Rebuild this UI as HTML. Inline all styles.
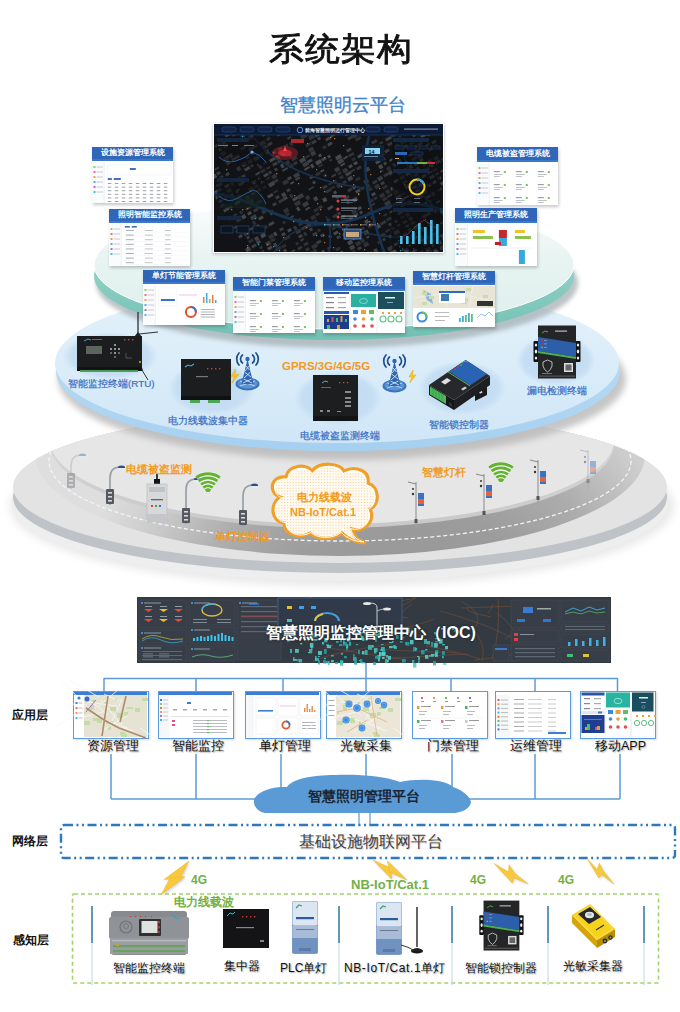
<!DOCTYPE html>
<html><head><meta charset="utf-8">
<style>
*{margin:0;padding:0;box-sizing:border-box}
html,body{width:680px;height:1012px;overflow:hidden;background:#fff;font-family:"Liberation Sans",sans-serif}
.a{position:absolute}
svg.a{overflow:visible}
.t{position:absolute;white-space:nowrap;line-height:1}
.lbl{position:absolute;white-space:nowrap;line-height:1;font-size:12.5px;color:#111;text-shadow:1px 1px 1.5px rgba(0,0,0,.35)}
.dl{position:absolute;white-space:nowrap;line-height:1;font-size:9.8px;color:#3a6cc0;-webkit-text-stroke:0.2px #3a6cc0}
.or{position:absolute;white-space:nowrap;line-height:1;font-size:10.5px;color:#f29a1e;font-weight:bold}
.gr{position:absolute;white-space:nowrap;line-height:1;font-size:12px;color:#72b043;font-weight:bold}
</style></head>
<body>
<svg class="a" style="left:0;top:0" width="680" height="1012" viewBox="0 0 680 1012">
<defs>
 <linearGradient id="g1s" x1="0" y1="0" x2="0" y2="1"><stop offset="0" stop-color="#fbfdfd"/><stop offset="0.45" stop-color="#e8f4f2"/><stop offset="1" stop-color="#dcefec"/></linearGradient>
 <linearGradient id="g1r" x1="0" y1="0" x2="0" y2="1"><stop offset="0" stop-color="#a8dcd3"/><stop offset="1" stop-color="#72c0b3"/></linearGradient>
 <linearGradient id="g2s" x1="0" y1="0" x2="0" y2="1"><stop offset="0" stop-color="#e4f2fb"/><stop offset="0.5" stop-color="#dbedf9"/><stop offset="1" stop-color="#d0e6f7"/></linearGradient>
 <linearGradient id="g2r" x1="0" y1="0" x2="0" y2="1"><stop offset="0" stop-color="#c4e2f6"/><stop offset="1" stop-color="#a6d0f0"/></linearGradient>
 <linearGradient id="g3s" x1="0" y1="0" x2="0" y2="1"><stop offset="0" stop-color="#eeeeee"/><stop offset="1" stop-color="#e0e0e0"/></linearGradient>
 <radialGradient id="g3road" gradientUnits="userSpaceOnUse" cx="410" cy="640" r="335" fx="410" fy="640"><stop offset="0" stop-color="#949494"/><stop offset="0.4" stop-color="#9c9c9c"/><stop offset="0.62" stop-color="#acacac"/><stop offset="0.85" stop-color="#cdcdcd"/><stop offset="1" stop-color="#dedede"/></radialGradient><linearGradient id="g3wall" gradientUnits="userSpaceOnUse" x1="0" y1="440" x2="0" y2="528"><stop offset="0" stop-color="#d8d8d8"/><stop offset="1" stop-color="#c8c8c8"/></linearGradient>
 <radialGradient id="halo" cx="0.5" cy="0.5" r="0.5"><stop offset="0" stop-color="#c0daf1"/><stop offset="0.8" stop-color="#c6def3"/><stop offset="1" stop-color="#c6def3" stop-opacity="0"/></radialGradient>
 <filter id="blur4" x="-20%" y="-50%" width="140%" height="200%"><feGaussianBlur stdDeviation="4"/></filter>
 <filter id="blur2"><feGaussianBlur stdDeviation="2"/></filter><filter id="blur3" x="-10%" y="-20%" width="120%" height="140%"><feGaussianBlur stdDeviation="3"/></filter>
 <filter id="sh1" x="-10%" y="-10%" width="130%" height="130%"><feGaussianBlur in="SourceAlpha" stdDeviation="1.2"/><feOffset dx="1" dy="1.5"/><feComponentTransfer><feFuncA type="linear" slope="0.35"/></feComponentTransfer><feMerge><feMergeNode/><feMergeNode in="SourceGraphic"/></feMerge></filter>
</defs>
<!-- disc 3 -->
<clipPath id="d3clip"><ellipse cx="340" cy="487" rx="327" ry="76"/></clipPath>
<ellipse cx="342" cy="506" rx="332" ry="80" fill="#e8e8e8" filter="url(#blur4)"/>
<ellipse cx="340" cy="504" rx="328" ry="77" fill="#eeeeee"/>
<ellipse cx="340" cy="497" rx="327" ry="76" fill="#bfc3c7"/>
<ellipse cx="340" cy="487" rx="327" ry="76" fill="#e3e3e3"/>
<g clip-path="url(#d3clip)">
<ellipse cx="340" cy="455" rx="305" ry="101" fill="url(#g3road)"/>
<ellipse cx="340" cy="461" rx="291" ry="80" fill="none" stroke="#f4f4f4" stroke-width="1.3" stroke-dasharray="4 2.5"/>
<ellipse cx="332" cy="444" rx="282" ry="84" fill="url(#g3wall)"/>
<ellipse cx="332" cy="440" rx="282" ry="84" fill="#e6e6e6"/>
</g>
<!-- disc 2 -->
<ellipse cx="342" cy="379" rx="284" ry="81" fill="#b4b4b4" filter="url(#blur3)" opacity="0.75"/>
<ellipse cx="338" cy="371" rx="282" ry="80" fill="url(#g2r)"/>
<ellipse cx="337" cy="363" rx="282" ry="80" fill="url(#g2s)"/>
<ellipse cx="110" cy="356" rx="48" ry="24" fill="url(#halo)"/>
<ellipse cx="212" cy="388" rx="44" ry="27" fill="url(#halo)"/>
<ellipse cx="338" cy="398" rx="44" ry="27" fill="url(#halo)"/>
<ellipse cx="462" cy="388" rx="44" ry="27" fill="url(#halo)"/>
<ellipse cx="556" cy="360" rx="40" ry="26" fill="url(#halo)"/>
<!-- disc 1 -->
<ellipse cx="337" cy="283" rx="241" ry="65" fill="#a2acb0" filter="url(#blur2)" opacity="0.7"/>
<ellipse cx="334" cy="276" rx="240" ry="64" fill="url(#g1r)"/>
<ellipse cx="334" cy="265" rx="240" ry="64" fill="url(#g1s)" stroke="#fff" stroke-width="1"/>
</svg>
<div class="t" style="left:269px;top:31.5px;font-size:35.2px;letter-spacing:1px;font-weight:normal;color:#111;-webkit-text-stroke:0.9px #111;transform:scaleY(0.92);transform-origin:0 0">系统架构</div><div class="t" style="left:280px;top:96px;font-size:18px;color:#4284cc;-webkit-text-stroke:0.35px #4284cc">智慧照明云平台</div><div class="a" style="left:213px;top:123px;width:231px;height:130px;background:#fff;box-shadow:0 1px 3px rgba(0,0,0,.25)"><div class="a" style="left:1px;top:1px;width:229px;height:128px"><svg width="229" height="128" viewBox="0 0 229 128"><rect width="229" height="128" fill="#111316"/><rect x="-7" y="20" width="3" height="3" fill="#323539" transform="rotate(-30 -7 20)"/><rect x="10" y="10" width="5" height="4" fill="#3f4246" transform="rotate(-30 10 10)"/><rect x="-4" y="24" width="6" height="2" fill="#2b2e32" transform="rotate(-30 -4 24)"/><rect x="1" y="21" width="6" height="3" fill="#2e3135" transform="rotate(-30 1 21)"/><rect x="7" y="18" width="4" height="4" fill="#383b3f" transform="rotate(-30 7 18)"/><rect x="18" y="11" width="5" height="2" fill="#383b3f" transform="rotate(-30 18 11)"/><rect x="-8" y="32" width="4" height="4" fill="#323539" transform="rotate(-30 -8 32)"/><rect x="4" y="25" width="3" height="3" fill="#3f4246" transform="rotate(-30 4 25)"/><rect x="9" y="22" width="5" height="3" fill="#323539" transform="rotate(-30 9 22)"/><rect x="26" y="12" width="4" height="4" fill="#2e3135" transform="rotate(-30 26 12)"/><rect x="-5" y="36" width="4" height="4" fill="#45484c" transform="rotate(-30 -5 36)"/><rect x="6" y="29" width="5" height="4" fill="#2b2e32" transform="rotate(-30 6 29)"/><rect x="29" y="16" width="4" height="2" fill="#45484c" transform="rotate(-30 29 16)"/><rect x="34" y="13" width="5" height="4" fill="#2e3135" transform="rotate(-30 34 13)"/><rect x="9" y="34" width="5" height="4" fill="#383b3f" transform="rotate(-30 9 34)"/><rect x="14" y="31" width="4" height="4" fill="#45484c" transform="rotate(-30 14 31)"/><rect x="26" y="24" width="6" height="3" fill="#2e3135" transform="rotate(-30 26 24)"/><rect x="31" y="21" width="3" height="2" fill="#2b2e32" transform="rotate(-30 31 21)"/><rect x="48" y="11" width="3" height="2" fill="#3f4246" transform="rotate(-30 48 11)"/><rect x="-0" y="45" width="5" height="2" fill="#323539" transform="rotate(-30 -0 45)"/><rect x="11" y="38" width="4" height="4" fill="#45484c" transform="rotate(-30 11 38)"/><rect x="17" y="35" width="6" height="3" fill="#45484c" transform="rotate(-30 17 35)"/><rect x="22" y="32" width="3" height="3" fill="#45484c" transform="rotate(-30 22 32)"/><rect x="34" y="25" width="6" height="3" fill="#323539" transform="rotate(-30 34 25)"/><rect x="39" y="22" width="4" height="3" fill="#383b3f" transform="rotate(-30 39 22)"/><rect x="45" y="19" width="6" height="4" fill="#3f4246" transform="rotate(-30 45 19)"/><rect x="51" y="15" width="5" height="3" fill="#2e3135" transform="rotate(-30 51 15)"/><rect x="62" y="9" width="4" height="4" fill="#45484c" transform="rotate(-30 62 9)"/><rect x="-3" y="52" width="5" height="4" fill="#45484c" transform="rotate(-30 -3 52)"/><rect x="2" y="49" width="4" height="3" fill="#383b3f" transform="rotate(-30 2 49)"/><rect x="31" y="33" width="4" height="3" fill="#323539" transform="rotate(-30 31 33)"/><rect x="36" y="29" width="4" height="3" fill="#3f4246" transform="rotate(-30 36 29)"/><rect x="48" y="23" width="5" height="3" fill="#45484c" transform="rotate(-30 48 23)"/><rect x="53" y="20" width="5" height="3" fill="#323539" transform="rotate(-30 53 20)"/><rect x="70" y="10" width="4" height="2" fill="#2e3135" transform="rotate(-30 70 10)"/><rect x="5" y="53" width="4" height="3" fill="#323539" transform="rotate(-30 5 53)"/><rect x="11" y="50" width="4" height="3" fill="#383b3f" transform="rotate(-30 11 50)"/><rect x="22" y="44" width="4" height="4" fill="#2e3135" transform="rotate(-30 22 44)"/><rect x="27" y="40" width="5" height="4" fill="#2b2e32" transform="rotate(-30 27 40)"/><rect x="33" y="37" width="5" height="4" fill="#2e3135" transform="rotate(-30 33 37)"/><rect x="39" y="34" width="6" height="4" fill="#383b3f" transform="rotate(-30 39 34)"/><rect x="44" y="31" width="5" height="3" fill="#2b2e32" transform="rotate(-30 44 31)"/><rect x="50" y="27" width="4" height="4" fill="#383b3f" transform="rotate(-30 50 27)"/><rect x="73" y="14" width="4" height="2" fill="#383b3f" transform="rotate(-30 73 14)"/><rect x="2" y="61" width="6" height="3" fill="#383b3f" transform="rotate(-30 2 61)"/><rect x="30" y="45" width="6" height="3" fill="#3f4246" transform="rotate(-30 30 45)"/><rect x="36" y="41" width="3" height="3" fill="#2e3135" transform="rotate(-30 36 41)"/><rect x="58" y="28" width="3" height="3" fill="#323539" transform="rotate(-30 58 28)"/><rect x="64" y="25" width="4" height="2" fill="#3f4246" transform="rotate(-30 64 25)"/><rect x="69" y="22" width="5" height="3" fill="#2b2e32" transform="rotate(-30 69 22)"/><rect x="75" y="19" width="3" height="4" fill="#2b2e32" transform="rotate(-30 75 19)"/><rect x="86" y="12" width="6" height="4" fill="#2e3135" transform="rotate(-30 86 12)"/><rect x="92" y="9" width="3" height="3" fill="#2e3135" transform="rotate(-30 92 9)"/><rect x="-1" y="68" width="6" height="3" fill="#45484c" transform="rotate(-30 -1 68)"/><rect x="4" y="65" width="3" height="3" fill="#383b3f" transform="rotate(-30 4 65)"/><rect x="10" y="62" width="5" height="3" fill="#3f4246" transform="rotate(-30 10 62)"/><rect x="16" y="59" width="3" height="4" fill="#2b2e32" transform="rotate(-30 16 59)"/><rect x="21" y="55" width="6" height="3" fill="#2b2e32" transform="rotate(-30 21 55)"/><rect x="27" y="52" width="4" height="3" fill="#323539" transform="rotate(-30 27 52)"/><rect x="44" y="42" width="3" height="4" fill="#2b2e32" transform="rotate(-30 44 42)"/><rect x="49" y="39" width="4" height="2" fill="#383b3f" transform="rotate(-30 49 39)"/><rect x="55" y="36" width="6" height="3" fill="#45484c" transform="rotate(-30 55 36)"/><rect x="61" y="33" width="4" height="4" fill="#45484c" transform="rotate(-30 61 33)"/><rect x="66" y="29" width="4" height="4" fill="#323539" transform="rotate(-30 66 29)"/><rect x="94" y="13" width="6" height="4" fill="#2e3135" transform="rotate(-30 94 13)"/><rect x="100" y="10" width="5" height="4" fill="#45484c" transform="rotate(-30 100 10)"/><rect x="1" y="73" width="4" height="3" fill="#3f4246" transform="rotate(-30 1 73)"/><rect x="7" y="70" width="3" height="3" fill="#3f4246" transform="rotate(-30 7 70)"/><rect x="12" y="66" width="5" height="4" fill="#2e3135" transform="rotate(-30 12 66)"/><rect x="24" y="60" width="6" height="3" fill="#3f4246" transform="rotate(-30 24 60)"/><rect x="41" y="50" width="5" height="2" fill="#3f4246" transform="rotate(-30 41 50)"/><rect x="46" y="47" width="5" height="3" fill="#2b2e32" transform="rotate(-30 46 47)"/><rect x="52" y="44" width="4" height="2" fill="#2e3135" transform="rotate(-30 52 44)"/><rect x="58" y="40" width="5" height="3" fill="#383b3f" transform="rotate(-30 58 40)"/><rect x="63" y="37" width="4" height="3" fill="#383b3f" transform="rotate(-30 63 37)"/><rect x="74" y="31" width="3" height="3" fill="#383b3f" transform="rotate(-30 74 31)"/><rect x="91" y="21" width="6" height="3" fill="#2b2e32" transform="rotate(-30 91 21)"/><rect x="97" y="18" width="5" height="3" fill="#383b3f" transform="rotate(-30 97 18)"/><rect x="103" y="14" width="3" height="3" fill="#3f4246" transform="rotate(-30 103 14)"/><rect x="4" y="77" width="4" height="3" fill="#45484c" transform="rotate(-30 4 77)"/><rect x="9" y="74" width="6" height="3" fill="#2e3135" transform="rotate(-30 9 74)"/><rect x="15" y="71" width="4" height="3" fill="#3f4246" transform="rotate(-30 15 71)"/><rect x="21" y="67" width="3" height="3" fill="#3f4246" transform="rotate(-30 21 67)"/><rect x="37" y="58" width="5" height="3" fill="#383b3f" transform="rotate(-30 37 58)"/><rect x="43" y="54" width="3" height="3" fill="#383b3f" transform="rotate(-30 43 54)"/><rect x="49" y="51" width="5" height="3" fill="#3f4246" transform="rotate(-30 49 51)"/><rect x="54" y="48" width="3" height="3" fill="#383b3f" transform="rotate(-30 54 48)"/><rect x="60" y="45" width="3" height="3" fill="#383b3f" transform="rotate(-30 60 45)"/><rect x="66" y="41" width="3" height="4" fill="#45484c" transform="rotate(-30 66 41)"/><rect x="71" y="38" width="4" height="4" fill="#2e3135" transform="rotate(-30 71 38)"/><rect x="77" y="35" width="6" height="3" fill="#2e3135" transform="rotate(-30 77 35)"/><rect x="94" y="25" width="5" height="4" fill="#323539" transform="rotate(-30 94 25)"/><rect x="111" y="15" width="5" height="3" fill="#3f4246" transform="rotate(-30 111 15)"/><rect x="116" y="12" width="5" height="2" fill="#45484c" transform="rotate(-30 116 12)"/><rect x="6" y="81" width="4" height="3" fill="#323539" transform="rotate(-30 6 81)"/><rect x="23" y="72" width="4" height="2" fill="#323539" transform="rotate(-30 23 72)"/><rect x="34" y="65" width="5" height="3" fill="#323539" transform="rotate(-30 34 65)"/><rect x="40" y="62" width="4" height="3" fill="#2e3135" transform="rotate(-30 40 62)"/><rect x="46" y="59" width="5" height="2" fill="#2e3135" transform="rotate(-30 46 59)"/><rect x="51" y="55" width="5" height="2" fill="#2b2e32" transform="rotate(-30 51 55)"/><rect x="57" y="52" width="5" height="4" fill="#2e3135" transform="rotate(-30 57 52)"/><rect x="68" y="46" width="6" height="2" fill="#3f4246" transform="rotate(-30 68 46)"/><rect x="74" y="42" width="5" height="3" fill="#2e3135" transform="rotate(-30 74 42)"/><rect x="79" y="39" width="4" height="3" fill="#323539" transform="rotate(-30 79 39)"/><rect x="85" y="36" width="6" height="4" fill="#3f4246" transform="rotate(-30 85 36)"/><rect x="91" y="33" width="5" height="2" fill="#2e3135" transform="rotate(-30 91 33)"/><rect x="96" y="29" width="5" height="4" fill="#383b3f" transform="rotate(-30 96 29)"/><rect x="108" y="23" width="4" height="3" fill="#2b2e32" transform="rotate(-30 108 23)"/><rect x="113" y="20" width="5" height="3" fill="#3f4246" transform="rotate(-30 113 20)"/><rect x="130" y="10" width="5" height="3" fill="#45484c" transform="rotate(-30 130 10)"/><rect x="9" y="86" width="6" height="3" fill="#3f4246" transform="rotate(-30 9 86)"/><rect x="14" y="83" width="4" height="3" fill="#2e3135" transform="rotate(-30 14 83)"/><rect x="20" y="79" width="6" height="3" fill="#3f4246" transform="rotate(-30 20 79)"/><rect x="31" y="73" width="4" height="4" fill="#323539" transform="rotate(-30 31 73)"/><rect x="37" y="70" width="4" height="2" fill="#3f4246" transform="rotate(-30 37 70)"/><rect x="42" y="66" width="5" height="3" fill="#323539" transform="rotate(-30 42 66)"/><rect x="48" y="63" width="4" height="3" fill="#2e3135" transform="rotate(-30 48 63)"/><rect x="54" y="60" width="6" height="4" fill="#3f4246" transform="rotate(-30 54 60)"/><rect x="59" y="57" width="5" height="3" fill="#323539" transform="rotate(-30 59 57)"/><rect x="88" y="40" width="6" height="4" fill="#383b3f" transform="rotate(-30 88 40)"/><rect x="93" y="37" width="5" height="3" fill="#3f4246" transform="rotate(-30 93 37)"/><rect x="104" y="31" width="3" height="3" fill="#45484c" transform="rotate(-30 104 31)"/><rect x="133" y="14" width="6" height="3" fill="#323539" transform="rotate(-30 133 14)"/><rect x="138" y="11" width="4" height="4" fill="#323539" transform="rotate(-30 138 11)"/><rect x="34" y="77" width="5" height="4" fill="#323539" transform="rotate(-30 34 77)"/><rect x="45" y="71" width="3" height="3" fill="#2b2e32" transform="rotate(-30 45 71)"/><rect x="68" y="58" width="6" height="4" fill="#2e3135" transform="rotate(-30 68 58)"/><rect x="73" y="54" width="4" height="3" fill="#3f4246" transform="rotate(-30 73 54)"/><rect x="79" y="51" width="6" height="4" fill="#383b3f" transform="rotate(-30 79 51)"/><rect x="90" y="45" width="6" height="2" fill="#45484c" transform="rotate(-30 90 45)"/><rect x="96" y="41" width="3" height="4" fill="#45484c" transform="rotate(-30 96 41)"/><rect x="101" y="38" width="6" height="4" fill="#45484c" transform="rotate(-30 101 38)"/><rect x="107" y="35" width="5" height="3" fill="#3f4246" transform="rotate(-30 107 35)"/><rect x="113" y="32" width="3" height="3" fill="#45484c" transform="rotate(-30 113 32)"/><rect x="141" y="15" width="6" height="3" fill="#2e3135" transform="rotate(-30 141 15)"/><rect x="152" y="9" width="4" height="2" fill="#45484c" transform="rotate(-30 152 9)"/><rect x="14" y="94" width="3" height="3" fill="#323539" transform="rotate(-30 14 94)"/><rect x="19" y="91" width="4" height="2" fill="#2b2e32" transform="rotate(-30 19 91)"/><rect x="25" y="88" width="3" height="3" fill="#2e3135" transform="rotate(-30 25 88)"/><rect x="31" y="85" width="6" height="2" fill="#323539" transform="rotate(-30 31 85)"/><rect x="42" y="78" width="6" height="3" fill="#2e3135" transform="rotate(-30 42 78)"/><rect x="53" y="72" width="6" height="3" fill="#45484c" transform="rotate(-30 53 72)"/><rect x="59" y="68" width="5" height="2" fill="#2b2e32" transform="rotate(-30 59 68)"/><rect x="76" y="59" width="4" height="2" fill="#45484c" transform="rotate(-30 76 59)"/><rect x="81" y="55" width="5" height="2" fill="#3f4246" transform="rotate(-30 81 55)"/><rect x="104" y="42" width="5" height="2" fill="#2b2e32" transform="rotate(-30 104 42)"/><rect x="115" y="36" width="3" height="2" fill="#2b2e32" transform="rotate(-30 115 36)"/><rect x="121" y="33" width="6" height="4" fill="#45484c" transform="rotate(-30 121 33)"/><rect x="132" y="26" width="5" height="3" fill="#3f4246" transform="rotate(-30 132 26)"/><rect x="22" y="96" width="5" height="3" fill="#2e3135" transform="rotate(-30 22 96)"/><rect x="27" y="92" width="4" height="4" fill="#45484c" transform="rotate(-30 27 92)"/><rect x="33" y="89" width="4" height="3" fill="#45484c" transform="rotate(-30 33 89)"/><rect x="39" y="86" width="5" height="3" fill="#323539" transform="rotate(-30 39 86)"/><rect x="61" y="73" width="4" height="3" fill="#383b3f" transform="rotate(-30 61 73)"/><rect x="67" y="70" width="4" height="4" fill="#3f4246" transform="rotate(-30 67 70)"/><rect x="72" y="66" width="4" height="3" fill="#383b3f" transform="rotate(-30 72 66)"/><rect x="95" y="53" width="4" height="3" fill="#383b3f" transform="rotate(-30 95 53)"/><rect x="101" y="50" width="5" height="3" fill="#2e3135" transform="rotate(-30 101 50)"/><rect x="106" y="47" width="4" height="2" fill="#45484c" transform="rotate(-30 106 47)"/><rect x="123" y="37" width="6" height="4" fill="#3f4246" transform="rotate(-30 123 37)"/><rect x="129" y="34" width="5" height="2" fill="#3f4246" transform="rotate(-30 129 34)"/><rect x="134" y="31" width="6" height="3" fill="#2e3135" transform="rotate(-30 134 31)"/><rect x="157" y="18" width="6" height="3" fill="#323539" transform="rotate(-30 157 18)"/><rect x="19" y="103" width="4" height="3" fill="#2e3135" transform="rotate(-30 19 103)"/><rect x="36" y="93" width="6" height="4" fill="#383b3f" transform="rotate(-30 36 93)"/><rect x="47" y="87" width="4" height="4" fill="#2e3135" transform="rotate(-30 47 87)"/><rect x="58" y="80" width="4" height="3" fill="#383b3f" transform="rotate(-30 58 80)"/><rect x="64" y="77" width="6" height="3" fill="#323539" transform="rotate(-30 64 77)"/><rect x="69" y="74" width="4" height="3" fill="#3f4246" transform="rotate(-30 69 74)"/><rect x="75" y="71" width="3" height="4" fill="#2e3135" transform="rotate(-30 75 71)"/><rect x="98" y="58" width="3" height="3" fill="#3f4246" transform="rotate(-30 98 58)"/><rect x="109" y="51" width="3" height="3" fill="#2b2e32" transform="rotate(-30 109 51)"/><rect x="120" y="45" width="5" height="4" fill="#383b3f" transform="rotate(-30 120 45)"/><rect x="126" y="41" width="5" height="2" fill="#45484c" transform="rotate(-30 126 41)"/><rect x="137" y="35" width="4" height="3" fill="#2b2e32" transform="rotate(-30 137 35)"/><rect x="143" y="32" width="6" height="3" fill="#45484c" transform="rotate(-30 143 32)"/><rect x="148" y="28" width="5" height="4" fill="#45484c" transform="rotate(-30 148 28)"/><rect x="154" y="25" width="4" height="2" fill="#383b3f" transform="rotate(-30 154 25)"/><rect x="165" y="19" width="4" height="2" fill="#323539" transform="rotate(-30 165 19)"/><rect x="171" y="15" width="6" height="3" fill="#3f4246" transform="rotate(-30 171 15)"/><rect x="176" y="12" width="5" height="3" fill="#2b2e32" transform="rotate(-30 176 12)"/><rect x="21" y="107" width="3" height="3" fill="#2b2e32" transform="rotate(-30 21 107)"/><rect x="27" y="104" width="5" height="4" fill="#2b2e32" transform="rotate(-30 27 104)"/><rect x="38" y="98" width="3" height="4" fill="#2b2e32" transform="rotate(-30 38 98)"/><rect x="44" y="94" width="5" height="3" fill="#45484c" transform="rotate(-30 44 94)"/><rect x="55" y="88" width="4" height="4" fill="#3f4246" transform="rotate(-30 55 88)"/><rect x="78" y="75" width="6" height="3" fill="#45484c" transform="rotate(-30 78 75)"/><rect x="83" y="72" width="6" height="4" fill="#383b3f" transform="rotate(-30 83 72)"/><rect x="94" y="65" width="6" height="2" fill="#323539" transform="rotate(-30 94 65)"/><rect x="117" y="52" width="5" height="2" fill="#383b3f" transform="rotate(-30 117 52)"/><rect x="123" y="49" width="4" height="3" fill="#2b2e32" transform="rotate(-30 123 49)"/><rect x="128" y="46" width="5" height="4" fill="#323539" transform="rotate(-30 128 46)"/><rect x="134" y="42" width="4" height="3" fill="#45484c" transform="rotate(-30 134 42)"/><rect x="139" y="39" width="4" height="3" fill="#45484c" transform="rotate(-30 139 39)"/><rect x="156" y="29" width="4" height="3" fill="#383b3f" transform="rotate(-30 156 29)"/><rect x="173" y="20" width="5" height="3" fill="#323539" transform="rotate(-30 173 20)"/><rect x="179" y="16" width="4" height="2" fill="#383b3f" transform="rotate(-30 179 16)"/><rect x="184" y="13" width="3" height="3" fill="#2b2e32" transform="rotate(-30 184 13)"/><rect x="190" y="10" width="3" height="2" fill="#383b3f" transform="rotate(-30 190 10)"/><rect x="24" y="112" width="4" height="3" fill="#3f4246" transform="rotate(-30 24 112)"/><rect x="29" y="109" width="5" height="4" fill="#2e3135" transform="rotate(-30 29 109)"/><rect x="35" y="105" width="4" height="2" fill="#3f4246" transform="rotate(-30 35 105)"/><rect x="41" y="102" width="4" height="4" fill="#383b3f" transform="rotate(-30 41 102)"/><rect x="69" y="86" width="5" height="4" fill="#2e3135" transform="rotate(-30 69 86)"/><rect x="80" y="79" width="6" height="4" fill="#323539" transform="rotate(-30 80 79)"/><rect x="91" y="73" width="4" height="4" fill="#2e3135" transform="rotate(-30 91 73)"/><rect x="108" y="63" width="5" height="3" fill="#323539" transform="rotate(-30 108 63)"/><rect x="114" y="60" width="5" height="2" fill="#2b2e32" transform="rotate(-30 114 60)"/><rect x="119" y="57" width="3" height="3" fill="#2b2e32" transform="rotate(-30 119 57)"/><rect x="125" y="53" width="4" height="3" fill="#2e3135" transform="rotate(-30 125 53)"/><rect x="131" y="50" width="6" height="3" fill="#3f4246" transform="rotate(-30 131 50)"/><rect x="136" y="47" width="5" height="2" fill="#323539" transform="rotate(-30 136 47)"/><rect x="142" y="44" width="5" height="3" fill="#323539" transform="rotate(-30 142 44)"/><rect x="159" y="34" width="4" height="3" fill="#2e3135" transform="rotate(-30 159 34)"/><rect x="164" y="31" width="6" height="3" fill="#383b3f" transform="rotate(-30 164 31)"/><rect x="170" y="27" width="5" height="3" fill="#383b3f" transform="rotate(-30 170 27)"/><rect x="181" y="21" width="4" height="3" fill="#323539" transform="rotate(-30 181 21)"/><rect x="187" y="18" width="6" height="3" fill="#2e3135" transform="rotate(-30 187 18)"/><rect x="198" y="11" width="3" height="3" fill="#323539" transform="rotate(-30 198 11)"/><rect x="32" y="113" width="3" height="3" fill="#383b3f" transform="rotate(-30 32 113)"/><rect x="49" y="103" width="4" height="3" fill="#2e3135" transform="rotate(-30 49 103)"/><rect x="54" y="100" width="6" height="3" fill="#3f4246" transform="rotate(-30 54 100)"/><rect x="71" y="90" width="4" height="3" fill="#2b2e32" transform="rotate(-30 71 90)"/><rect x="82" y="84" width="3" height="4" fill="#45484c" transform="rotate(-30 82 84)"/><rect x="88" y="80" width="6" height="4" fill="#383b3f" transform="rotate(-30 88 80)"/><rect x="99" y="74" width="4" height="4" fill="#3f4246" transform="rotate(-30 99 74)"/><rect x="111" y="67" width="6" height="3" fill="#2e3135" transform="rotate(-30 111 67)"/><rect x="116" y="64" width="5" height="2" fill="#2b2e32" transform="rotate(-30 116 64)"/><rect x="122" y="61" width="5" height="4" fill="#2e3135" transform="rotate(-30 122 61)"/><rect x="128" y="58" width="4" height="3" fill="#2e3135" transform="rotate(-30 128 58)"/><rect x="133" y="54" width="5" height="4" fill="#3f4246" transform="rotate(-30 133 54)"/><rect x="150" y="45" width="5" height="4" fill="#3f4246" transform="rotate(-30 150 45)"/><rect x="161" y="38" width="5" height="3" fill="#45484c" transform="rotate(-30 161 38)"/><rect x="167" y="35" width="4" height="3" fill="#2b2e32" transform="rotate(-30 167 35)"/><rect x="189" y="22" width="4" height="3" fill="#3f4246" transform="rotate(-30 189 22)"/><rect x="195" y="19" width="4" height="3" fill="#2e3135" transform="rotate(-30 195 19)"/><rect x="201" y="15" width="4" height="2" fill="#45484c" transform="rotate(-30 201 15)"/><rect x="206" y="12" width="6" height="3" fill="#3f4246" transform="rotate(-30 206 12)"/><rect x="212" y="9" width="6" height="4" fill="#3f4246" transform="rotate(-30 212 9)"/><rect x="34" y="117" width="5" height="3" fill="#2e3135" transform="rotate(-30 34 117)"/><rect x="40" y="114" width="4" height="4" fill="#3f4246" transform="rotate(-30 40 114)"/><rect x="46" y="111" width="5" height="4" fill="#45484c" transform="rotate(-30 46 111)"/><rect x="68" y="98" width="3" height="3" fill="#2b2e32" transform="rotate(-30 68 98)"/><rect x="74" y="94" width="6" height="2" fill="#383b3f" transform="rotate(-30 74 94)"/><rect x="91" y="85" width="5" height="2" fill="#3f4246" transform="rotate(-30 91 85)"/><rect x="108" y="75" width="4" height="4" fill="#45484c" transform="rotate(-30 108 75)"/><rect x="119" y="68" width="3" height="3" fill="#45484c" transform="rotate(-30 119 68)"/><rect x="141" y="55" width="5" height="3" fill="#2b2e32" transform="rotate(-30 141 55)"/><rect x="164" y="42" width="4" height="4" fill="#45484c" transform="rotate(-30 164 42)"/><rect x="169" y="39" width="3" height="3" fill="#3f4246" transform="rotate(-30 169 39)"/><rect x="175" y="36" width="4" height="2" fill="#45484c" transform="rotate(-30 175 36)"/><rect x="198" y="23" width="5" height="3" fill="#3f4246" transform="rotate(-30 198 23)"/><rect x="203" y="20" width="5" height="3" fill="#383b3f" transform="rotate(-30 203 20)"/><rect x="31" y="125" width="5" height="4" fill="#3f4246" transform="rotate(-30 31 125)"/><rect x="37" y="122" width="5" height="3" fill="#383b3f" transform="rotate(-30 37 122)"/><rect x="42" y="118" width="4" height="3" fill="#45484c" transform="rotate(-30 42 118)"/><rect x="54" y="112" width="5" height="4" fill="#2e3135" transform="rotate(-30 54 112)"/><rect x="59" y="109" width="3" height="4" fill="#45484c" transform="rotate(-30 59 109)"/><rect x="65" y="105" width="4" height="3" fill="#383b3f" transform="rotate(-30 65 105)"/><rect x="82" y="96" width="5" height="4" fill="#2b2e32" transform="rotate(-30 82 96)"/><rect x="99" y="86" width="5" height="3" fill="#2b2e32" transform="rotate(-30 99 86)"/><rect x="104" y="83" width="4" height="3" fill="#323539" transform="rotate(-30 104 83)"/><rect x="121" y="73" width="3" height="3" fill="#2b2e32" transform="rotate(-30 121 73)"/><rect x="133" y="66" width="5" height="3" fill="#323539" transform="rotate(-30 133 66)"/><rect x="138" y="63" width="4" height="3" fill="#45484c" transform="rotate(-30 138 63)"/><rect x="149" y="57" width="5" height="4" fill="#323539" transform="rotate(-30 149 57)"/><rect x="166" y="47" width="3" height="2" fill="#2e3135" transform="rotate(-30 166 47)"/><rect x="172" y="44" width="4" height="4" fill="#2b2e32" transform="rotate(-30 172 44)"/><rect x="178" y="40" width="3" height="4" fill="#45484c" transform="rotate(-30 178 40)"/><rect x="183" y="37" width="4" height="4" fill="#383b3f" transform="rotate(-30 183 37)"/><rect x="194" y="31" width="3" height="2" fill="#45484c" transform="rotate(-30 194 31)"/><rect x="200" y="27" width="5" height="4" fill="#323539" transform="rotate(-30 200 27)"/><rect x="211" y="21" width="5" height="2" fill="#383b3f" transform="rotate(-30 211 21)"/><rect x="217" y="18" width="5" height="3" fill="#45484c" transform="rotate(-30 217 18)"/><rect x="228" y="11" width="5" height="3" fill="#2b2e32" transform="rotate(-30 228 11)"/><rect x="45" y="123" width="3" height="3" fill="#2e3135" transform="rotate(-30 45 123)"/><rect x="51" y="119" width="5" height="4" fill="#383b3f" transform="rotate(-30 51 119)"/><rect x="56" y="116" width="5" height="3" fill="#2b2e32" transform="rotate(-30 56 116)"/><rect x="67" y="110" width="4" height="3" fill="#3f4246" transform="rotate(-30 67 110)"/><rect x="73" y="106" width="4" height="3" fill="#45484c" transform="rotate(-30 73 106)"/><rect x="79" y="103" width="3" height="4" fill="#323539" transform="rotate(-30 79 103)"/><rect x="84" y="100" width="5" height="3" fill="#2b2e32" transform="rotate(-30 84 100)"/><rect x="90" y="97" width="4" height="3" fill="#3f4246" transform="rotate(-30 90 97)"/><rect x="96" y="93" width="5" height="4" fill="#2b2e32" transform="rotate(-30 96 93)"/><rect x="101" y="90" width="4" height="3" fill="#2b2e32" transform="rotate(-30 101 90)"/><rect x="113" y="84" width="6" height="3" fill="#3f4246" transform="rotate(-30 113 84)"/><rect x="129" y="74" width="6" height="3" fill="#383b3f" transform="rotate(-30 129 74)"/><rect x="141" y="67" width="5" height="3" fill="#45484c" transform="rotate(-30 141 67)"/><rect x="146" y="64" width="4" height="3" fill="#323539" transform="rotate(-30 146 64)"/><rect x="152" y="61" width="3" height="4" fill="#2e3135" transform="rotate(-30 152 61)"/><rect x="158" y="58" width="5" height="3" fill="#323539" transform="rotate(-30 158 58)"/><rect x="163" y="54" width="5" height="4" fill="#383b3f" transform="rotate(-30 163 54)"/><rect x="169" y="51" width="6" height="3" fill="#323539" transform="rotate(-30 169 51)"/><rect x="174" y="48" width="4" height="4" fill="#383b3f" transform="rotate(-30 174 48)"/><rect x="197" y="35" width="6" height="3" fill="#2e3135" transform="rotate(-30 197 35)"/><rect x="203" y="32" width="4" height="4" fill="#323539" transform="rotate(-30 203 32)"/><rect x="214" y="25" width="4" height="3" fill="#3f4246" transform="rotate(-30 214 25)"/><rect x="219" y="22" width="4" height="3" fill="#2e3135" transform="rotate(-30 219 22)"/><rect x="42" y="130" width="4" height="3" fill="#3f4246" transform="rotate(-30 42 130)"/><rect x="47" y="127" width="3" height="2" fill="#2e3135" transform="rotate(-30 47 127)"/><rect x="53" y="124" width="5" height="3" fill="#45484c" transform="rotate(-30 53 124)"/><rect x="59" y="120" width="3" height="4" fill="#3f4246" transform="rotate(-30 59 120)"/><rect x="70" y="114" width="6" height="3" fill="#2b2e32" transform="rotate(-30 70 114)"/><rect x="81" y="107" width="5" height="4" fill="#323539" transform="rotate(-30 81 107)"/><rect x="87" y="104" width="6" height="3" fill="#383b3f" transform="rotate(-30 87 104)"/><rect x="92" y="101" width="5" height="3" fill="#383b3f" transform="rotate(-30 92 101)"/><rect x="98" y="98" width="5" height="3" fill="#2e3135" transform="rotate(-30 98 98)"/><rect x="121" y="85" width="3" height="3" fill="#2b2e32" transform="rotate(-30 121 85)"/><rect x="132" y="78" width="3" height="3" fill="#323539" transform="rotate(-30 132 78)"/><rect x="138" y="75" width="5" height="4" fill="#3f4246" transform="rotate(-30 138 75)"/><rect x="154" y="65" width="4" height="3" fill="#2b2e32" transform="rotate(-30 154 65)"/><rect x="160" y="62" width="5" height="4" fill="#2e3135" transform="rotate(-30 160 62)"/><rect x="166" y="59" width="4" height="3" fill="#383b3f" transform="rotate(-30 166 59)"/><rect x="183" y="49" width="5" height="3" fill="#383b3f" transform="rotate(-30 183 49)"/><rect x="188" y="46" width="5" height="2" fill="#3f4246" transform="rotate(-30 188 46)"/><rect x="194" y="42" width="4" height="4" fill="#3f4246" transform="rotate(-30 194 42)"/><rect x="199" y="39" width="4" height="4" fill="#45484c" transform="rotate(-30 199 39)"/><rect x="205" y="36" width="4" height="3" fill="#45484c" transform="rotate(-30 205 36)"/><rect x="50" y="131" width="5" height="3" fill="#323539" transform="rotate(-30 50 131)"/><rect x="61" y="125" width="6" height="3" fill="#2e3135" transform="rotate(-30 61 125)"/><rect x="67" y="122" width="5" height="3" fill="#2b2e32" transform="rotate(-30 67 122)"/><rect x="84" y="112" width="4" height="3" fill="#3f4246" transform="rotate(-30 84 112)"/><rect x="89" y="109" width="3" height="4" fill="#2e3135" transform="rotate(-30 89 109)"/><rect x="95" y="105" width="3" height="3" fill="#3f4246" transform="rotate(-30 95 105)"/><rect x="112" y="96" width="4" height="3" fill="#2b2e32" transform="rotate(-30 112 96)"/><rect x="118" y="92" width="5" height="3" fill="#2e3135" transform="rotate(-30 118 92)"/><rect x="123" y="89" width="3" height="3" fill="#383b3f" transform="rotate(-30 123 89)"/><rect x="157" y="70" width="4" height="3" fill="#45484c" transform="rotate(-30 157 70)"/><rect x="168" y="63" width="5" height="3" fill="#2b2e32" transform="rotate(-30 168 63)"/><rect x="179" y="57" width="5" height="3" fill="#45484c" transform="rotate(-30 179 57)"/><rect x="185" y="53" width="5" height="4" fill="#2e3135" transform="rotate(-30 185 53)"/><rect x="191" y="50" width="5" height="3" fill="#45484c" transform="rotate(-30 191 50)"/><rect x="196" y="47" width="5" height="3" fill="#2e3135" transform="rotate(-30 196 47)"/><rect x="202" y="44" width="3" height="3" fill="#3f4246" transform="rotate(-30 202 44)"/><rect x="208" y="40" width="3" height="3" fill="#383b3f" transform="rotate(-30 208 40)"/><rect x="213" y="37" width="4" height="3" fill="#383b3f" transform="rotate(-30 213 37)"/><rect x="219" y="34" width="5" height="4" fill="#2e3135" transform="rotate(-30 219 34)"/><rect x="230" y="27" width="4" height="4" fill="#323539" transform="rotate(-30 230 27)"/><rect x="69" y="126" width="3" height="3" fill="#3f4246" transform="rotate(-30 69 126)"/><rect x="81" y="119" width="3" height="3" fill="#2b2e32" transform="rotate(-30 81 119)"/><rect x="86" y="116" width="4" height="2" fill="#383b3f" transform="rotate(-30 86 116)"/><rect x="98" y="110" width="5" height="3" fill="#383b3f" transform="rotate(-30 98 110)"/><rect x="103" y="106" width="3" height="3" fill="#2e3135" transform="rotate(-30 103 106)"/><rect x="114" y="100" width="6" height="4" fill="#323539" transform="rotate(-30 114 100)"/><rect x="126" y="93" width="5" height="3" fill="#383b3f" transform="rotate(-30 126 93)"/><rect x="137" y="87" width="5" height="4" fill="#2e3135" transform="rotate(-30 137 87)"/><rect x="143" y="84" width="4" height="3" fill="#45484c" transform="rotate(-30 143 84)"/><rect x="154" y="77" width="5" height="3" fill="#2e3135" transform="rotate(-30 154 77)"/><rect x="159" y="74" width="4" height="3" fill="#2b2e32" transform="rotate(-30 159 74)"/><rect x="165" y="71" width="5" height="4" fill="#2e3135" transform="rotate(-30 165 71)"/><rect x="171" y="67" width="4" height="4" fill="#2b2e32" transform="rotate(-30 171 67)"/><rect x="176" y="64" width="3" height="4" fill="#45484c" transform="rotate(-30 176 64)"/><rect x="188" y="58" width="5" height="3" fill="#2e3135" transform="rotate(-30 188 58)"/><rect x="199" y="51" width="5" height="3" fill="#323539" transform="rotate(-30 199 51)"/><rect x="210" y="45" width="5" height="4" fill="#2e3135" transform="rotate(-30 210 45)"/><rect x="216" y="41" width="3" height="3" fill="#45484c" transform="rotate(-30 216 41)"/><rect x="221" y="38" width="5" height="3" fill="#45484c" transform="rotate(-30 221 38)"/><rect x="227" y="35" width="4" height="4" fill="#2b2e32" transform="rotate(-30 227 35)"/><rect x="72" y="130" width="5" height="3" fill="#2b2e32" transform="rotate(-30 72 130)"/><rect x="77" y="127" width="4" height="2" fill="#383b3f" transform="rotate(-30 77 127)"/><rect x="83" y="124" width="5" height="3" fill="#323539" transform="rotate(-30 83 124)"/><rect x="89" y="120" width="5" height="3" fill="#2e3135" transform="rotate(-30 89 120)"/><rect x="106" y="111" width="4" height="3" fill="#3f4246" transform="rotate(-30 106 111)"/><rect x="117" y="104" width="4" height="3" fill="#2b2e32" transform="rotate(-30 117 104)"/><rect x="123" y="101" width="3" height="4" fill="#383b3f" transform="rotate(-30 123 101)"/><rect x="134" y="94" width="5" height="3" fill="#2e3135" transform="rotate(-30 134 94)"/><rect x="139" y="91" width="5" height="3" fill="#383b3f" transform="rotate(-30 139 91)"/><rect x="145" y="88" width="3" height="3" fill="#3f4246" transform="rotate(-30 145 88)"/><rect x="156" y="81" width="5" height="2" fill="#2e3135" transform="rotate(-30 156 81)"/><rect x="168" y="75" width="5" height="3" fill="#2e3135" transform="rotate(-30 168 75)"/><rect x="173" y="72" width="6" height="2" fill="#323539" transform="rotate(-30 173 72)"/><rect x="179" y="68" width="5" height="4" fill="#2e3135" transform="rotate(-30 179 68)"/><rect x="190" y="62" width="4" height="4" fill="#383b3f" transform="rotate(-30 190 62)"/><rect x="196" y="59" width="5" height="3" fill="#323539" transform="rotate(-30 196 59)"/><rect x="201" y="55" width="5" height="4" fill="#3f4246" transform="rotate(-30 201 55)"/><rect x="207" y="52" width="5" height="3" fill="#3f4246" transform="rotate(-30 207 52)"/><rect x="213" y="49" width="5" height="2" fill="#3f4246" transform="rotate(-30 213 49)"/><rect x="218" y="46" width="5" height="3" fill="#2b2e32" transform="rotate(-30 218 46)"/><rect x="91" y="125" width="4" height="3" fill="#323539" transform="rotate(-30 91 125)"/><rect x="97" y="122" width="6" height="4" fill="#2e3135" transform="rotate(-30 97 122)"/><rect x="102" y="118" width="5" height="3" fill="#383b3f" transform="rotate(-30 102 118)"/><rect x="114" y="112" width="3" height="3" fill="#45484c" transform="rotate(-30 114 112)"/><rect x="119" y="109" width="5" height="3" fill="#45484c" transform="rotate(-30 119 109)"/><rect x="131" y="102" width="6" height="3" fill="#2e3135" transform="rotate(-30 131 102)"/><rect x="148" y="92" width="3" height="2" fill="#2e3135" transform="rotate(-30 148 92)"/><rect x="153" y="89" width="3" height="3" fill="#383b3f" transform="rotate(-30 153 89)"/><rect x="170" y="79" width="6" height="4" fill="#323539" transform="rotate(-30 170 79)"/><rect x="181" y="73" width="6" height="3" fill="#3f4246" transform="rotate(-30 181 73)"/><rect x="187" y="70" width="4" height="2" fill="#2b2e32" transform="rotate(-30 187 70)"/><rect x="198" y="63" width="4" height="3" fill="#3f4246" transform="rotate(-30 198 63)"/><rect x="204" y="60" width="4" height="4" fill="#3f4246" transform="rotate(-30 204 60)"/><rect x="215" y="53" width="5" height="3" fill="#45484c" transform="rotate(-30 215 53)"/><rect x="221" y="50" width="4" height="2" fill="#3f4246" transform="rotate(-30 221 50)"/><rect x="226" y="47" width="6" height="2" fill="#383b3f" transform="rotate(-30 226 47)"/><rect x="94" y="129" width="5" height="3" fill="#2b2e32" transform="rotate(-30 94 129)"/><rect x="99" y="126" width="3" height="4" fill="#2e3135" transform="rotate(-30 99 126)"/><rect x="122" y="113" width="4" height="3" fill="#383b3f" transform="rotate(-30 122 113)"/><rect x="128" y="110" width="3" height="3" fill="#383b3f" transform="rotate(-30 128 110)"/><rect x="150" y="97" width="4" height="4" fill="#45484c" transform="rotate(-30 150 97)"/><rect x="156" y="93" width="3" height="3" fill="#2b2e32" transform="rotate(-30 156 93)"/><rect x="173" y="84" width="4" height="2" fill="#323539" transform="rotate(-30 173 84)"/><rect x="178" y="80" width="4" height="2" fill="#3f4246" transform="rotate(-30 178 80)"/><rect x="184" y="77" width="6" height="3" fill="#45484c" transform="rotate(-30 184 77)"/><rect x="189" y="74" width="6" height="2" fill="#45484c" transform="rotate(-30 189 74)"/><rect x="195" y="71" width="6" height="3" fill="#2b2e32" transform="rotate(-30 195 71)"/><rect x="201" y="67" width="5" height="2" fill="#45484c" transform="rotate(-30 201 67)"/><rect x="212" y="61" width="5" height="3" fill="#2b2e32" transform="rotate(-30 212 61)"/><rect x="218" y="58" width="4" height="3" fill="#45484c" transform="rotate(-30 218 58)"/><rect x="223" y="54" width="4" height="3" fill="#323539" transform="rotate(-30 223 54)"/><rect x="229" y="51" width="3" height="3" fill="#45484c" transform="rotate(-30 229 51)"/><rect x="102" y="130" width="4" height="3" fill="#45484c" transform="rotate(-30 102 130)"/><rect x="107" y="127" width="3" height="3" fill="#45484c" transform="rotate(-30 107 127)"/><rect x="113" y="124" width="4" height="2" fill="#3f4246" transform="rotate(-30 113 124)"/><rect x="130" y="114" width="4" height="3" fill="#383b3f" transform="rotate(-30 130 114)"/><rect x="141" y="107" width="3" height="2" fill="#323539" transform="rotate(-30 141 107)"/><rect x="147" y="104" width="3" height="3" fill="#2e3135" transform="rotate(-30 147 104)"/><rect x="153" y="101" width="5" height="4" fill="#2e3135" transform="rotate(-30 153 101)"/><rect x="158" y="98" width="3" height="3" fill="#323539" transform="rotate(-30 158 98)"/><rect x="169" y="91" width="4" height="2" fill="#2b2e32" transform="rotate(-30 169 91)"/><rect x="175" y="88" width="4" height="2" fill="#323539" transform="rotate(-30 175 88)"/><rect x="181" y="85" width="3" height="2" fill="#45484c" transform="rotate(-30 181 85)"/><rect x="186" y="81" width="5" height="3" fill="#383b3f" transform="rotate(-30 186 81)"/><rect x="192" y="78" width="5" height="3" fill="#2e3135" transform="rotate(-30 192 78)"/><rect x="203" y="72" width="5" height="4" fill="#383b3f" transform="rotate(-30 203 72)"/><rect x="209" y="68" width="4" height="3" fill="#2b2e32" transform="rotate(-30 209 68)"/><rect x="226" y="59" width="4" height="3" fill="#3f4246" transform="rotate(-30 226 59)"/><rect x="121" y="125" width="5" height="3" fill="#2b2e32" transform="rotate(-30 121 125)"/><rect x="133" y="118" width="5" height="4" fill="#45484c" transform="rotate(-30 133 118)"/><rect x="138" y="115" width="4" height="2" fill="#3f4246" transform="rotate(-30 138 115)"/><rect x="149" y="108" width="5" height="4" fill="#3f4246" transform="rotate(-30 149 108)"/><rect x="161" y="102" width="5" height="4" fill="#45484c" transform="rotate(-30 161 102)"/><rect x="166" y="99" width="6" height="3" fill="#323539" transform="rotate(-30 166 99)"/><rect x="172" y="95" width="5" height="3" fill="#2b2e32" transform="rotate(-30 172 95)"/><rect x="183" y="89" width="5" height="3" fill="#383b3f" transform="rotate(-30 183 89)"/><rect x="211" y="73" width="6" height="3" fill="#383b3f" transform="rotate(-30 211 73)"/><rect x="217" y="69" width="3" height="4" fill="#323539" transform="rotate(-30 217 69)"/><rect x="223" y="66" width="5" height="2" fill="#2e3135" transform="rotate(-30 223 66)"/><rect x="124" y="129" width="5" height="2" fill="#45484c" transform="rotate(-30 124 129)"/><rect x="135" y="123" width="5" height="4" fill="#3f4246" transform="rotate(-30 135 123)"/><rect x="141" y="119" width="5" height="4" fill="#2e3135" transform="rotate(-30 141 119)"/><rect x="146" y="116" width="4" height="4" fill="#2b2e32" transform="rotate(-30 146 116)"/><rect x="152" y="113" width="3" height="2" fill="#3f4246" transform="rotate(-30 152 113)"/><rect x="174" y="100" width="3" height="3" fill="#323539" transform="rotate(-30 174 100)"/><rect x="180" y="97" width="3" height="3" fill="#3f4246" transform="rotate(-30 180 97)"/><rect x="186" y="93" width="4" height="3" fill="#2b2e32" transform="rotate(-30 186 93)"/><rect x="191" y="90" width="4" height="4" fill="#2b2e32" transform="rotate(-30 191 90)"/><rect x="208" y="80" width="5" height="3" fill="#45484c" transform="rotate(-30 208 80)"/><rect x="214" y="77" width="3" height="3" fill="#2e3135" transform="rotate(-30 214 77)"/><rect x="231" y="67" width="3" height="3" fill="#3f4246" transform="rotate(-30 231 67)"/><rect x="132" y="130" width="3" height="4" fill="#3f4246" transform="rotate(-30 132 130)"/><rect x="138" y="127" width="3" height="2" fill="#2e3135" transform="rotate(-30 138 127)"/><rect x="143" y="124" width="4" height="3" fill="#383b3f" transform="rotate(-30 143 124)"/><rect x="149" y="120" width="5" height="4" fill="#2e3135" transform="rotate(-30 149 120)"/><rect x="166" y="111" width="5" height="3" fill="#2e3135" transform="rotate(-30 166 111)"/><rect x="171" y="107" width="5" height="2" fill="#2b2e32" transform="rotate(-30 171 107)"/><rect x="177" y="104" width="3" height="3" fill="#2e3135" transform="rotate(-30 177 104)"/><rect x="183" y="101" width="3" height="2" fill="#3f4246" transform="rotate(-30 183 101)"/><rect x="188" y="98" width="5" height="3" fill="#323539" transform="rotate(-30 188 98)"/><rect x="194" y="94" width="4" height="4" fill="#2e3135" transform="rotate(-30 194 94)"/><rect x="222" y="78" width="4" height="2" fill="#45484c" transform="rotate(-30 222 78)"/><rect x="140" y="131" width="6" height="4" fill="#3f4246" transform="rotate(-30 140 131)"/><rect x="163" y="118" width="5" height="3" fill="#2e3135" transform="rotate(-30 163 118)"/><rect x="168" y="115" width="3" height="3" fill="#323539" transform="rotate(-30 168 115)"/><rect x="174" y="112" width="3" height="3" fill="#3f4246" transform="rotate(-30 174 112)"/><rect x="179" y="108" width="6" height="4" fill="#3f4246" transform="rotate(-30 179 108)"/><rect x="191" y="102" width="4" height="2" fill="#3f4246" transform="rotate(-30 191 102)"/><rect x="196" y="99" width="5" height="3" fill="#323539" transform="rotate(-30 196 99)"/><rect x="208" y="92" width="6" height="3" fill="#383b3f" transform="rotate(-30 208 92)"/><rect x="213" y="89" width="3" height="3" fill="#383b3f" transform="rotate(-30 213 89)"/><rect x="219" y="86" width="3" height="4" fill="#383b3f" transform="rotate(-30 219 86)"/><rect x="154" y="129" width="4" height="3" fill="#2e3135" transform="rotate(-30 154 129)"/><rect x="159" y="126" width="4" height="4" fill="#3f4246" transform="rotate(-30 159 126)"/><rect x="182" y="113" width="5" height="2" fill="#383b3f" transform="rotate(-30 182 113)"/><rect x="188" y="110" width="5" height="3" fill="#2e3135" transform="rotate(-30 188 110)"/><rect x="193" y="106" width="4" height="3" fill="#323539" transform="rotate(-30 193 106)"/><rect x="199" y="103" width="5" height="4" fill="#3f4246" transform="rotate(-30 199 103)"/><rect x="204" y="100" width="3" height="3" fill="#2e3135" transform="rotate(-30 204 100)"/><rect x="227" y="87" width="6" height="4" fill="#45484c" transform="rotate(-30 227 87)"/><rect x="162" y="130" width="4" height="3" fill="#2b2e32" transform="rotate(-30 162 130)"/><rect x="168" y="127" width="3" height="3" fill="#2e3135" transform="rotate(-30 168 127)"/><rect x="173" y="124" width="6" height="4" fill="#323539" transform="rotate(-30 173 124)"/><rect x="179" y="120" width="5" height="3" fill="#3f4246" transform="rotate(-30 179 120)"/><rect x="184" y="117" width="4" height="4" fill="#2b2e32" transform="rotate(-30 184 117)"/><rect x="190" y="114" width="4" height="2" fill="#2b2e32" transform="rotate(-30 190 114)"/><rect x="196" y="111" width="6" height="3" fill="#383b3f" transform="rotate(-30 196 111)"/><rect x="201" y="107" width="5" height="3" fill="#2b2e32" transform="rotate(-30 201 107)"/><rect x="207" y="104" width="4" height="4" fill="#323539" transform="rotate(-30 207 104)"/><rect x="213" y="101" width="6" height="3" fill="#2b2e32" transform="rotate(-30 213 101)"/><rect x="176" y="128" width="6" height="3" fill="#45484c" transform="rotate(-30 176 128)"/><rect x="198" y="115" width="5" height="3" fill="#2e3135" transform="rotate(-30 198 115)"/><rect x="204" y="112" width="3" height="4" fill="#3f4246" transform="rotate(-30 204 112)"/><rect x="221" y="102" width="4" height="2" fill="#2e3135" transform="rotate(-30 221 102)"/><rect x="226" y="99" width="4" height="2" fill="#2b2e32" transform="rotate(-30 226 99)"/><rect x="184" y="129" width="3" height="4" fill="#323539" transform="rotate(-30 184 129)"/><rect x="189" y="126" width="5" height="4" fill="#383b3f" transform="rotate(-30 189 126)"/><rect x="206" y="116" width="4" height="3" fill="#45484c" transform="rotate(-30 206 116)"/><rect x="212" y="113" width="5" height="4" fill="#2e3135" transform="rotate(-30 212 113)"/><rect x="218" y="110" width="4" height="3" fill="#383b3f" transform="rotate(-30 218 110)"/><rect x="229" y="103" width="5" height="3" fill="#45484c" transform="rotate(-30 229 103)"/><rect x="192" y="130" width="6" height="4" fill="#383b3f" transform="rotate(-30 192 130)"/><rect x="198" y="127" width="5" height="2" fill="#383b3f" transform="rotate(-30 198 127)"/><rect x="209" y="120" width="4" height="3" fill="#383b3f" transform="rotate(-30 209 120)"/><rect x="214" y="117" width="6" height="4" fill="#383b3f" transform="rotate(-30 214 117)"/><rect x="220" y="114" width="4" height="4" fill="#2b2e32" transform="rotate(-30 220 114)"/><rect x="226" y="111" width="4" height="4" fill="#323539" transform="rotate(-30 226 111)"/><rect x="206" y="128" width="3" height="4" fill="#2e3135" transform="rotate(-30 206 128)"/><rect x="211" y="125" width="5" height="4" fill="#323539" transform="rotate(-30 211 125)"/><rect x="217" y="121" width="3" height="3" fill="#383b3f" transform="rotate(-30 217 121)"/><rect x="223" y="118" width="4" height="4" fill="#2e3135" transform="rotate(-30 223 118)"/><rect x="228" y="115" width="5" height="4" fill="#383b3f" transform="rotate(-30 228 115)"/><rect x="214" y="129" width="4" height="2" fill="#323539" transform="rotate(-30 214 129)"/><rect x="219" y="126" width="4" height="4" fill="#3f4246" transform="rotate(-30 219 126)"/><rect x="225" y="123" width="4" height="4" fill="#2b2e32" transform="rotate(-30 225 123)"/><rect x="231" y="119" width="4" height="3" fill="#383b3f" transform="rotate(-30 231 119)"/><rect x="222" y="130" width="4" height="4" fill="#383b3f" transform="rotate(-30 222 130)"/><path d="M0 70 C30 72 50 88 80 96 C110 104 140 98 160 88 C190 74 210 80 229 86" stroke="#173352" stroke-width="3" fill="none"/><path d="M155 12 C148 40 150 70 170 128" stroke="#173352" stroke-width="2.4" fill="none"/><path d="M40 14 C60 40 100 58 150 64" stroke="#173352" stroke-width="1.6" fill="none"/><path d="M115 128 C118 110 116 100 112 92" stroke="#173352" stroke-width="1.6" fill="none"/><path d="M120 102 C150 110 190 118 229 112" stroke="#173352" stroke-width="1.4" fill="none"/><path d="M60 128 C70 110 90 100 120 100" stroke="#173352" stroke-width="1.2" fill="none"/><path d="M186 12 C190 40 200 70 229 90" stroke="#173352" stroke-width="1.6" fill="none"/><rect x="33" y="109" width="1.3" height="1.3" fill="#b86a22"/><rect x="128" y="105" width="1.3" height="1.3" fill="#b86a22"/><rect x="43" y="40" width="1.3" height="1.3" fill="#b86a22"/><rect x="127" y="62" width="1.3" height="1.3" fill="#b86a22"/><rect x="182" y="75" width="1.3" height="1.3" fill="#b86a22"/><rect x="80" y="71" width="1.3" height="1.3" fill="#b86a22"/><rect x="129" y="21" width="1.3" height="1.3" fill="#b86a22"/><rect x="89" y="32" width="1.3" height="1.3" fill="#b86a22"/><rect x="12" y="45" width="1.3" height="1.3" fill="#b86a22"/><rect x="213" y="98" width="1.3" height="1.3" fill="#b86a22"/><rect x="33" y="121" width="1.3" height="1.3" fill="#b86a22"/><rect x="92" y="103" width="1.3" height="1.3" fill="#b86a22"/><rect x="59" y="28" width="1.3" height="1.3" fill="#b86a22"/><rect x="28" y="85" width="1.3" height="1.3" fill="#b86a22"/><rect x="69" y="113" width="1.3" height="1.3" fill="#b86a22"/><rect x="33" y="84" width="1.3" height="1.3" fill="#b86a22"/><rect x="165" y="64" width="1.3" height="1.3" fill="#b86a22"/><rect x="206" y="103" width="1.3" height="1.3" fill="#b86a22"/><rect x="181" y="120" width="1.3" height="1.3" fill="#b86a22"/><rect x="215" y="41" width="1.3" height="1.3" fill="#b86a22"/><rect x="119" y="123" width="1.3" height="1.3" fill="#b86a22"/><rect x="139" y="51" width="1.3" height="1.3" fill="#b86a22"/><rect x="33" y="123" width="1.3" height="1.3" fill="#b86a22"/><rect x="28" y="55" width="1.3" height="1.3" fill="#b86a22"/><rect x="185" y="122" width="1.3" height="1.3" fill="#b86a22"/><rect x="190" y="60" width="1.3" height="1.3" fill="#b86a22"/><rect x="150" y="125" width="1.3" height="1.3" fill="#b86a22"/><rect x="166" y="47" width="1.3" height="1.3" fill="#b86a22"/><rect x="79" y="97" width="1.3" height="1.3" fill="#b86a22"/><rect x="136" y="94" width="1.3" height="1.3" fill="#b86a22"/><rect x="20" y="94" width="1.3" height="1.3" fill="#b86a22"/><rect x="110" y="118" width="1.3" height="1.3" fill="#b86a22"/><rect x="183" y="40" width="1.3" height="1.3" fill="#b86a22"/><rect x="215" y="61" width="1.3" height="1.3" fill="#b86a22"/><rect x="154" y="84" width="1.3" height="1.3" fill="#b86a22"/><rect x="116" y="13" width="1.3" height="1.3" fill="#b86a22"/><rect x="125" y="109" width="1.3" height="1.3" fill="#b86a22"/><rect x="14" y="39" width="1.3" height="1.3" fill="#b86a22"/><rect x="156" y="50" width="1.3" height="1.3" fill="#b86a22"/><rect x="20" y="15" width="1.3" height="1.3" fill="#b86a22"/><rect x="139" y="60" width="1.3" height="1.3" fill="#b86a22"/><rect x="188" y="125" width="1.3" height="1.3" fill="#b86a22"/><rect x="139" y="109" width="1.3" height="1.3" fill="#b86a22"/><rect x="195" y="121" width="1.3" height="1.3" fill="#b86a22"/><rect x="106" y="85" width="1.3" height="1.3" fill="#b86a22"/><rect x="197" y="118" width="1.3" height="1.3" fill="#b86a22"/><rect x="69" y="30" width="1.3" height="1.3" fill="#b86a22"/><rect x="120" y="14" width="1.3" height="1.3" fill="#b86a22"/><rect x="146" y="105" width="1.3" height="1.3" fill="#b86a22"/><rect x="29" y="57" width="1.3" height="1.3" fill="#b86a22"/><rect x="13" y="32" width="1.3" height="1.3" fill="#b86a22"/><rect x="62" y="49" width="1.3" height="1.3" fill="#b86a22"/><rect x="202" y="112" width="1.3" height="1.3" fill="#b86a22"/><rect x="151" y="93" width="1.3" height="1.3" fill="#b86a22"/><rect x="36" y="66" width="1.3" height="1.3" fill="#b86a22"/><rect x="201" y="22" width="1.3" height="1.3" fill="#b86a22"/><rect x="144" y="70" width="1.3" height="1.3" fill="#b86a22"/><rect x="199" y="124" width="1.3" height="1.3" fill="#b86a22"/><rect x="106" y="63" width="1.3" height="1.3" fill="#b86a22"/><rect x="53" y="120" width="1.3" height="1.3" fill="#b86a22"/><rect x="144" y="69" width="1.3" height="1.3" fill="#b86a22"/><rect x="109" y="111" width="1.3" height="1.3" fill="#b86a22"/><rect x="17" y="85" width="1.3" height="1.3" fill="#b86a22"/><rect x="110" y="67" width="1.3" height="1.3" fill="#b86a22"/><rect x="168" y="32" width="1.3" height="1.3" fill="#b86a22"/><rect x="119" y="56" width="1.3" height="1.3" fill="#b86a22"/><rect x="141" y="92" width="1.3" height="1.3" fill="#b86a22"/><rect x="62" y="32" width="1.3" height="1.3" fill="#b86a22"/><rect x="103" y="79" width="1.3" height="1.3" fill="#b86a22"/><rect x="199" y="45" width="1.3" height="1.3" fill="#b86a22"/><rect x="102" y="111" width="1.2" height="1.2" fill="#2a9ec0"/><rect x="65" y="126" width="1.2" height="1.2" fill="#2a9ec0"/><rect x="84" y="59" width="1.2" height="1.2" fill="#2a9ec0"/><rect x="203" y="70" width="1.2" height="1.2" fill="#2a9ec0"/><rect x="192" y="37" width="1.2" height="1.2" fill="#2a9ec0"/><rect x="59" y="122" width="1.2" height="1.2" fill="#2a9ec0"/><rect x="28" y="12" width="1.2" height="1.2" fill="#2a9ec0"/><rect x="24" y="65" width="1.2" height="1.2" fill="#2a9ec0"/><rect x="211" y="95" width="1.2" height="1.2" fill="#2a9ec0"/><rect x="41" y="94" width="1.2" height="1.2" fill="#2a9ec0"/><rect x="102" y="45" width="1.2" height="1.2" fill="#2a9ec0"/><rect x="155" y="97" width="1.2" height="1.2" fill="#2a9ec0"/><rect x="189" y="48" width="1.2" height="1.2" fill="#2a9ec0"/><rect x="40" y="59" width="1.2" height="1.2" fill="#2a9ec0"/><rect x="197" y="59" width="1.2" height="1.2" fill="#2a9ec0"/><rect x="44" y="120" width="1.2" height="1.2" fill="#2a9ec0"/><rect x="165" y="89" width="1.2" height="1.2" fill="#2a9ec0"/><rect x="110" y="33" width="1.2" height="1.2" fill="#2a9ec0"/><rect x="163" y="99" width="1.2" height="1.2" fill="#2a9ec0"/><rect x="93" y="19" width="1.2" height="1.2" fill="#2a9ec0"/><rect x="184" y="116" width="1.2" height="1.2" fill="#2a9ec0"/><rect x="188" y="124" width="1.2" height="1.2" fill="#2a9ec0"/><rect x="111" y="51" width="1.2" height="1.2" fill="#2a9ec0"/><rect x="47" y="57" width="1.2" height="1.2" fill="#2a9ec0"/><rect x="186" y="126" width="1.2" height="1.2" fill="#2a9ec0"/><rect width="229" height="11" fill="#0c1a33"/><path d="M0 11 H229" stroke="#23426e" stroke-width="0.6"/><rect x="8" y="3" width="14" height="5" rx="2.5" fill="#0f2446" stroke="#2c5a9a" stroke-width="0.5"/><rect x="26" y="3" width="14" height="5" rx="2.5" fill="#0f2446" stroke="#2c5a9a" stroke-width="0.5"/><rect x="44" y="3" width="14" height="5" rx="2.5" fill="#0f2446" stroke="#2c5a9a" stroke-width="0.5"/><rect x="62" y="3" width="14" height="5" rx="2.5" fill="#0f2446" stroke="#2c5a9a" stroke-width="0.5"/><rect x="152" y="3" width="14" height="5" rx="2.5" fill="#0f2446" stroke="#2c5a9a" stroke-width="0.5"/><rect x="170" y="3" width="14" height="5" rx="2.5" fill="#0f2446" stroke="#2c5a9a" stroke-width="0.5"/><rect x="190" y="4.5" width="34" height="1.2" fill="#7a90b0"/><circle cx="86" cy="6" r="2.8" fill="none" stroke="#6aa4e8" stroke-width="0.9"/><text x="90.5" y="8" font-size="5" font-weight="bold" fill="#e8eef8" font-family="Liberation Sans">前海智慧照明运行管理中心</text><rect x="3" y="13" width="50" height="28" fill="#0e1014" opacity="0.55"/><rect x="3" y="14" width="32" height="4" fill="#142844" opacity="0.9"/><rect x="4" y="21" width="10" height="1" fill="#6a7a8a"/><rect x="18" y="21" width="6" height="1" fill="#3a9ae0"/><rect x="30" y="21" width="10" height="1" fill="#6a7a8a"/><path d="M5 33 Q12 40 22 37 T38 28 Q46 30 52 38" stroke="#2e6ab0" stroke-width="0.9" fill="none"/><circle cx="38" cy="28" r="1.6" fill="#6ab0f0"/><rect x="3" y="53" width="50" height="30" fill="#0e1014" opacity="0.55"/><rect x="3" y="54" width="32" height="4" fill="#142844" opacity="0.9"/><path d="M5 72 Q14 80 24 74 T40 66 Q48 70 52 80" stroke="#2e6ab0" stroke-width="0.9" fill="none"/><path d="M5 82 L20 76 L40 66 L52 80 L52 84 L5 84Z" fill="#1a3a2e" opacity="0.25"/><rect x="3" y="92" width="24" height="4" fill="#142844" opacity="0.9"/><rect x="7" y="102" width="12" height="7" fill="#0c1420" stroke="#2c4e78" stroke-width="0.6"/><rect x="23" y="102" width="12" height="7" fill="#0c1420" stroke="#2c4e78" stroke-width="0.6"/><rect x="39" y="102" width="12" height="7" fill="#0c1420" stroke="#2c4e78" stroke-width="0.6"/><ellipse cx="71" cy="29" rx="13" ry="7" fill="#a0202a" opacity="0.5"/><ellipse cx="71" cy="29" rx="7" ry="3.5" fill="#e02a36" opacity="0.7"/><path d="M69 27 l2 -5 l2 5z" fill="#ff4050"/><rect x="77" y="15" width="13" height="4" fill="#a82830"/><rect x="148" y="21" width="22" height="16" fill="#11243c" opacity="0.9"/><rect x="151" y="24" width="15" height="6" fill="#8cd4ee"/><text x="154.5" y="29.5" font-size="5.5" fill="#0a1a2c" font-weight="bold" font-family="Liberation Sans">14</text><rect x="150" y="32" width="14" height="1" fill="#6a8aaa"/><rect x="178" y="13" width="48" height="113" fill="#0c0e12" opacity="0.55"/><rect x="179" y="14" width="36" height="4" fill="#142844"/><rect x="181" y="22" width="9" height="3" fill="#0e1a2c" stroke="#2c4e78" stroke-width="0.4"/><rect x="193" y="22" width="9" height="3" fill="#0e1a2c" stroke="#2c4e78" stroke-width="0.4"/><rect x="205" y="22" width="9" height="3" fill="#0e1a2c" stroke="#2c4e78" stroke-width="0.4"/><rect x="217" y="22" width="9" height="3" fill="#0e1a2c" stroke="#2c4e78" stroke-width="0.4"/><rect x="181" y="28" width="12" height="3" fill="#2a68b8"/><rect x="197" y="28" width="12" height="3" fill="#0e1a2c" stroke="#2c4e78" stroke-width="0.4"/><rect x="181" y="34" width="4" height="1" fill="#e0b030"/><rect x="183" y="38" width="20" height="2" fill="#2a7ac0"/><rect x="203" y="38" width="10" height="2" fill="#7ab040"/><rect x="213" y="38" width="8" height="2" fill="#c83040"/><rect x="179" y="45" width="36" height="4" fill="#142844"/><circle cx="203" cy="63" r="7.5" fill="none" stroke="#f0d020" stroke-width="2"/><path d="M203 55.5 A7.5 7.5 0 0 1 210 60" stroke="#3aa0e0" stroke-width="2" fill="none"/><rect x="182" y="74" width="6" height="1" fill="#5a6a7a"/><rect x="200" y="74" width="6" height="1" fill="#5a6a7a"/><rect x="182" y="78" width="6" height="1" fill="#5a6a7a"/><rect x="200" y="78" width="6" height="1" fill="#5a6a7a"/><rect x="179" y="84" width="40" height="4" fill="#142844"/><rect x="186" y="112" width="2.6" height="8" fill="#48c0ec"/><rect x="192" y="112" width="2.6" height="8" fill="#48c0ec"/><rect x="198" y="107" width="2.6" height="13" fill="#48c0ec"/><rect x="204" y="99" width="2.6" height="21" fill="#48c0ec"/><rect x="210" y="103" width="2.6" height="17" fill="#48c0ec"/><rect x="216" y="96" width="2.6" height="24" fill="#48c0ec"/><rect x="222" y="100" width="2.6" height="20" fill="#48c0ec"/><path d="M186 114 L194 110 L204 100 L210 96 L222 104" stroke="#c04060" stroke-width="0.5" fill="none"/><circle cx="124" cy="77" r="1.5" fill="#e04040"/><rect x="127" y="75.5" width="16" height="1.2" fill="#8a94a0"/><rect x="127" y="78" width="12" height="0.8" fill="#5a6470"/><circle cx="124" cy="85" r="1.5" fill="#e04040"/><rect x="127" y="83.5" width="16" height="1.2" fill="#8a94a0"/><rect x="127" y="86" width="12" height="0.8" fill="#5a6470"/><circle cx="124" cy="93" r="1.5" fill="#e04040"/><rect x="127" y="91.5" width="16" height="1.2" fill="#8a94a0"/><rect x="127" y="94" width="12" height="0.8" fill="#5a6470"/><rect x="118" y="71" width="10" height="2.5" fill="#5a6470"/><rect x="128" y="71" width="4" height="2.5" fill="#c03040"/><rect x="110" y="100" width="1.6" height="1.6" fill="#40c0e0"/><rect x="112" y="100.3" width="5" height="1" fill="#6a7480"/><rect x="119" y="100" width="1.6" height="1.6" fill="#40c070"/><rect x="121" y="100.3" width="5" height="1" fill="#6a7480"/><rect x="128" y="100" width="1.6" height="1.6" fill="#e0a030"/><rect x="130" y="100.3" width="5" height="1" fill="#6a7480"/><rect x="137" y="100" width="1.6" height="1.6" fill="#e04040"/><rect x="139" y="100.3" width="5" height="1" fill="#6a7480"/><rect x="146" y="100" width="1.6" height="1.6" fill="#e0a030"/><rect x="148" y="100.3" width="5" height="1" fill="#6a7480"/><rect x="155" y="100" width="1.6" height="1.6" fill="#e0a030"/><rect x="157" y="100.3" width="5" height="1" fill="#6a7480"/><rect x="130" y="105" width="17" height="10" fill="#2a4a7a" stroke="#8ab0e0" stroke-width="0.6"/><rect x="132" y="108" width="13" height="5" fill="#c8a880"/></svg></div></div><div class="a" style="left:92px;top:147px;width:81px;height:56px;background:#fff;box-shadow:1px 2px 3px rgba(0,0,0,.22)"><div class="a" style="left:0;top:0;width:81px;height:12px;background:#2f66b8"></div><div class="t" style="left:0;top:2.3px;width:81px;text-align:center;font-size:8px;font-weight:bold;color:#fff">设施资源管理系统</div><div class="a" style="left:0;top:12px;width:81px;height:2px;background:#3a78cc"></div><svg class="a" style="left:0;top:15px" width="81" height="41"><rect x="0" y="0" width="12.2" height="41" fill="#fafbfc"/><path d="M12.2 0 V41" stroke="#e6e8ec" stroke-width="0.6"/><rect x="1.5" y="4" width="2" height="2" fill="#8fd06a"/><rect x="4.5" y="4.5" width="6.5" height="1" fill="#c8ccd2"/><rect x="1.5" y="9" width="2" height="2" fill="#f06aa0"/><rect x="4.5" y="9.5" width="6.5" height="1" fill="#c8ccd2"/><rect x="1.5" y="14" width="2" height="2" fill="#f0a040"/><rect x="4.5" y="14.5" width="6.5" height="1" fill="#c8ccd2"/><rect x="1.5" y="19" width="2" height="2" fill="#6aa0f0"/><rect x="4.5" y="19.5" width="6.5" height="1" fill="#c8ccd2"/><rect x="1.5" y="24" width="2" height="2" fill="#b070d0"/><rect x="4.5" y="24.5" width="6.5" height="1" fill="#c8ccd2"/><rect x="1.5" y="29" width="2" height="2" fill="#40c0f0"/><rect x="4.5" y="29.5" width="6.5" height="1" fill="#c8ccd2"/><rect x="15.8" y="3" width="63.2" height="10" fill="#fff" stroke="#eceef2" stroke-width="0.5"/><rect x="37.8" y="6" width="6" height="2" fill="#3a72c8"/><rect x="15.8" y="16" width="4" height="2" fill="#3a72c8"/><rect x="21.8" y="16" width="7" height="2" fill="#3a72c8"/><rect x="15.8" y="21.0" width="3.5" height="1" fill="#9aa0a8"/><rect x="22.8" y="21.0" width="3.5" height="1" fill="#9aa0a8"/><rect x="29.8" y="21.0" width="3.5" height="1" fill="#9aa0a8"/><rect x="36.8" y="21.0" width="3.5" height="1" fill="#9aa0a8"/><rect x="43.8" y="21.0" width="3.5" height="1" fill="#9aa0a8"/><rect x="50.8" y="21.0" width="3.5" height="1" fill="#9aa0a8"/><rect x="57.8" y="21.0" width="3.5" height="1" fill="#9aa0a8"/><rect x="64.8" y="21.0" width="3.5" height="1" fill="#9aa0a8"/><rect x="71.8" y="21.0" width="3.5" height="1" fill="#9aa0a8"/><rect x="15.8" y="24.6" width="3.5" height="1" fill="#9aa0a8"/><rect x="22.8" y="24.6" width="3.5" height="1" fill="#9aa0a8"/><rect x="29.8" y="24.6" width="3.5" height="1" fill="#9aa0a8"/><rect x="36.8" y="24.6" width="3.5" height="1" fill="#9aa0a8"/><rect x="43.8" y="24.6" width="3.5" height="1" fill="#9aa0a8"/><rect x="50.8" y="24.6" width="3.5" height="1" fill="#9aa0a8"/><rect x="57.8" y="24.6" width="3.5" height="1" fill="#9aa0a8"/><rect x="64.8" y="24.6" width="3.5" height="1" fill="#9aa0a8"/><rect x="71.8" y="24.6" width="3.5" height="1" fill="#9aa0a8"/><rect x="15.8" y="28.2" width="3.5" height="1" fill="#9aa0a8"/><rect x="22.8" y="28.2" width="3.5" height="1" fill="#9aa0a8"/><rect x="29.8" y="28.2" width="3.5" height="1" fill="#9aa0a8"/><rect x="36.8" y="28.2" width="3.5" height="1" fill="#9aa0a8"/><rect x="43.8" y="28.2" width="3.5" height="1" fill="#9aa0a8"/><rect x="50.8" y="28.2" width="3.5" height="1" fill="#9aa0a8"/><rect x="57.8" y="28.2" width="3.5" height="1" fill="#9aa0a8"/><rect x="64.8" y="28.2" width="3.5" height="1" fill="#9aa0a8"/><rect x="71.8" y="28.2" width="3.5" height="1" fill="#9aa0a8"/><rect x="15.8" y="31.8" width="3.5" height="1" fill="#9aa0a8"/><rect x="22.8" y="31.8" width="3.5" height="1" fill="#9aa0a8"/><rect x="29.8" y="31.8" width="3.5" height="1" fill="#9aa0a8"/><rect x="36.8" y="31.8" width="3.5" height="1" fill="#9aa0a8"/><rect x="43.8" y="31.8" width="3.5" height="1" fill="#9aa0a8"/><rect x="50.8" y="31.8" width="3.5" height="1" fill="#9aa0a8"/><rect x="57.8" y="31.8" width="3.5" height="1" fill="#9aa0a8"/><rect x="64.8" y="31.8" width="3.5" height="1" fill="#9aa0a8"/><rect x="71.8" y="31.8" width="3.5" height="1" fill="#9aa0a8"/><rect x="15.8" y="35.4" width="3.5" height="1" fill="#9aa0a8"/><rect x="22.8" y="35.4" width="3.5" height="1" fill="#9aa0a8"/><rect x="29.8" y="35.4" width="3.5" height="1" fill="#9aa0a8"/><rect x="36.8" y="35.4" width="3.5" height="1" fill="#9aa0a8"/><rect x="43.8" y="35.4" width="3.5" height="1" fill="#9aa0a8"/><rect x="50.8" y="35.4" width="3.5" height="1" fill="#9aa0a8"/><rect x="57.8" y="35.4" width="3.5" height="1" fill="#9aa0a8"/><rect x="64.8" y="35.4" width="3.5" height="1" fill="#9aa0a8"/><rect x="71.8" y="35.4" width="3.5" height="1" fill="#9aa0a8"/><rect x="15.8" y="39.0" width="3.5" height="1" fill="#9aa0a8"/><rect x="22.8" y="39.0" width="3.5" height="1" fill="#9aa0a8"/><rect x="29.8" y="39.0" width="3.5" height="1" fill="#9aa0a8"/><rect x="36.8" y="39.0" width="3.5" height="1" fill="#9aa0a8"/><rect x="43.8" y="39.0" width="3.5" height="1" fill="#9aa0a8"/><rect x="50.8" y="39.0" width="3.5" height="1" fill="#9aa0a8"/><rect x="57.8" y="39.0" width="3.5" height="1" fill="#9aa0a8"/><rect x="64.8" y="39.0" width="3.5" height="1" fill="#9aa0a8"/><rect x="71.8" y="39.0" width="3.5" height="1" fill="#9aa0a8"/></svg></div><div class="a" style="left:109px;top:209px;width:81px;height:57px;background:#fff;box-shadow:1px 2px 3px rgba(0,0,0,.22)"><div class="a" style="left:0;top:0;width:81px;height:12px;background:#2f66b8"></div><div class="t" style="left:0;top:2.3px;width:81px;text-align:center;font-size:8px;font-weight:bold;color:#fff">照明智能监控系统</div><div class="a" style="left:0;top:12px;width:81px;height:2px;background:#3a78cc"></div><svg class="a" style="left:0;top:15px" width="81" height="42"><rect x="0" y="0" width="12.2" height="42" fill="#fafbfc"/><path d="M12.2 0 V42" stroke="#e6e8ec" stroke-width="0.6"/><rect x="1.5" y="4" width="2" height="2" fill="#8fd06a"/><rect x="4.5" y="4.5" width="6.5" height="1" fill="#c8ccd2"/><rect x="1.5" y="9" width="2" height="2" fill="#f06aa0"/><rect x="4.5" y="9.5" width="6.5" height="1" fill="#c8ccd2"/><rect x="1.5" y="14" width="2" height="2" fill="#f0a040"/><rect x="4.5" y="14.5" width="6.5" height="1" fill="#c8ccd2"/><rect x="1.5" y="19" width="2" height="2" fill="#6aa0f0"/><rect x="4.5" y="19.5" width="6.5" height="1" fill="#c8ccd2"/><rect x="1.5" y="24" width="2" height="2" fill="#b070d0"/><rect x="4.5" y="24.5" width="6.5" height="1" fill="#c8ccd2"/><rect x="1.5" y="29" width="2" height="2" fill="#40c0f0"/><rect x="4.5" y="29.5" width="6.5" height="1" fill="#c8ccd2"/><rect x="15.8" y="2" width="5" height="1.6" fill="#3a72c8"/><rect x="22.8" y="2" width="5" height="1.6" fill="#3a72c8"/><rect x="16.8" y="6.0" width="8" height="1" fill="#a8aeb6"/><rect x="35.8" y="6.0" width="8" height="1" fill="#c0c4ca"/><rect x="55.8" y="6.0" width="6" height="1" fill="#c0c4ca"/><path d="M15.8 8.3 H78.0" stroke="#eef0f3" stroke-width="0.5"/><rect x="16.8" y="10.6" width="8" height="1" fill="#a8aeb6"/><rect x="35.8" y="10.6" width="8" height="1" fill="#c0c4ca"/><rect x="55.8" y="10.6" width="6" height="1" fill="#c0c4ca"/><path d="M15.8 12.9 H78.0" stroke="#eef0f3" stroke-width="0.5"/><rect x="16.8" y="15.2" width="8" height="1" fill="#a8aeb6"/><rect x="35.8" y="15.2" width="8" height="1" fill="#c0c4ca"/><rect x="55.8" y="15.2" width="6" height="1" fill="#c0c4ca"/><path d="M15.8 17.5 H78.0" stroke="#eef0f3" stroke-width="0.5"/><rect x="16.8" y="19.8" width="8" height="1" fill="#a8aeb6"/><rect x="35.8" y="19.8" width="8" height="1" fill="#c0c4ca"/><rect x="55.8" y="19.8" width="6" height="1" fill="#c0c4ca"/><path d="M15.8 22.1 H78.0" stroke="#eef0f3" stroke-width="0.5"/><rect x="16.8" y="24.4" width="8" height="1" fill="#a8aeb6"/><rect x="35.8" y="24.4" width="8" height="1" fill="#c0c4ca"/><rect x="55.8" y="24.4" width="6" height="1" fill="#c0c4ca"/><path d="M15.8 26.7 H78.0" stroke="#eef0f3" stroke-width="0.5"/><rect x="16.8" y="29.0" width="8" height="1" fill="#a8aeb6"/><rect x="35.8" y="29.0" width="8" height="1" fill="#c0c4ca"/><rect x="55.8" y="29.0" width="6" height="1" fill="#c0c4ca"/><path d="M15.8 31.3 H78.0" stroke="#eef0f3" stroke-width="0.5"/><rect x="16.8" y="33.6" width="8" height="1" fill="#a8aeb6"/><rect x="35.8" y="33.6" width="8" height="1" fill="#c0c4ca"/><rect x="55.8" y="33.6" width="6" height="1" fill="#c0c4ca"/><path d="M15.8 35.9 H78.0" stroke="#eef0f3" stroke-width="0.5"/><rect x="16.8" y="38.2" width="8" height="1" fill="#a8aeb6"/><rect x="35.8" y="38.2" width="8" height="1" fill="#c0c4ca"/><rect x="55.8" y="38.2" width="6" height="1" fill="#c0c4ca"/><path d="M15.8 40.5 H78.0" stroke="#eef0f3" stroke-width="0.5"/></svg></div><div class="a" style="left:477px;top:147px;width:81px;height:58px;background:#fff;box-shadow:1px 2px 3px rgba(0,0,0,.22)"><div class="a" style="left:0;top:0;width:81px;height:13px;background:#2f66b8"></div><div class="t" style="left:0;top:2.8px;width:81px;text-align:center;font-size:8px;font-weight:bold;color:#fff">电缆被盗管理系统</div><div class="a" style="left:0;top:13px;width:81px;height:2px;background:#3a78cc"></div><svg class="a" style="left:0;top:16px" width="81" height="42"><rect x="0" y="0" width="12.2" height="42" fill="#fafbfc"/><path d="M12.2 0 V42" stroke="#e6e8ec" stroke-width="0.6"/><rect x="1.5" y="4" width="2" height="2" fill="#8fd06a"/><rect x="4.5" y="4.5" width="6.5" height="1" fill="#c8ccd2"/><rect x="1.5" y="9" width="2" height="2" fill="#f06aa0"/><rect x="4.5" y="9.5" width="6.5" height="1" fill="#c8ccd2"/><rect x="1.5" y="14" width="2" height="2" fill="#f0a040"/><rect x="4.5" y="14.5" width="6.5" height="1" fill="#c8ccd2"/><rect x="1.5" y="19" width="2" height="2" fill="#6aa0f0"/><rect x="4.5" y="19.5" width="6.5" height="1" fill="#c8ccd2"/><rect x="1.5" y="24" width="2" height="2" fill="#b070d0"/><rect x="4.5" y="24.5" width="6.5" height="1" fill="#c8ccd2"/><rect x="1.5" y="29" width="2" height="2" fill="#40c0f0"/><rect x="4.5" y="29.5" width="6.5" height="1" fill="#c8ccd2"/><rect x="16.8" y="8.0" width="6" height="1.2" fill="#9aa0a8"/><rect x="26.8" y="8.0" width="2" height="2" fill="#7cc850"/><rect x="16.8" y="11.0" width="9" height="1" fill="#c0c4ca"/><rect x="16.8" y="13.0" width="6" height="1" fill="#c0c4ca"/><rect x="38.8" y="8.0" width="6" height="1.2" fill="#9aa0a8"/><rect x="48.8" y="8.0" width="2" height="2" fill="#7cc850"/><rect x="38.8" y="11.0" width="9" height="1" fill="#c0c4ca"/><rect x="38.8" y="13.0" width="6" height="1" fill="#c0c4ca"/><rect x="60.8" y="8.0" width="6" height="1.2" fill="#9aa0a8"/><rect x="70.8" y="8.0" width="2" height="2" fill="#7cc850"/><rect x="60.8" y="11.0" width="9" height="1" fill="#c0c4ca"/><rect x="60.8" y="13.0" width="6" height="1" fill="#c0c4ca"/><rect x="16.8" y="21.0" width="6" height="1.2" fill="#9aa0a8"/><rect x="26.8" y="21.0" width="2" height="2" fill="#7cc850"/><rect x="16.8" y="24.0" width="9" height="1" fill="#c0c4ca"/><rect x="16.8" y="26.0" width="6" height="1" fill="#c0c4ca"/><rect x="38.8" y="21.0" width="6" height="1.2" fill="#9aa0a8"/><rect x="48.8" y="21.0" width="2" height="2" fill="#7cc850"/><rect x="38.8" y="24.0" width="9" height="1" fill="#c0c4ca"/><rect x="38.8" y="26.0" width="6" height="1" fill="#c0c4ca"/><rect x="60.8" y="21.0" width="6" height="1.2" fill="#9aa0a8"/><rect x="70.8" y="21.0" width="2" height="2" fill="#7cc850"/><rect x="60.8" y="24.0" width="9" height="1" fill="#c0c4ca"/><rect x="60.8" y="26.0" width="6" height="1" fill="#c0c4ca"/><rect x="16.8" y="34.0" width="6" height="1.2" fill="#9aa0a8"/><rect x="26.8" y="34.0" width="2" height="2" fill="#7cc850"/><rect x="16.8" y="37.0" width="9" height="1" fill="#c0c4ca"/><rect x="16.8" y="39.0" width="6" height="1" fill="#c0c4ca"/><rect x="38.8" y="34.0" width="6" height="1.2" fill="#9aa0a8"/><rect x="48.8" y="34.0" width="2" height="2" fill="#7cc850"/><rect x="38.8" y="37.0" width="9" height="1" fill="#c0c4ca"/><rect x="38.8" y="39.0" width="6" height="1" fill="#c0c4ca"/><rect x="60.8" y="34.0" width="6" height="1.2" fill="#9aa0a8"/><rect x="70.8" y="34.0" width="2" height="2" fill="#7cc850"/><rect x="60.8" y="37.0" width="9" height="1" fill="#c0c4ca"/><rect x="60.8" y="39.0" width="6" height="1" fill="#c0c4ca"/></svg></div><div class="a" style="left:455px;top:208px;width:82px;height:58px;background:#fff;box-shadow:1px 2px 3px rgba(0,0,0,.22)"><div class="a" style="left:0;top:0;width:82px;height:13px;background:#2f66b8"></div><div class="t" style="left:0;top:2.8px;width:82px;text-align:center;font-size:8px;font-weight:bold;color:#fff">照明生产管理系统</div><div class="a" style="left:0;top:13px;width:82px;height:2px;background:#3a78cc"></div><svg class="a" style="left:0;top:16px" width="82" height="42"><rect x="0" y="0" width="12.3" height="42" fill="#fafbfc"/><path d="M12.3 0 V42" stroke="#e6e8ec" stroke-width="0.6"/><rect x="1.5" y="4" width="2" height="2" fill="#8fd06a"/><rect x="4.5" y="4.5" width="6.6" height="1" fill="#c8ccd2"/><rect x="1.5" y="9" width="2" height="2" fill="#f06aa0"/><rect x="4.5" y="9.5" width="6.6" height="1" fill="#c8ccd2"/><rect x="1.5" y="14" width="2" height="2" fill="#f0a040"/><rect x="4.5" y="14.5" width="6.6" height="1" fill="#c8ccd2"/><rect x="1.5" y="19" width="2" height="2" fill="#6aa0f0"/><rect x="4.5" y="19.5" width="6.6" height="1" fill="#c8ccd2"/><rect x="1.5" y="24" width="2" height="2" fill="#b070d0"/><rect x="4.5" y="24.5" width="6.6" height="1" fill="#c8ccd2"/><rect x="1.5" y="29" width="2" height="2" fill="#40c0f0"/><rect x="4.5" y="29.5" width="6.6" height="1" fill="#c8ccd2"/><rect x="17.9" y="6" width="12" height="3" fill="#f0c030"/><rect x="17.9" y="12" width="20" height="3" fill="#8cc050"/><rect x="43.9" y="6" width="8" height="8" fill="#c82828"/><rect x="43.9" y="14" width="8" height="8" fill="#38a8e0"/><rect x="39.9" y="18" width="6" height="3" fill="#c02020"/><rect x="59.9" y="6" width="10" height="3" fill="#f0c030"/><rect x="59.9" y="12" width="16" height="3" fill="#8cc050"/><rect x="63.9" y="26" width="6" height="14" fill="#38a8e0"/><path d="M15.9 24 H79.0" stroke="#e0e2e6" stroke-width="0.5"/></svg></div><div class="a" style="left:143px;top:270px;width:82px;height:55px;background:#fff;box-shadow:1px 2px 3px rgba(0,0,0,.22)"><div class="a" style="left:0;top:0;width:82px;height:12px;background:#2f66b8"></div><div class="t" style="left:0;top:2.3px;width:82px;text-align:center;font-size:8px;font-weight:bold;color:#fff">单灯节能管理系统</div><div class="a" style="left:0;top:12px;width:82px;height:2px;background:#3a78cc"></div><svg class="a" style="left:0;top:15px" width="82" height="40"><rect x="0" y="0" width="12.3" height="40" fill="#fafbfc"/><path d="M12.3 0 V40" stroke="#e6e8ec" stroke-width="0.6"/><rect x="1.5" y="4" width="2" height="2" fill="#8fd06a"/><rect x="4.5" y="4.5" width="6.6" height="1" fill="#c8ccd2"/><rect x="1.5" y="9" width="2" height="2" fill="#f06aa0"/><rect x="4.5" y="9.5" width="6.6" height="1" fill="#c8ccd2"/><rect x="1.5" y="14" width="2" height="2" fill="#f0a040"/><rect x="4.5" y="14.5" width="6.6" height="1" fill="#c8ccd2"/><rect x="1.5" y="19" width="2" height="2" fill="#6aa0f0"/><rect x="4.5" y="19.5" width="6.6" height="1" fill="#c8ccd2"/><rect x="1.5" y="24" width="2" height="2" fill="#b070d0"/><rect x="4.5" y="24.5" width="6.6" height="1" fill="#c8ccd2"/><rect x="1.5" y="29" width="2" height="2" fill="#40c0f0"/><rect x="4.5" y="29.5" width="6.6" height="1" fill="#c8ccd2"/><rect x="15.9" y="3" width="18" height="18" fill="#fff" stroke="#eceef2" stroke-width="0.5"/><rect x="17.9" y="14" width="14" height="2" fill="#3a72c8"/><circle cx="47.9" cy="27" r="5" fill="none" stroke="#e05030" stroke-width="2"/><path d="M47.9 22 A5 5 0 0 1 52.9 27" stroke="#3a72c8" stroke-width="2" fill="none"/><rect x="59.9" y="12" width="1.6" height="6" fill="#f08040"/><rect x="62.9" y="8" width="1.6" height="10" fill="#40b0e0"/><rect x="65.9" y="14" width="1.6" height="4" fill="#90c050"/><rect x="68.9" y="10" width="1.6" height="8" fill="#f08040"/><rect x="71.9" y="15" width="1.6" height="3" fill="#40b0e0"/><path d="M35.9 10 H53.9" stroke="#e0a0d0" stroke-width="0.6"/><rect x="57.9" y="24.0" width="14" height="1" fill="#b0b4ba"/><rect x="57.9" y="26.5" width="14" height="1" fill="#b0b4ba"/><rect x="57.9" y="29.0" width="14" height="1" fill="#b0b4ba"/><rect x="57.9" y="31.5" width="14" height="1" fill="#b0b4ba"/></svg></div><div class="a" style="left:233px;top:277px;width:82px;height:56px;background:#fff;box-shadow:1px 2px 3px rgba(0,0,0,.22)"><div class="a" style="left:0;top:0;width:82px;height:12px;background:#2f66b8"></div><div class="t" style="left:0;top:2.3px;width:82px;text-align:center;font-size:8px;font-weight:bold;color:#fff">智能门禁管理系统</div><div class="a" style="left:0;top:12px;width:82px;height:2px;background:#3a78cc"></div><svg class="a" style="left:0;top:15px" width="82" height="41"><rect x="0" y="0" width="12.3" height="41" fill="#fafbfc"/><path d="M12.3 0 V41" stroke="#e6e8ec" stroke-width="0.6"/><rect x="1.5" y="4" width="2" height="2" fill="#8fd06a"/><rect x="4.5" y="4.5" width="6.6" height="1" fill="#c8ccd2"/><rect x="1.5" y="9" width="2" height="2" fill="#f06aa0"/><rect x="4.5" y="9.5" width="6.6" height="1" fill="#c8ccd2"/><rect x="1.5" y="14" width="2" height="2" fill="#f0a040"/><rect x="4.5" y="14.5" width="6.6" height="1" fill="#c8ccd2"/><rect x="1.5" y="19" width="2" height="2" fill="#6aa0f0"/><rect x="4.5" y="19.5" width="6.6" height="1" fill="#c8ccd2"/><rect x="1.5" y="24" width="2" height="2" fill="#b070d0"/><rect x="4.5" y="24.5" width="6.6" height="1" fill="#c8ccd2"/><rect x="1.5" y="29" width="2" height="2" fill="#40c0f0"/><rect x="4.5" y="29.5" width="6.6" height="1" fill="#c8ccd2"/><rect x="16.9" y="8.0" width="6" height="1.2" fill="#9aa0a8"/><rect x="26.9" y="8.0" width="2" height="2" fill="#7cc850"/><rect x="16.9" y="11.0" width="9" height="1" fill="#c0c4ca"/><rect x="16.9" y="13.0" width="6" height="1" fill="#c0c4ca"/><rect x="38.9" y="8.0" width="6" height="1.2" fill="#9aa0a8"/><rect x="48.9" y="8.0" width="2" height="2" fill="#7cc850"/><rect x="38.9" y="11.0" width="9" height="1" fill="#c0c4ca"/><rect x="38.9" y="13.0" width="6" height="1" fill="#c0c4ca"/><rect x="60.9" y="8.0" width="6" height="1.2" fill="#9aa0a8"/><rect x="70.9" y="8.0" width="2" height="2" fill="#7cc850"/><rect x="60.9" y="11.0" width="9" height="1" fill="#c0c4ca"/><rect x="60.9" y="13.0" width="6" height="1" fill="#c0c4ca"/><rect x="16.9" y="21.0" width="6" height="1.2" fill="#9aa0a8"/><rect x="26.9" y="21.0" width="2" height="2" fill="#7cc850"/><rect x="16.9" y="24.0" width="9" height="1" fill="#c0c4ca"/><rect x="16.9" y="26.0" width="6" height="1" fill="#c0c4ca"/><rect x="38.9" y="21.0" width="6" height="1.2" fill="#9aa0a8"/><rect x="48.9" y="21.0" width="2" height="2" fill="#7cc850"/><rect x="38.9" y="24.0" width="9" height="1" fill="#c0c4ca"/><rect x="38.9" y="26.0" width="6" height="1" fill="#c0c4ca"/><rect x="60.9" y="21.0" width="6" height="1.2" fill="#9aa0a8"/><rect x="70.9" y="21.0" width="2" height="2" fill="#7cc850"/><rect x="60.9" y="24.0" width="9" height="1" fill="#c0c4ca"/><rect x="60.9" y="26.0" width="6" height="1" fill="#c0c4ca"/><rect x="16.9" y="34.0" width="6" height="1.2" fill="#9aa0a8"/><rect x="26.9" y="34.0" width="2" height="2" fill="#7cc850"/><rect x="16.9" y="37.0" width="9" height="1" fill="#c0c4ca"/><rect x="16.9" y="39.0" width="6" height="1" fill="#c0c4ca"/><rect x="38.9" y="34.0" width="6" height="1.2" fill="#9aa0a8"/><rect x="48.9" y="34.0" width="2" height="2" fill="#7cc850"/><rect x="38.9" y="37.0" width="9" height="1" fill="#c0c4ca"/><rect x="38.9" y="39.0" width="6" height="1" fill="#c0c4ca"/><rect x="60.9" y="34.0" width="6" height="1.2" fill="#9aa0a8"/><rect x="70.9" y="34.0" width="2" height="2" fill="#7cc850"/><rect x="60.9" y="37.0" width="9" height="1" fill="#c0c4ca"/><rect x="60.9" y="39.0" width="6" height="1" fill="#c0c4ca"/></svg></div><div class="a" style="left:323px;top:277px;width:82px;height:56px;background:#fff;box-shadow:1px 2px 3px rgba(0,0,0,.22)"><div class="a" style="left:0;top:0;width:82px;height:12px;background:#2f66b8"></div><div class="t" style="left:0;top:2.3px;width:82px;text-align:center;font-size:8px;font-weight:bold;color:#fff">移动监控理系统</div><div class="a" style="left:0;top:12px;width:82px;height:2px;background:#3a78cc"></div><svg class="a" style="left:0;top:15px" width="82" height="41"><rect x="0" y="0" width="12.3" height="41" fill="#fafbfc"/><path d="M12.3 0 V41" stroke="#e6e8ec" stroke-width="0.6"/><rect x="1.5" y="4" width="2" height="2" fill="#8fd06a"/><rect x="4.5" y="4.5" width="6.6" height="1" fill="#c8ccd2"/><rect x="1.5" y="9" width="2" height="2" fill="#f06aa0"/><rect x="4.5" y="9.5" width="6.6" height="1" fill="#c8ccd2"/><rect x="1.5" y="14" width="2" height="2" fill="#f0a040"/><rect x="4.5" y="14.5" width="6.6" height="1" fill="#c8ccd2"/><rect x="1.5" y="19" width="2" height="2" fill="#6aa0f0"/><rect x="4.5" y="19.5" width="6.6" height="1" fill="#c8ccd2"/><rect x="1.5" y="24" width="2" height="2" fill="#b070d0"/><rect x="4.5" y="24.5" width="6.6" height="1" fill="#c8ccd2"/><rect x="1.5" y="29" width="2" height="2" fill="#40c0f0"/><rect x="4.5" y="29.5" width="6.6" height="1" fill="#c8ccd2"/><rect x="0" y="0" width="82" height="41" fill="#f4f6f8"/><rect x="1" y="0" width="25" height="41" fill="#fff"/><rect x="1" y="0" width="25" height="2" fill="#2a5ab0"/><rect x="3" y="5" width="8" height="1.2" fill="#888"/><rect x="15" y="5" width="8" height="1.2" fill="#aaa"/><rect x="3" y="10" width="8" height="1.2" fill="#888"/><rect x="15" y="10" width="8" height="1.2" fill="#aaa"/><rect x="3" y="15" width="8" height="1.2" fill="#888"/><rect x="15" y="15" width="8" height="1.2" fill="#aaa"/><rect x="1" y="19" width="25" height="3" fill="#2a5ab0"/><rect x="1" y="23" width="25" height="14" fill="#1e3c8c"/><rect x="4.0" y="27" width="2" height="3" fill="#e0a030"/><rect x="8.5" y="25" width="2" height="5" fill="#e05050"/><rect x="13.0" y="26" width="2" height="4" fill="#40c070"/><rect x="17.5" y="24" width="2" height="6" fill="#e0a030"/><rect x="22.0" y="27" width="2" height="3" fill="#40c070"/><rect x="4" y="33" width="3" height="4" fill="#40c070"/><rect x="14" y="33" width="3" height="4" fill="#e0a030"/><rect x="1" y="37" width="25" height="4" fill="#fff"/><rect x="28" y="0" width="25" height="41" fill="#fff"/><rect x="28" y="2" width="25" height="13" fill="#2ab0a0"/><ellipse cx="40.5" cy="9" rx="4" ry="2.5" fill="none" stroke="#bfeee8" stroke-width="0.6"/><rect x="30" y="18" width="5" height="4" fill="#3a8ae0"/><rect x="38" y="18" width="5" height="4" fill="#f0a030"/><rect x="46" y="18" width="5" height="4" fill="#60c060"/><circle cx="32" cy="27" r="1.8" fill="#3a8ae0"/><circle cx="40.5" cy="27" r="1.8" fill="#f0a030"/><circle cx="49" cy="27" r="1.8" fill="#40c070"/><circle cx="32" cy="34" r="1.8" fill="#e05050"/><circle cx="40.5" cy="34" r="1.8" fill="#e05050"/><circle cx="49" cy="34" r="1.8" fill="#e05050"/><rect x="55" y="0" width="26" height="41" fill="#fff"/><rect x="55" y="0" width="26" height="17" fill="#1c4e5c"/><rect x="62" y="5" width="10" height="1.5" fill="#cfe"/><rect x="64" y="10" width="6" height="1" fill="#8ab"/><circle cx="60" cy="27" r="3" fill="none" stroke="#60c080" stroke-width="1.1"/><circle cx="68" cy="27" r="3" fill="none" stroke="#60c080" stroke-width="1.1"/><circle cx="76" cy="27" r="3" fill="none" stroke="#60c080" stroke-width="1.1"/><rect x="59" y="20" width="2" height="2" fill="#f0a030"/><rect x="65" y="20" width="2" height="2" fill="#f0a030"/><rect x="71" y="20" width="2" height="2" fill="#f0a030"/><rect x="77" y="20" width="2" height="2" fill="#f0a030"/></svg></div><div class="a" style="left:413px;top:271px;width:82px;height:56px;background:#fff;box-shadow:1px 2px 3px rgba(0,0,0,.22)"><div class="a" style="left:0;top:0;width:82px;height:12px;background:#2f66b8"></div><div class="t" style="left:0;top:2.3px;width:82px;text-align:center;font-size:8px;font-weight:bold;color:#fff">智慧灯杆管理系统</div><div class="a" style="left:0;top:12px;width:82px;height:2px;background:#3a78cc"></div><svg class="a" style="left:0;top:15px" width="82" height="41"><rect x="0" y="0" width="12.3" height="41" fill="#fafbfc"/><path d="M12.3 0 V41" stroke="#e6e8ec" stroke-width="0.6"/><rect x="1.5" y="4" width="2" height="2" fill="#8fd06a"/><rect x="4.5" y="4.5" width="6.6" height="1" fill="#c8ccd2"/><rect x="1.5" y="9" width="2" height="2" fill="#f06aa0"/><rect x="4.5" y="9.5" width="6.6" height="1" fill="#c8ccd2"/><rect x="1.5" y="14" width="2" height="2" fill="#f0a040"/><rect x="4.5" y="14.5" width="6.6" height="1" fill="#c8ccd2"/><rect x="1.5" y="19" width="2" height="2" fill="#6aa0f0"/><rect x="4.5" y="19.5" width="6.6" height="1" fill="#c8ccd2"/><rect x="1.5" y="24" width="2" height="2" fill="#b070d0"/><rect x="4.5" y="24.5" width="6.6" height="1" fill="#c8ccd2"/><rect x="1.5" y="29" width="2" height="2" fill="#40c0f0"/><rect x="4.5" y="29.5" width="6.6" height="1" fill="#c8ccd2"/><rect x="0" y="0" width="82" height="22" fill="#e8e4d6"/><path d="M10 4 L14 14 L20 18 L18 8 Z" fill="#8ab4e0"/><rect x="35" y="11" width="5" height="3" fill="#c8dcb0"/><rect x="70" y="9" width="5" height="3" fill="#c8dcb0"/><rect x="40" y="12" width="5" height="3" fill="#c8dcb0"/><rect x="16" y="10" width="5" height="3" fill="#c8dcb0"/><rect x="49" y="15" width="5" height="3" fill="#c8dcb0"/><rect x="9" y="6" width="5" height="3" fill="#c8dcb0"/><rect x="9" y="16" width="5" height="3" fill="#c8dcb0"/><rect x="53" y="2" width="5" height="3" fill="#c8dcb0"/><rect x="75" y="18" width="5" height="3" fill="#c8dcb0"/><rect x="50" y="12" width="5" height="3" fill="#c8dcb0"/><path d="M0 12 L40 6 L82 16 M30 0 L34 22 M60 0 L56 22" stroke="#f0f0ea" stroke-width="0.8" fill="none"/><rect x="26" y="5" width="26" height="12" fill="#fff"/><rect x="26" y="5" width="26" height="2" fill="#2a6ac0"/><rect x="28" y="8" width="8" height="7" fill="#3a7ab0"/><rect x="64" y="15" width="16" height="5" fill="#333"/><rect x="0" y="22" width="82" height="19" fill="#fff"/><circle cx="9" cy="31" r="4.5" fill="none" stroke="#3a8ae0" stroke-width="2"/><path d="M9 26.5 A4.5 4.5 0 0 1 13.5 31" stroke="#60c060" stroke-width="2" fill="none"/><rect x="46" y="32" width="1.8" height="4" fill="#40b0d0"/><rect x="49" y="30" width="1.8" height="6" fill="#40b0d0"/><rect x="52" y="29" width="1.8" height="7" fill="#60c080"/><rect x="55" y="27" width="1.8" height="9" fill="#40b0d0"/><rect x="58" y="28" width="1.8" height="8" fill="#60c080"/><path d="M64 32 L68 28 L72 30 L76 26 L80 30" stroke="#7aa8e0" stroke-width="0.7" fill="none"/><rect x="22" y="26" width="14" height="1" fill="#bbb"/><rect x="22" y="30" width="14" height="1" fill="#bbb"/><rect x="22" y="34" width="10" height="1" fill="#bbb"/></svg></div><svg class="a" style="left:76px;top:310px" width="84" height="74" viewBox="0 0 84 74" >
<path d="M62 26 L62 2" stroke="#222" stroke-width="1.2"/>
<path d="M63 24 L82 22" stroke="#333" stroke-width="1.2"/>
<path d="M58 27 L62 22 L66 27Z" fill="#222"/>
<rect x="1" y="26" width="65" height="33" fill="#1c1d1f"/>
<rect x="1" y="57" width="65" height="4" fill="#121314"/>
<rect x="4" y="60" width="58" height="2" fill="#4c9c56"/>
<rect x="10" y="36" width="16" height="8" fill="#5c645e"/>
<g fill="#bdbdbd"><circle cx="39" cy="35" r="1"/><circle cx="35" cy="39" r="1"/><circle cx="39" cy="39" r="1"/><circle cx="43" cy="39" r="1"/><circle cx="39" cy="43" r="1"/><circle cx="35" cy="43" r="0.8"/><circle cx="43" cy="43" r="0.8"/><circle cx="39" cy="47" r="0.8"/></g>
<g fill="#b84040"><rect x="48" y="29" width="1.5" height="1.5"/><rect x="52" y="29" width="1.5" height="1.5"/><rect x="56" y="29" width="1.5" height="1.5"/></g>
<path d="M8 31 l4 -2 l3 1" stroke="#3aa0c0" stroke-width="1" fill="none"/>
<rect x="16" y="29" width="10" height="1" fill="#666"/>
<path d="M50 43 v5 h6" stroke="#777" stroke-width="0.6" fill="none"/>
<circle cx="64" cy="52" r="1.2" fill="#b08030"/>
<path d="M64 53 Q66 62 72 70" stroke="#222" stroke-width="0.9" fill="none"/>
</svg><div class="dl" style="left:68px;top:379px">智能监控终端(RTU)</div><svg class="a" style="left:180px;top:358px" width="52" height="47" viewBox="0 0 52 47" >
<rect x="1" y="1" width="50" height="40" fill="#1c1d1f"/>
<rect x="1" y="38" width="50" height="4" fill="#101112"/>
<rect x="10" y="42" width="10" height="3" fill="#4aa855"/><rect x="28" y="42" width="12" height="3" fill="#4aa855"/>
<g fill="#c83a3a"><rect x="27" y="10" width="1.4" height="1.4"/><rect x="31" y="10" width="1.4" height="1.4"/><rect x="35" y="10" width="1.4" height="1.4"/><rect x="39" y="10" width="1.4" height="1.4"/></g>
<path d="M5 9 l3 -2 l3 1 l3 -2" stroke="#4ab0d0" stroke-width="1.1" fill="none"/>
<rect x="16" y="18" width="12" height="1.2" fill="#777"/>
</svg><svg class="a" style="left:234px;top:351px" width="27" height="40" viewBox="0 0 27 40" ><g stroke="#1d4f8c" stroke-width="1.7" fill="none" stroke-linecap="round"><path d="M5 14 A9 9 0 0 1 5 2"/><path d="M8.5 12 A5 5 0 0 1 8.5 4"/><path d="M22 14 A9 9 0 0 0 22 2"/><path d="M18.5 12 A5 5 0 0 0 18.5 4"/></g><ellipse cx="13.5" cy="33" rx="12" ry="6.5" fill="#3a74bc"/><ellipse cx="13.5" cy="32.5" rx="10" ry="5" fill="#5a94d4"/><path d="M6 30 L21 35 M6 35 L21 30" stroke="#dbe8f6" stroke-width="0.7"/><path d="M13.5 8 L7.5 33 L19.5 33 Z" fill="#2f68b0"/><path d="M12 15 L15.5 19 M15 15 L11 20 M10.5 21 L17 26 M16.5 21 L10 27 M9.5 28 L18 32 M17.5 28 L9 32" stroke="#e8f0fa" stroke-width="0.8"/><circle cx="13.5" cy="8" r="2.2" fill="#2f68b0"/></svg><svg class="a" style="left:230px;top:369px" width="10" height="14" viewBox="0 0 10 14" ><g transform="translate(5.0 7.0) rotate(0) scale(1 1) translate(-5.0 -7.0)"><path d="M5.5 0 L1.0 7.700000000000001 L4.5 7.0 L2.0 14 L9.0 5.32 L5.2 5.88 Z" fill="#f7c520" stroke="#e8a810" stroke-width="0.5"/></g></svg><div class="dl" style="left:168px;top:416px">电力线载波集中器</div><div class="or" style="left:282px;top:361px;font-size:11.5px">GPRS/3G/4G/5G</div><svg class="a" style="left:312px;top:374px" width="48" height="50" viewBox="0 0 48 50" >
<rect x="1" y="1" width="45" height="46" fill="#1d1e20"/>
<rect x="1" y="42" width="45" height="5" fill="#131415"/>
<path d="M10 9 l3 -2 l3 1" stroke="#4ab0d0" stroke-width="1" fill="none"/>
<rect x="9" y="13" width="10" height="0.8" fill="#777"/>
<g fill="#c84a3a"><rect x="27" y="8" width="1.3" height="1.3"/><rect x="31" y="8" width="1.3" height="1.3"/><rect x="35" y="8" width="1.3" height="1.3"/></g>
<g fill="#8a8a8a"><rect x="33" y="17" width="6" height="2"/><rect x="33" y="23" width="6" height="2"/><rect x="33" y="27" width="6" height="2"/><rect x="33" y="31" width="6" height="2"/><rect x="8" y="36" width="3" height="2"/><rect x="15" y="36" width="3" height="2"/><rect x="25" y="37" width="4" height="1"/></g>
</svg><svg class="a" style="left:381px;top:353px" width="27" height="40" viewBox="0 0 27 40" ><g stroke="#1d4f8c" stroke-width="1.7" fill="none" stroke-linecap="round"><path d="M5 14 A9 9 0 0 1 5 2"/><path d="M8.5 12 A5 5 0 0 1 8.5 4"/><path d="M22 14 A9 9 0 0 0 22 2"/><path d="M18.5 12 A5 5 0 0 0 18.5 4"/></g><ellipse cx="13.5" cy="33" rx="12" ry="6.5" fill="#3a74bc"/><ellipse cx="13.5" cy="32.5" rx="10" ry="5" fill="#5a94d4"/><path d="M6 30 L21 35 M6 35 L21 30" stroke="#dbe8f6" stroke-width="0.7"/><path d="M13.5 8 L7.5 33 L19.5 33 Z" fill="#2f68b0"/><path d="M12 15 L15.5 19 M15 15 L11 20 M10.5 21 L17 26 M16.5 21 L10 27 M9.5 28 L18 32 M17.5 28 L9 32" stroke="#e8f0fa" stroke-width="0.8"/><circle cx="13.5" cy="8" r="2.2" fill="#2f68b0"/></svg><svg class="a" style="left:408px;top:370px" width="9" height="13" viewBox="0 0 9 13" ><g transform="translate(4.5 6.5) rotate(0) scale(1 1) translate(-4.5 -6.5)"><path d="M4.95 0 L0.9 7.15 L4.05 6.5 L1.8 13 L8.1 4.94 L4.68 5.46 Z" fill="#f7c520" stroke="#e8a810" stroke-width="0.5"/></g></svg><div class="dl" style="left:300px;top:431px">电缆被盗监测终端</div><svg class="a" style="left:425px;top:357px" width="76" height="58" viewBox="0 0 76 58" >
<path d="M50 36 L62 30 L62 38 L50 44 Z" fill="#1a1b1d"/><rect x="54" y="35" width="3" height="2" fill="#ddd" transform="rotate(-25 54 35)"/>
<path d="M4 28 L29 43 L29 53 L4 38 Z" fill="#161719"/>
<path d="M29 43 L65 19 L65 28 L29 53 Z" fill="#1e1f21"/>
<path d="M4 28 L40.7 3 L65 19 L29 43 Z" fill="#27282b"/>
<path d="M24 14.5 L40.7 3 L62 17 L45 28.5 Z" fill="#2a62b4"/>
<path d="M23 15 L45 29" stroke="#5cb04a" stroke-width="1"/>
<path d="M5 29.5 L21 39 L21 47 L5 37.5 Z" fill="#48b858"/>
<g stroke="#2e8a3a" stroke-width="0.5"><path d="M8 31.5 v7"/><path d="M11 33.3 v7"/><path d="M14 35 v7"/><path d="M17 36.8 v7"/></g>
<path d="M24 45 L27 47 L27 50 L24 48 Z" fill="#333"/>
<path d="M16 25 L22 21 L26 23.5 L20 27.5 Z" fill="#e0e0e0"/>
<path d="M36 32 L40 29.5 L42 31 L38 33.5 Z" fill="#cfcfcf"/>
<g fill="#e03030"><circle cx="30" cy="12" r="0.9"/><circle cx="33" cy="10" r="0.9"/></g><circle cx="36" cy="8" r="0.9" fill="#40c040"/>
<path d="M37 6 l3 -2 l3 1" stroke="#5cc060" stroke-width="0.8" fill="none"/>
</svg><div class="dl" style="left:429px;top:420px">智能锁控制器</div><svg class="a" style="left:530px;top:325px" width="52" height="56" viewBox="0 0 52 56" >
<rect x="3.5" y="16" width="5" height="21" rx="1" fill="#111"/><rect x="45.5" y="16" width="5" height="21" rx="1" fill="#111"/>
<g fill="#eee"><ellipse cx="6" cy="20" rx="1.2" ry="1.5"/><ellipse cx="6" cy="26.5" rx="1.2" ry="2"/><ellipse cx="6" cy="33" rx="1.2" ry="1.5"/><ellipse cx="48" cy="20" rx="1.2" ry="1.5"/><ellipse cx="48" cy="26.5" rx="1.2" ry="2"/><ellipse cx="48" cy="33" rx="1.2" ry="1.5"/></g>
<rect x="8" y="0.5" width="38" height="53" fill="#242527"/>
<path d="M8 12 L46 18 L46 32 L8 26 Z" fill="#2c5eaa"/>
<path d="M8 26 L46 32 L46 34 L8 28 Z" fill="#4cae50"/>
<g fill="#e03030"><circle cx="12" cy="15.5" r="0.9"/><circle cx="12" cy="19" r="0.9"/></g><circle cx="12" cy="22.5" r="0.9" fill="#50d040"/>
<g fill="#8aa0c0"><rect x="14" y="15" width="3" height="0.8"/><rect x="14" y="18.5" width="3" height="0.8"/><rect x="14" y="22" width="3" height="0.8"/></g>
<path d="M13 37 l4.5 -2 l4.5 2 v4 q-1 4 -4.5 6 q-3.5 -2 -4.5 -6z" stroke="#ddd" stroke-width="0.8" fill="none"/>
<rect x="34" y="38" width="9" height="9" fill="#ddd"/><rect x="35.5" y="39.5" width="6" height="6" fill="#666"/>
<rect x="12" y="48" width="10" height="0.8" fill="#888"/><rect x="9" y="50.5" width="36" height="1.2" fill="#555"/>
<path d="M12 8 l3 -2 l3 1" stroke="#4ab050" stroke-width="1" fill="none"/>
<rect x="25" y="5.5" width="12" height="1.2" fill="#bbb"/>
</svg><div class="dl" style="left:527px;top:386px">漏电检测终端</div><svg class="a" style="left:67px;top:453px" width="20" height="40" viewBox="0 0 20 40" ><g opacity="0.35"><path d="M4 36 L4 13 Q4 2 14 2" stroke="#9aa0a6" stroke-width="1.7" fill="none"/><ellipse cx="15.5" cy="3" rx="3.6" ry="2.4" fill="#e8ecf2"/><path d="M11.9 3 A3.6 2.4 0 0 1 19.1 3 Z" fill="#2a4e90"/><rect x="0" y="20" width="8" height="15" rx="1" fill="#55585e"/><g fill="#d6d9dd"><rect x="2" y="23" width="4" height="1.6"/><rect x="2" y="27" width="4" height="1.6"/><rect x="2" y="31" width="4" height="1.6"/></g></g></svg><svg class="a" style="left:106px;top:465px" width="20" height="44" viewBox="0 0 20 44" ><g opacity="1.0"><path d="M4 40 L4 13 Q4 2 14 2" stroke="#9aa0a6" stroke-width="1.7" fill="none"/><ellipse cx="15.5" cy="3" rx="3.6" ry="2.4" fill="#e8ecf2"/><path d="M11.9 3 A3.6 2.4 0 0 1 19.1 3 Z" fill="#2a4e90"/><rect x="0" y="24" width="8" height="15" rx="1" fill="#55585e"/><g fill="#d6d9dd"><rect x="2" y="27" width="4" height="1.6"/><rect x="2" y="31" width="4" height="1.6"/><rect x="2" y="35" width="4" height="1.6"/></g></g></svg><svg class="a" style="left:182px;top:477px" width="20" height="51" viewBox="0 0 20 51" ><g opacity="1.0"><path d="M4 47 L4 13 Q4 2 14 2" stroke="#9aa0a6" stroke-width="1.7" fill="none"/><ellipse cx="15.5" cy="3" rx="3.6" ry="2.4" fill="#e8ecf2"/><path d="M11.9 3 A3.6 2.4 0 0 1 19.1 3 Z" fill="#2a4e90"/><rect x="0" y="31" width="8" height="15" rx="1" fill="#55585e"/><g fill="#d6d9dd"><rect x="2" y="34" width="4" height="1.6"/><rect x="2" y="38" width="4" height="1.6"/><rect x="2" y="42" width="4" height="1.6"/></g></g></svg><svg class="a" style="left:239px;top:483px" width="20" height="47" viewBox="0 0 20 47" ><g opacity="1.0"><path d="M4 43 L4 13 Q4 2 14 2" stroke="#9aa0a6" stroke-width="1.7" fill="none"/><ellipse cx="15.5" cy="3" rx="3.6" ry="2.4" fill="#e8ecf2"/><path d="M11.9 3 A3.6 2.4 0 0 1 19.1 3 Z" fill="#2a4e90"/><rect x="0" y="27" width="8" height="15" rx="1" fill="#55585e"/><g fill="#d6d9dd"><rect x="2" y="30" width="4" height="1.6"/><rect x="2" y="34" width="4" height="1.6"/><rect x="2" y="38" width="4" height="1.6"/></g></g></svg><svg class="a" style="left:145px;top:474px" width="24" height="50" viewBox="0 0 24 50" >
<path d="M12 0 v6" stroke="#111" stroke-width="1.6"/><rect x="9" y="5" width="6" height="6" fill="#111"/>
<rect x="2" y="10" width="20" height="38" fill="#d6d8da" stroke="#b8babd" stroke-width="0.6"/>
<rect x="4" y="13" width="16" height="5" fill="#bfc2c6"/>
<rect x="6" y="25" width="12" height="1.3" fill="#666"/>
<g><rect x="6" y="31" width="2" height="2" fill="#e04040"/><rect x="10" y="31" width="2" height="2" fill="#40a040"/><rect x="14" y="31" width="2" height="2" fill="#3070d0"/></g>
<rect x="2" y="40" width="20" height="8" fill="#c4c6c9"/>
</svg><div class="or" style="left:126px;top:464px">电缆被盗监测</div><svg class="a" style="left:196px;top:472px" width="24" height="22" viewBox="0 0 24 22" ><path d="M0.10 5.63 A20.24 20.24 0 0 1 23.90 5.63" stroke="#fff" stroke-width="4.06" fill="none" opacity="0.7"/><path d="M0.10 5.63 A20.24 20.24 0 0 1 23.90 5.63" stroke="#62b42e" stroke-width="2.86" fill="none"/><path d="M2.56 9.01 A16.06 16.06 0 0 1 21.44 9.01" stroke="#fff" stroke-width="4.06" fill="none" opacity="0.7"/><path d="M2.56 9.01 A16.06 16.06 0 0 1 21.44 9.01" stroke="#62b42e" stroke-width="2.86" fill="none"/><path d="M5.02 12.39 A11.88 11.88 0 0 1 18.98 12.39" stroke="#fff" stroke-width="4.06" fill="none" opacity="0.7"/><path d="M5.02 12.39 A11.88 11.88 0 0 1 18.98 12.39" stroke="#62b42e" stroke-width="2.86" fill="none"/><path d="M7.34 15.59 A7.92 7.92 0 0 1 16.66 15.59" stroke="#fff" stroke-width="4.06" fill="none" opacity="0.7"/><path d="M7.34 15.59 A7.92 7.92 0 0 1 16.66 15.59" stroke="#62b42e" stroke-width="2.86" fill="none"/><path d="M9.67 18.80 A3.96 3.96 0 0 1 14.33 18.80" stroke="#fff" stroke-width="4.72" fill="none" opacity="0.7"/><path d="M9.67 18.80 A3.96 3.96 0 0 1 14.33 18.80" stroke="#62b42e" stroke-width="3.52" fill="none"/></svg><svg class="a" style="left:489px;top:462px" width="24" height="22" viewBox="0 0 24 22" ><path d="M0.10 5.63 A20.24 20.24 0 0 1 23.90 5.63" stroke="#fff" stroke-width="4.06" fill="none" opacity="0.7"/><path d="M0.10 5.63 A20.24 20.24 0 0 1 23.90 5.63" stroke="#62b42e" stroke-width="2.86" fill="none"/><path d="M2.56 9.01 A16.06 16.06 0 0 1 21.44 9.01" stroke="#fff" stroke-width="4.06" fill="none" opacity="0.7"/><path d="M2.56 9.01 A16.06 16.06 0 0 1 21.44 9.01" stroke="#62b42e" stroke-width="2.86" fill="none"/><path d="M5.02 12.39 A11.88 11.88 0 0 1 18.98 12.39" stroke="#fff" stroke-width="4.06" fill="none" opacity="0.7"/><path d="M5.02 12.39 A11.88 11.88 0 0 1 18.98 12.39" stroke="#62b42e" stroke-width="2.86" fill="none"/><path d="M7.34 15.59 A7.92 7.92 0 0 1 16.66 15.59" stroke="#fff" stroke-width="4.06" fill="none" opacity="0.7"/><path d="M7.34 15.59 A7.92 7.92 0 0 1 16.66 15.59" stroke="#62b42e" stroke-width="2.86" fill="none"/><path d="M9.67 18.80 A3.96 3.96 0 0 1 14.33 18.80" stroke="#fff" stroke-width="4.72" fill="none" opacity="0.7"/><path d="M9.67 18.80 A3.96 3.96 0 0 1 14.33 18.80" stroke="#62b42e" stroke-width="3.52" fill="none"/></svg><div class="or" style="left:215px;top:531px">单灯控制器</div><div class="or" style="left:422px;top:467px">智慧灯杆</div><svg class="a" style="left:408px;top:480px" width="18" height="50" viewBox="0 0 18 50" ><g opacity="1.0"><path d="M8 49 V2" stroke="#a0a4a8" stroke-width="1.4"/><path d="M8 4 L0 2" stroke="#888" stroke-width="1"/><circle cx="5" cy="9" r="1" fill="#333"/><circle cx="5" cy="14" r="1.2" fill="#333"/><rect x="10" y="13" width="6" height="13" fill="#3a72c0"/><rect x="10" y="19" width="6" height="5" fill="#e8603a"/><rect x="6.5" y="39" width="3" height="4" fill="#555"/></g></svg><svg class="a" style="left:476px;top:472px" width="18" height="50" viewBox="0 0 18 50" ><g opacity="1.0"><path d="M8 49 V2" stroke="#a0a4a8" stroke-width="1.4"/><path d="M8 4 L0 2" stroke="#888" stroke-width="1"/><circle cx="5" cy="9" r="1" fill="#333"/><circle cx="5" cy="14" r="1.2" fill="#333"/><rect x="10" y="13" width="6" height="13" fill="#3a72c0"/><rect x="10" y="19" width="6" height="5" fill="#e8603a"/><rect x="6.5" y="39" width="3" height="4" fill="#555"/></g></svg><svg class="a" style="left:530px;top:458px" width="18" height="49" viewBox="0 0 18 49" ><g opacity="1.0"><path d="M8 48 V2" stroke="#a0a4a8" stroke-width="1.4"/><path d="M8 4 L0 2" stroke="#888" stroke-width="1"/><circle cx="5" cy="9" r="1" fill="#333"/><circle cx="5" cy="14" r="1.2" fill="#333"/><rect x="10" y="13" width="6" height="13" fill="#3a72c0"/><rect x="10" y="19" width="6" height="5" fill="#e8603a"/><rect x="6.5" y="38" width="3" height="4" fill="#555"/></g></svg><svg class="a" style="left:580px;top:448px" width="18" height="42" viewBox="0 0 18 42" ><g opacity="0.45"><path d="M8 41 V2" stroke="#a0a4a8" stroke-width="1.4"/><path d="M8 4 L0 2" stroke="#888" stroke-width="1"/><circle cx="5" cy="9" r="1" fill="#333"/><circle cx="5" cy="14" r="1.2" fill="#333"/><rect x="10" y="13" width="6" height="13" fill="#3a72c0"/><rect x="10" y="19" width="6" height="5" fill="#e8603a"/><rect x="6.5" y="31" width="3" height="4" fill="#555"/></g></svg><svg class="a" style="left:266px;top:461px" width="118" height="85" viewBox="0 0 118 85">
<defs><pattern id="dots" width="3" height="3" patternUnits="userSpaceOnUse"><circle cx="1.5" cy="1.5" r="0.6" fill="#f3c27a"/></pattern></defs>
<path id="cl" d="M14 36 C2 32 4 14 20 16 C22 4 40 2 46 10 C54 0 74 2 78 10 C90 4 104 10 102 22 C114 26 114 44 104 48 C110 60 98 72 86 68 C88 76 92 80 100 82 C88 82 80 76 76 72 C66 80 50 78 44 72 C34 78 18 74 18 62 C4 60 4 42 14 36 Z" fill="#fffaf2" stroke="#f0a028" stroke-width="3.2"/>
<path d="M14 36 C2 32 4 14 20 16 C22 4 40 2 46 10 C54 0 74 2 78 10 C90 4 104 10 102 22 C114 26 114 44 104 48 C110 60 98 72 86 68 C88 76 92 80 100 82 C88 82 80 76 76 72 C66 80 50 78 44 72 C34 78 18 74 18 62 C4 60 4 42 14 36 Z" fill="url(#dots)" stroke="#fff" stroke-width="1" transform="translate(3 3) scale(0.95)"/>
</svg><div class="or" style="left:297px;top:492px;font-size:11px">电力线载波</div><div class="or" style="left:290px;top:507px;font-size:11px">NB-IoT/Cat.1</div><svg class="a" style="left:137px;top:597px" width="474" height="66" viewBox="0 0 474 66"><rect width="474" height="66" fill="#343a42"/><path d="M289 49 Q326 56 343 62" stroke="#9c5a2e" stroke-width="0.7" fill="none" opacity="0.55"/><path d="M361 2 Q364 32 355 62" stroke="#9c5a2e" stroke-width="0.7" fill="none" opacity="0.55"/><path d="M356 7 Q355 12 351 16" stroke="#9c5a2e" stroke-width="0.7" fill="none" opacity="0.55"/><path d="M278 1 Q269 10 227 18" stroke="#9c5a2e" stroke-width="0.7" fill="none" opacity="0.55"/><path d="M324 11 Q355 10 377 9" stroke="#9c5a2e" stroke-width="0.7" fill="none" opacity="0.55"/><path d="M170 0 Q192 7 237 14" stroke="#9c5a2e" stroke-width="0.7" fill="none" opacity="0.55"/><path d="M376 58 Q358 61 338 63" stroke="#9c5a2e" stroke-width="0.7" fill="none" opacity="0.55"/><path d="M303 14 Q361 30 382 46" stroke="#9c5a2e" stroke-width="0.7" fill="none" opacity="0.55"/><path d="M354 20 Q328 15 330 11" stroke="#9c5a2e" stroke-width="0.7" fill="none" opacity="0.55"/><path d="M156 20 Q172 10 174 0" stroke="#9c5a2e" stroke-width="0.7" fill="none" opacity="0.55"/><path d="M221 20 Q242 26 278 32" stroke="#9c5a2e" stroke-width="0.7" fill="none" opacity="0.55"/><path d="M255 47 Q197 55 176 64" stroke="#9c5a2e" stroke-width="0.7" fill="none" opacity="0.55"/><path d="M320 56 Q271 54 233 52" stroke="#9c5a2e" stroke-width="0.7" fill="none" opacity="0.55"/><path d="M279 1 Q256 6 197 12" stroke="#9c5a2e" stroke-width="0.7" fill="none" opacity="0.55"/><path d="M187 50 Q220 56 265 62" stroke="#9c5a2e" stroke-width="0.7" fill="none" opacity="0.55"/><path d="M225 35 Q260 21 275 7" stroke="#9c5a2e" stroke-width="0.7" fill="none" opacity="0.55"/><path d="M331 57 Q273 60 248 62" stroke="#9c5a2e" stroke-width="0.7" fill="none" opacity="0.55"/><path d="M222 40 Q276 31 297 22" stroke="#9c5a2e" stroke-width="0.7" fill="none" opacity="0.55"/><path d="M271 21 Q237 16 238 12" stroke="#9c5a2e" stroke-width="0.7" fill="none" opacity="0.55"/><path d="M176 45 Q202 28 265 11" stroke="#9c5a2e" stroke-width="0.7" fill="none" opacity="0.55"/><path d="M377 35 Q372 25 360 16" stroke="#9c5a2e" stroke-width="0.7" fill="none" opacity="0.55"/><path d="M338 30 Q348 17 324 4" stroke="#9c5a2e" stroke-width="0.7" fill="none" opacity="0.55"/><path d="M148 33 Q188 21 209 9" stroke="#9c5a2e" stroke-width="0.7" fill="none" opacity="0.55"/><path d="M368 42 Q391 24 420 7" stroke="#9c5a2e" stroke-width="0.7" fill="none" opacity="0.55"/><path d="M176 56 Q177 43 139 30" stroke="#9c5a2e" stroke-width="0.7" fill="none" opacity="0.55"/><path d="M345 64 Q350 48 336 32" stroke="#9c5a2e" stroke-width="0.7" fill="none" opacity="0.55"/><rect x="185" y="45" width="1.9" height="2.5" fill="#5ae0d8" opacity="0.8"/><rect x="236" y="65" width="3.1" height="3.0" fill="#2aa8a8" opacity="0.8"/><rect x="257" y="49" width="2.9" height="3.0" fill="#3cc8c0" opacity="0.8"/><rect x="288" y="58" width="3.4" height="3.8" fill="#5ae0d8" opacity="0.8"/><rect x="276" y="50" width="3.2" height="4.3" fill="#2aa8a8" opacity="0.8"/><rect x="240" y="58" width="3.2" height="2.2" fill="#2aa8a8" opacity="0.8"/><rect x="187" y="30" width="2.9" height="2.0" fill="#5ae0d8" opacity="0.8"/><rect x="171" y="40" width="2.2" height="3.0" fill="#5ae0d8" opacity="0.8"/><rect x="245" y="53" width="3.3" height="4.3" fill="#2aa8a8" opacity="0.8"/><rect x="181" y="63" width="1.9" height="4.5" fill="#2aa8a8" opacity="0.8"/><rect x="209" y="49" width="1.9" height="4.3" fill="#2aa8a8" opacity="0.8"/><rect x="225" y="54" width="2.5" height="3.5" fill="#5ae0d8" opacity="0.8"/><rect x="252" y="49" width="3.8" height="2.2" fill="#5ae0d8" opacity="0.8"/><rect x="242" y="56" width="1.6" height="1.6" fill="#2aa8a8" opacity="0.8"/><rect x="153" y="52" width="2.0" height="4.0" fill="#3cc8c0" opacity="0.8"/><rect x="219" y="47" width="2.1" height="1.2" fill="#3cc8c0" opacity="0.8"/><rect x="218" y="34" width="3.9" height="2.9" fill="#5ae0d8" opacity="0.8"/><rect x="290" y="44" width="3.0" height="3.4" fill="#3cc8c0" opacity="0.8"/><rect x="244" y="56" width="2.4" height="2.4" fill="#2aa8a8" opacity="0.8"/><rect x="298" y="55" width="2.9" height="4.9" fill="#5ae0d8" opacity="0.8"/><rect x="287" y="42" width="3.0" height="4.8" fill="#3cc8c0" opacity="0.8"/><rect x="269" y="45" width="3.5" height="3.6" fill="#2aa8a8" opacity="0.8"/><rect x="199" y="44" width="2.7" height="1.8" fill="#3cc8c0" opacity="0.8"/><rect x="237" y="52" width="2.4" height="4.6" fill="#3cc8c0" opacity="0.8"/><rect x="194" y="63" width="2.8" height="2.3" fill="#5ae0d8" opacity="0.8"/><rect x="263" y="44" width="2.6" height="1.9" fill="#2aa8a8" opacity="0.8"/><rect x="241" y="61" width="1.9" height="3.4" fill="#5ae0d8" opacity="0.8"/><rect x="294" y="45" width="2.3" height="4.9" fill="#2aa8a8" opacity="0.8"/><rect x="222" y="63" width="1.9" height="1.1" fill="#5ae0d8" opacity="0.8"/><rect x="187" y="41" width="3.5" height="4.3" fill="#3cc8c0" opacity="0.8"/><rect x="189" y="47" width="2.9" height="2.0" fill="#2aa8a8" opacity="0.8"/><rect x="238" y="40" width="1.9" height="5.0" fill="#2aa8a8" opacity="0.8"/><rect x="190" y="48" width="4.0" height="3.1" fill="#5ae0d8" opacity="0.8"/><rect x="315" y="31" width="1.8" height="2.1" fill="#5ae0d8" opacity="0.8"/><rect x="150" y="42" width="2.2" height="3.1" fill="#2aa8a8" opacity="0.8"/><rect x="181" y="59" width="1.8" height="1.0" fill="#5ae0d8" opacity="0.8"/><rect x="297" y="46" width="3.8" height="4.6" fill="#5ae0d8" opacity="0.8"/><rect x="251" y="59" width="3.0" height="3.8" fill="#5ae0d8" opacity="0.8"/><rect x="284" y="53" width="3.6" height="4.4" fill="#2aa8a8" opacity="0.8"/><rect x="298" y="41" width="3.6" height="1.3" fill="#3cc8c0" opacity="0.8"/><rect x="210" y="40" width="3.5" height="4.6" fill="#3cc8c0" opacity="0.8"/><rect x="175" y="36" width="3.2" height="4.6" fill="#2aa8a8" opacity="0.8"/><rect x="174" y="49" width="1.6" height="3.9" fill="#2aa8a8" opacity="0.8"/><rect x="216" y="60" width="3.5" height="3.7" fill="#3cc8c0" opacity="0.8"/><rect x="201" y="32" width="2.5" height="2.9" fill="#3cc8c0" opacity="0.8"/><rect x="281" y="60" width="2.0" height="3.6" fill="#3cc8c0" opacity="0.8"/><rect x="223" y="41" width="3.8" height="1.6" fill="#5ae0d8" opacity="0.8"/><rect x="201" y="37" width="3.5" height="1.3" fill="#3cc8c0" opacity="0.8"/><rect x="255" y="44" width="1.7" height="1.2" fill="#5ae0d8" opacity="0.8"/><rect x="237" y="34" width="2.5" height="3.5" fill="#3cc8c0" opacity="0.8"/><rect x="187" y="52" width="2.7" height="4.8" fill="#2aa8a8" opacity="0.8"/><rect x="250" y="63" width="1.8" height="2.2" fill="#5ae0d8" opacity="0.8"/><rect x="186" y="63" width="2.9" height="3.5" fill="#2aa8a8" opacity="0.8"/><rect x="182" y="32" width="2.1" height="4.3" fill="#2aa8a8" opacity="0.8"/><rect x="201" y="38" width="2.4" height="3.9" fill="#3cc8c0" opacity="0.8"/><rect x="227" y="35" width="1.5" height="2.4" fill="#5ae0d8" opacity="0.8"/><rect x="218" y="34" width="3.0" height="2.0" fill="#2aa8a8" opacity="0.8"/><rect x="209" y="47" width="2.3" height="4.2" fill="#3cc8c0" opacity="0.8"/><rect x="178" y="61" width="3.9" height="2.7" fill="#3cc8c0" opacity="0.8"/><rect x="216" y="57" width="1.7" height="4.6" fill="#2aa8a8" opacity="0.8"/><rect x="243" y="52" width="2.4" height="1.9" fill="#2aa8a8" opacity="0.8"/><rect x="203" y="63" width="3.3" height="4.2" fill="#2aa8a8" opacity="0.8"/><rect x="298" y="53" width="3.5" height="2.7" fill="#2aa8a8" opacity="0.8"/><rect x="308" y="49" width="3.0" height="3.3" fill="#5ae0d8" opacity="0.8"/><rect x="238" y="31" width="2.0" height="1.8" fill="#2aa8a8" opacity="0.8"/><rect x="248" y="62" width="2.7" height="4.0" fill="#3cc8c0" opacity="0.8"/><rect x="188" y="64" width="3.8" height="2.3" fill="#2aa8a8" opacity="0.8"/><rect x="251" y="34" width="1.9" height="1.6" fill="#2aa8a8" opacity="0.8"/><rect x="305" y="47" width="2.9" height="1.4" fill="#3cc8c0" opacity="0.8"/><rect x="223" y="62" width="2.4" height="4.0" fill="#2aa8a8" opacity="0.8"/><rect x="217" y="64" width="3.2" height="3.7" fill="#2aa8a8" opacity="0.8"/><rect x="249" y="58" width="2.3" height="2.8" fill="#3cc8c0" opacity="0.8"/><rect x="204" y="56" width="1.9" height="1.8" fill="#3cc8c0" opacity="0.8"/><rect x="158" y="52" width="3.8" height="3.8" fill="#5ae0d8" opacity="0.8"/><rect x="194" y="41" width="2.7" height="2.1" fill="#5ae0d8" opacity="0.8"/><rect x="292" y="58" width="1.9" height="1.8" fill="#3cc8c0" opacity="0.8"/><rect x="228" y="53" width="2.6" height="4.9" fill="#3cc8c0" opacity="0.8"/><rect x="171" y="55" width="1.9" height="1.1" fill="#5ae0d8" opacity="0.8"/><rect x="244" y="50" width="3.8" height="3.9" fill="#3cc8c0" opacity="0.8"/><rect x="281" y="64" width="1.6" height="2.0" fill="#3cc8c0" opacity="0.8"/><rect x="192" y="48" width="3.5" height="1.2" fill="#2aa8a8" opacity="0.8"/><rect x="156" y="62" width="3.9" height="1.8" fill="#5ae0d8" opacity="0.8"/><rect x="256" y="48" width="2.5" height="3.1" fill="#3cc8c0" opacity="0.8"/><rect x="317" y="33" width="4.0" height="1.6" fill="#3cc8c0" opacity="0.8"/><rect x="187" y="61" width="2.0" height="1.1" fill="#5ae0d8" opacity="0.8"/><rect x="194" y="58" width="2.8" height="1.5" fill="#3cc8c0" opacity="0.8"/><rect x="275" y="63" width="2.3" height="2.8" fill="#3cc8c0" opacity="0.8"/><rect x="202" y="47" width="3.4" height="2.1" fill="#2aa8a8" opacity="0.8"/><rect x="220" y="41" width="1.8" height="1.3" fill="#3cc8c0" opacity="0.8"/><rect x="198" y="65" width="3.2" height="2.1" fill="#2aa8a8" opacity="0.8"/><rect x="265" y="40" width="2.4" height="1.4" fill="#2aa8a8" opacity="0.8"/><rect x="241" y="58" width="2.4" height="4.1" fill="#3cc8c0" opacity="0.8"/><rect x="294" y="57" width="2.9" height="2.8" fill="#5ae0d8" opacity="0.8"/><rect x="181" y="54" width="3.9" height="3.9" fill="#5ae0d8" opacity="0.8"/><rect x="207" y="59" width="2.9" height="2.3" fill="#2aa8a8" opacity="0.8"/><rect x="241" y="36" width="2.2" height="3.7" fill="#2aa8a8" opacity="0.8"/><rect x="297" y="57" width="1.6" height="1.5" fill="#3cc8c0" opacity="0.8"/><rect x="245" y="60" width="2.6" height="2.0" fill="#5ae0d8" opacity="0.8"/><rect x="297" y="35" width="2.0" height="2.4" fill="#3cc8c0" opacity="0.8"/><rect x="237" y="51" width="3.6" height="3.9" fill="#3cc8c0" opacity="0.8"/><rect x="221" y="53" width="1.9" height="4.1" fill="#2aa8a8" opacity="0.8"/><rect x="305" y="59" width="1.8" height="2.3" fill="#3cc8c0" opacity="0.8"/><rect x="173" y="46" width="3.4" height="4.7" fill="#5ae0d8" opacity="0.8"/><rect x="244" y="47" width="2.7" height="1.0" fill="#3cc8c0" opacity="0.8"/><rect x="253" y="32" width="3.9" height="1.1" fill="#5ae0d8" opacity="0.8"/><rect x="177" y="38" width="3.3" height="2.4" fill="#2aa8a8" opacity="0.8"/><rect x="239" y="37" width="2.9" height="2.4" fill="#3cc8c0" opacity="0.8"/><rect x="273" y="43" width="3.5" height="4.3" fill="#5ae0d8" opacity="0.8"/><rect x="288" y="52" width="2.5" height="1.6" fill="#3cc8c0" opacity="0.8"/><rect x="263" y="34" width="3.3" height="4.6" fill="#3cc8c0" opacity="0.8"/><rect x="238" y="59" width="3.4" height="2.9" fill="#2aa8a8" opacity="0.8"/><rect x="280" y="59" width="2.4" height="1.0" fill="#5ae0d8" opacity="0.8"/><rect x="172" y="52" width="3.1" height="4.3" fill="#3cc8c0" opacity="0.8"/><rect x="225" y="41" width="2.5" height="2.9" fill="#5ae0d8" opacity="0.8"/><rect x="242" y="55" width="2.6" height="4.2" fill="#5ae0d8" opacity="0.8"/><rect x="305" y="54" width="2.8" height="4.2" fill="#2aa8a8" opacity="0.8"/><rect x="191" y="64" width="1.6" height="4.1" fill="#3cc8c0" opacity="0.8"/><rect x="225" y="33" width="2.4" height="3.3" fill="#5ae0d8" opacity="0.8"/><rect x="252" y="45" width="3.9" height="1.1" fill="#5ae0d8" opacity="0.8"/><rect x="231" y="33" width="3.9" height="2.2" fill="#2aa8a8" opacity="0.8"/><rect x="245" y="55" width="3.6" height="4.0" fill="#5ae0d8" opacity="0.8"/><rect x="172" y="33" width="1.8" height="2.4" fill="#5ae0d8" opacity="0.8"/><rect x="206" y="45" width="3.9" height="3.7" fill="#2aa8a8" opacity="0.8"/><rect x="265" y="62" width="3.8" height="3.5" fill="#2aa8a8" opacity="0.8"/><rect x="302" y="42" width="3.6" height="4.6" fill="#5ae0d8" opacity="0.8"/><rect x="218" y="62" width="2.0" height="2.2" fill="#2aa8a8" opacity="0.8"/><rect x="178" y="59" width="1.7" height="4.8" fill="#3cc8c0" opacity="0.8"/><rect x="167" y="38" width="1.7" height="3.3" fill="#5ae0d8" opacity="0.8"/><rect x="160" y="62" width="3.3" height="2.7" fill="#2aa8a8" opacity="0.8"/><rect x="156" y="39" width="2.5" height="1.3" fill="#2aa8a8" opacity="0.8"/><rect x="238" y="37" width="1.6" height="1.5" fill="#5ae0d8" opacity="0.8"/><rect x="163" y="46" width="2.3" height="1.4" fill="#5ae0d8" opacity="0.8"/><rect x="206" y="42" width="1.7" height="4.8" fill="#3cc8c0" opacity="0.8"/><rect x="300" y="41" width="3.6" height="3.6" fill="#3cc8c0" opacity="0.8"/><rect x="156" y="60" width="1.5" height="3.7" fill="#3cc8c0" opacity="0.8"/><rect x="165" y="33" width="1.9" height="3.5" fill="#3cc8c0" opacity="0.8"/><rect x="177" y="42" width="3.4" height="1.7" fill="#5ae0d8" opacity="0.8"/><rect x="203" y="64" width="3.1" height="4.9" fill="#3cc8c0" opacity="0.8"/><rect x="163" y="37" width="2.3" height="1.7" fill="#5ae0d8" opacity="0.8"/><rect x="306" y="66" width="3.4" height="2.0" fill="#5ae0d8" opacity="0.8"/><rect x="224" y="65" width="3.9" height="1.5" fill="#3cc8c0" opacity="0.8"/><rect x="231" y="48" width="3.9" height="4.8" fill="#3cc8c0" opacity="0.8"/><rect x="238" y="31" width="3.5" height="5.0" fill="#5ae0d8" opacity="0.8"/><rect x="247" y="35" width="3.8" height="3.6" fill="#3cc8c0" opacity="0.8"/><rect x="278" y="51" width="2.2" height="2.3" fill="#3cc8c0" opacity="0.8"/><rect x="212" y="45" width="2.1" height="3.7" fill="#3cc8c0" opacity="0.8"/><rect x="228" y="35" width="3.9" height="3.2" fill="#2aa8a8" opacity="0.8"/><rect x="298" y="44" width="3.8" height="1.4" fill="#2aa8a8" opacity="0.8"/><rect x="223" y="35" width="1.7" height="4.3" fill="#3cc8c0" opacity="0.8"/><rect x="224" y="39" width="2.6" height="2.5" fill="#5ae0d8" opacity="0.8"/><rect x="238" y="33" width="3.9" height="1.8" fill="#2aa8a8" opacity="0.8"/><rect x="296" y="64" width="3.0" height="4.4" fill="#2aa8a8" opacity="0.8"/><rect x="235" y="48" width="1.6" height="2.6" fill="#5ae0d8" opacity="0.8"/><rect x="162" y="62" width="3.1" height="3.5" fill="#3cc8c0" opacity="0.8"/><rect x="259" y="38" width="2.6" height="3.9" fill="#2aa8a8" opacity="0.8"/><rect x="276" y="66" width="3.4" height="4.6" fill="#3cc8c0" opacity="0.8"/><rect x="203" y="41" width="2.0" height="4.3" fill="#3cc8c0" opacity="0.8"/><rect x="268" y="45" width="2.2" height="2.9" fill="#2aa8a8" opacity="0.8"/><rect x="229" y="30" width="3.1" height="4.1" fill="#2aa8a8" opacity="0.8"/><rect x="304" y="31" width="2.5" height="1.6" fill="#5ae0d8" opacity="0.8"/><rect x="269" y="31" width="3.6" height="4.8" fill="#5ae0d8" opacity="0.8"/><rect x="2" y="3" width="48" height="28" fill="#383e47" stroke="#46505c" stroke-width="0.5"/><rect x="2" y="33" width="48" height="13" fill="#383e47" stroke="#46505c" stroke-width="0.5"/><rect x="2" y="48" width="48" height="16" fill="#383e47" stroke="#46505c" stroke-width="0.5"/><rect x="52" y="3" width="46" height="25" fill="#383e47" stroke="#46505c" stroke-width="0.5"/><rect x="52" y="30" width="46" height="17" fill="#383e47" stroke="#46505c" stroke-width="0.5"/><rect x="52" y="49" width="46" height="15" fill="#383e47" stroke="#46505c" stroke-width="0.5"/><rect x="100" y="3" width="44" height="60" fill="#383e47" stroke="#46505c" stroke-width="0.5"/><path d="M7 12 h9 l-4.5 3z" fill="#e84a3a"/><path d="M22 12 h9 l-4.5 3z" fill="#f0c020"/><path d="M37 12 h9 l-4.5 3z" fill="#e84a3a"/><path d="M7 22 h9 l-4.5 3z" fill="#e84a3a"/><path d="M22 22 h9 l-4.5 3z" fill="#f0c020"/><path d="M37 22 h9 l-4.5 3z" fill="#e84a3a"/><ellipse cx="75" cy="13" rx="10" ry="6" fill="none" stroke="#e0c040" stroke-width="1.4"/><path d="M65 13 A10 6 0 0 1 79 7.3" stroke="#40a8e8" stroke-width="1.4" fill="none"/><rect x="56.0" y="41" width="2" height="3" fill="#40c0e8"/><rect x="59.5" y="40" width="2" height="4" fill="#40c0e8"/><rect x="63.0" y="39" width="2" height="5" fill="#40c0e8"/><rect x="66.5" y="40" width="2" height="4" fill="#40c0e8"/><rect x="70.0" y="39" width="2" height="5" fill="#40c0e8"/><rect x="73.5" y="38" width="2" height="6" fill="#40c0e8"/><rect x="77.0" y="39" width="2" height="5" fill="#40c0e8"/><rect x="80.5" y="37" width="2" height="7" fill="#40c0e8"/><rect x="84.0" y="36" width="2" height="8" fill="#40c0e8"/><rect x="87.5" y="38" width="2" height="6" fill="#40c0e8"/><rect x="91.0" y="39" width="2" height="5" fill="#40c0e8"/><rect x="94.5" y="40" width="2" height="4" fill="#40c0e8"/><path d="M5 42 Q14 36 24 40 T46 42" stroke="#c0b030" stroke-width="0.8" fill="none"/><path d="M5 44 Q14 38 24 43 T46 44" stroke="#40a0d0" stroke-width="0.8" fill="none"/><path d="M55 60 Q64 56 74 59 T96 58" stroke="#60c080" stroke-width="0.8" fill="none"/><rect x="5" y="54" width="40" height="1" fill="#5e6874"/><rect x="5" y="58" width="40" height="1" fill="#5e6874"/><rect x="5" y="62" width="40" height="1" fill="#5e6874"/><rect x="104" y="9" width="36" height="1.2" fill="#5e6874"/><rect x="104" y="14" width="36" height="1.2" fill="#5e6874"/><rect x="104" y="19" width="36" height="1.2" fill="#5e6874"/><rect x="104" y="24" width="36" height="1.2" fill="#5e6874"/><rect x="104" y="29" width="36" height="1.2" fill="#5e6874"/><rect x="104" y="34" width="36" height="1.2" fill="#5e6874"/><rect x="104" y="18" width="36" height="2" fill="#a03838" opacity="0.6"/><rect x="112" y="6" width="10" height="2" fill="#2a6ac0"/><rect x="4" y="5" width="2" height="2" fill="#3a8ad8"/><rect x="7" y="5.5" width="17" height="1" fill="#8a98a8"/><rect x="54" y="5" width="2" height="2" fill="#3a8ad8"/><rect x="57" y="5.5" width="16" height="1" fill="#8a98a8"/><rect x="102" y="5" width="2" height="2" fill="#3a8ad8"/><rect x="105" y="5.5" width="15" height="1" fill="#8a98a8"/><rect x="4" y="35" width="2" height="2" fill="#3a8ad8"/><rect x="7" y="35.5" width="17" height="1" fill="#8a98a8"/><rect x="54" y="32" width="2" height="2" fill="#3a8ad8"/><rect x="57" y="32.5" width="16" height="1" fill="#8a98a8"/><rect x="4" y="50" width="2" height="2" fill="#3a8ad8"/><rect x="7" y="50.5" width="17" height="1" fill="#8a98a8"/><rect x="54" y="51" width="2" height="2" fill="#3a8ad8"/><rect x="57" y="51.5" width="16" height="1" fill="#8a98a8"/><rect x="376" y="5" width="2" height="2" fill="#3a8ad8"/><rect x="379" y="5.5" width="17" height="1" fill="#8a98a8"/><rect x="426" y="5" width="2" height="2" fill="#3a8ad8"/><rect x="429" y="5.5" width="17" height="1" fill="#8a98a8"/><rect x="376" y="35" width="2" height="2" fill="#3a8ad8"/><rect x="379" y="35.5" width="17" height="1" fill="#8a98a8"/><rect x="426" y="39" width="2" height="2" fill="#3a8ad8"/><rect x="429" y="39.5" width="17" height="1" fill="#8a98a8"/><rect x="376" y="49" width="2" height="2" fill="#3a8ad8"/><rect x="379" y="49.5" width="17" height="1" fill="#8a98a8"/><rect x="426" y="55" width="2" height="2" fill="#3a8ad8"/><rect x="429" y="55.5" width="17" height="1" fill="#8a98a8"/><rect x="8" y="9" width="7" height="0.9" fill="#9aa4ae"/><rect x="23" y="9" width="7" height="0.9" fill="#9aa4ae"/><rect x="38" y="9" width="7" height="0.9" fill="#9aa4ae"/><rect x="8" y="19" width="7" height="0.9" fill="#9aa4ae"/><rect x="23" y="19" width="7" height="0.9" fill="#9aa4ae"/><rect x="38" y="19" width="7" height="0.9" fill="#9aa4ae"/><rect x="56" y="22" width="14" height="0.9" fill="#8a94a0"/><rect x="56" y="25" width="14" height="0.9" fill="#8a94a0"/><rect x="80" y="22" width="14" height="0.9" fill="#8a94a0"/><rect x="80" y="25" width="14" height="0.9" fill="#8a94a0"/><rect x="6" y="56.5" width="10" height="0.8" fill="#7a8490"/><rect x="22" y="56.5" width="10" height="0.8" fill="#7a8490"/><rect x="6" y="59.5" width="10" height="0.8" fill="#7a8490"/><rect x="22" y="59.5" width="10" height="0.8" fill="#7a8490"/><rect x="141" y="1" width="124" height="34" fill="#303a48" stroke="#4a6e9e" stroke-width="0.7"/><path d="M178 24 A12 8 0 0 1 202 24" stroke="#40a0e0" stroke-width="2" fill="none"/><path d="M178 24 A12 8 0 0 1 186 17" stroke="#e0c040" stroke-width="2" fill="none"/><rect x="150" y="9" width="5" height="3" fill="#e0c040"/><rect x="162" y="9" width="5" height="3" fill="#40a0e0"/><rect x="174" y="9" width="5" height="3" fill="#40a0e0"/><rect x="150" y="22" width="5" height="3" fill="#40c8c0"/><path d="M240 34 V10 Q240 6 232 6" stroke="#c8ccd0" stroke-width="1" fill="none"/><ellipse cx="230" cy="6.5" rx="4" ry="1.6" fill="#e8e8e8"/><ellipse cx="250" cy="12" rx="4" ry="1.6" fill="#e8e8e8"/><path d="M240 14 Q244 12 248 12" stroke="#c8ccd0" stroke-width="0.8" fill="none"/><rect x="374" y="3" width="48" height="28" fill="#383e47" stroke="#46505c" stroke-width="0.5"/><rect x="374" y="33" width="48" height="12" fill="#383e47" stroke="#46505c" stroke-width="0.5"/><rect x="374" y="47" width="48" height="17" fill="#383e47" stroke="#46505c" stroke-width="0.5"/><rect x="424" y="3" width="48" height="22" fill="#383e47" stroke="#46505c" stroke-width="0.5"/><rect x="424" y="27" width="48" height="8" fill="#383e47" stroke="#46505c" stroke-width="0.5"/><rect x="424" y="37" width="48" height="14" fill="#383e47" stroke="#46505c" stroke-width="0.5"/><rect x="424" y="53" width="48" height="11" fill="#383e47" stroke="#46505c" stroke-width="0.5"/><rect x="356" y="48" width="16" height="16" fill="#383e47" stroke="#46505c" stroke-width="0.5"/><rect x="386" y="10" width="10" height="6" fill="#3a7ad0"/><rect x="400" y="11" width="14" height="1.5" fill="#9aa"/><rect x="380" y="22" width="8" height="3" fill="#2a7ad0"/><rect x="406" y="22" width="8" height="3" fill="#2a7ad0"/><rect x="431" y="45" width="2.5" height="4" fill="#40b0e8"/><rect x="438" y="42" width="2.5" height="7" fill="#40b0e8"/><rect x="445" y="44" width="2.5" height="5" fill="#40b0e8"/><rect x="452" y="41" width="2.5" height="8" fill="#40b0e8"/><rect x="459" y="43" width="2.5" height="6" fill="#40b0e8"/><rect x="466" y="40" width="2.5" height="9" fill="#40b0e8"/><path d="M428 15 L436 11 L444 14 L452 10 L460 13 L468 11" stroke="#40b0e0" stroke-width="0.9" fill="none"/><path d="M428 17 L436 15 L444 17 L452 14 L460 16 L468 15" stroke="#60c070" stroke-width="0.7" fill="none"/><rect x="428" y="29" width="40" height="1" fill="#5e6874"/><rect x="428" y="32" width="40" height="1" fill="#5e6874"/><rect x="378" y="51" width="40" height="1.2" fill="#5e6874"/><rect x="378" y="55" width="40" height="1.2" fill="#5e6874"/><rect x="378" y="59" width="40" height="1.2" fill="#5e6874"/><rect x="377" y="36" width="4" height="3" fill="#e04040"/><rect x="377" y="41" width="4" height="3" fill="#e04040"/><rect x="383" y="37" width="14" height="1" fill="#8a94a0"/><rect x="430" y="57" width="6" height="3" fill="#40c070"/><rect x="446" y="57" width="6" height="3" fill="#e0c040"/><rect x="358" y="51" width="12" height="2" fill="#3a7ad0"/></svg><div class="t" style="left:266px;top:625px;font-size:16px;font-weight:bold;color:#fff;text-shadow:0 0 3px rgba(0,0,0,.6)">智慧照明监控管理中心（IOC)</div><svg class="a" style="left:0;top:0" width="680" height="1012"><path d="M104 678.5 H617.5" stroke="#5b9bd5" stroke-width="1.5" fill="none"/><path d="M366 663 V678" stroke="#5b9bd5" stroke-width="1.5"/><path d="M104 678 V692" stroke="#5b9bd5" stroke-width="1.5"/><path d="M196 678 V692" stroke="#5b9bd5" stroke-width="1.5"/><path d="M283 678 V692" stroke="#5b9bd5" stroke-width="1.5"/><path d="M366 678 V692" stroke="#5b9bd5" stroke-width="1.5"/><path d="M451 678 V692" stroke="#5b9bd5" stroke-width="1.5"/><path d="M535 678 V692" stroke="#5b9bd5" stroke-width="1.5"/><path d="M617.5 678 V692" stroke="#5b9bd5" stroke-width="1.5"/><path d="M111 754 V799" stroke="#5b9bd5" stroke-width="1.5"/><path d="M196 754 V799" stroke="#5b9bd5" stroke-width="1.5"/><path d="M281 754 V799" stroke="#5b9bd5" stroke-width="1.5"/><path d="M366 754 V799" stroke="#5b9bd5" stroke-width="1.5"/><path d="M452 754 V799" stroke="#5b9bd5" stroke-width="1.5"/><path d="M535 754 V799" stroke="#5b9bd5" stroke-width="1.5"/><path d="M620 754 V799" stroke="#5b9bd5" stroke-width="1.5"/><path d="M111 799 H620" stroke="#5b9bd5" stroke-width="1.5"/><path d="M359 812 V826 M370 812 V826" stroke="#5b9bd5" stroke-width="1.2"/></svg><div class="t" style="left:12px;top:709px;font-size:12px;font-weight:bold;color:#111">应用层</div><div class="a" style="left:73px;top:691px;width:76px;height:48px;border:1.5px solid #5b9be0;background:#fff;box-shadow:1px 1px 2px rgba(0,0,0,.15)"><svg class="a" style="left:0;top:0" width="73" height="45"><rect x="0" y="0" width="73" height="45" fill="#fff"/><rect x="0" y="0" width="73" height="3" fill="#3a7fd5"/><rect x="0" y="3" width="73" height="42" fill="#e6e2d4"/><rect x="28" y="10" width="5" height="2" fill="#c4dca8"/><rect x="41" y="18" width="2" height="4" fill="#c4dca8"/><rect x="10" y="20" width="2" height="2" fill="#c4dca8"/><rect x="34" y="35" width="3" height="3" fill="#c4dca8"/><rect x="46" y="40" width="5" height="3" fill="#c4dca8"/><rect x="68" y="6" width="6" height="3" fill="#c4dca8"/><rect x="17" y="8" width="4" height="4" fill="#c4dca8"/><rect x="19" y="26" width="5" height="3" fill="#c4dca8"/><rect x="41" y="6" width="2" height="3" fill="#c4dca8"/><rect x="50" y="20" width="4" height="4" fill="#c4dca8"/><rect x="36" y="15" width="6" height="4" fill="#c4dca8"/><rect x="23" y="26" width="5" height="5" fill="#c4dca8"/><rect x="52" y="15" width="7" height="2" fill="#c4dca8"/><rect x="34" y="33" width="3" height="3" fill="#c4dca8"/><rect x="10" y="29" width="6" height="4" fill="#c4dca8"/><rect x="61" y="16" width="5" height="4" fill="#c4dca8"/><rect x="43" y="21" width="6" height="5" fill="#c4dca8"/><rect x="37" y="29" width="2" height="4" fill="#c4dca8"/><rect x="47" y="42" width="6" height="3" fill="#c4dca8"/><rect x="32" y="29" width="2" height="3" fill="#c4dca8"/><rect x="18" y="8" width="2" height="4" fill="#c4dca8"/><rect x="16" y="13" width="4" height="5" fill="#c4dca8"/><path d="M6 22 L9 41" stroke="#faf8f2" stroke-width="0.8"/><path d="M60 39 L47 35" stroke="#faf8f2" stroke-width="0.8"/><path d="M26 40 L54 23" stroke="#faf8f2" stroke-width="0.8"/><path d="M13 13 L-3 12" stroke="#faf8f2" stroke-width="0.8"/><path d="M43 14 L13 10" stroke="#faf8f2" stroke-width="0.8"/><path d="M27 27 L54 36" stroke="#faf8f2" stroke-width="0.8"/><path d="M38 29 L48 7" stroke="#faf8f2" stroke-width="0.8"/><path d="M66 36 L88 51" stroke="#faf8f2" stroke-width="0.8"/><path d="M29 20 L5 26" stroke="#faf8f2" stroke-width="0.8"/><path d="M5 6 L-13 -11" stroke="#faf8f2" stroke-width="0.8"/><path d="M25 5 L-5 -12" stroke="#faf8f2" stroke-width="0.8"/><path d="M7 18 L-21 37" stroke="#faf8f2" stroke-width="0.8"/><path d="M45 9 L30 2" stroke="#faf8f2" stroke-width="0.8"/><path d="M27 8 L48 33" stroke="#faf8f2" stroke-width="0.8"/><path d="M34 23 L9 3" stroke="#faf8f2" stroke-width="0.8"/><path d="M25 14 L45 -3" stroke="#faf8f2" stroke-width="0.8"/><path d="M12 16 L30 28 L45 36 L72 46 M34 4 L28 44 M52 4 L46 30" stroke="#b08a6a" stroke-width="1.6" fill="none"/><path d="M12 20 L22 8" stroke="#a070d0" stroke-width="1" fill="none"/><rect x="0" y="3" width="10" height="42" fill="#fff"/><rect x="1.5" y="10" width="2" height="2" fill="#3a7fd5"/><rect x="4.5" y="10.5" width="4" height="1" fill="#bbb"/><rect x="1.5" y="15" width="2" height="2" fill="#f06a6a"/><rect x="4.5" y="15.5" width="4" height="1" fill="#bbb"/><rect x="1.5" y="20" width="2" height="2" fill="#f0a040"/><rect x="4.5" y="20.5" width="4" height="1" fill="#bbb"/><rect x="1.5" y="25" width="2" height="2" fill="#40c0e0"/><rect x="4.5" y="25.5" width="4" height="1" fill="#bbb"/><circle cx="5" cy="6" r="1.6" fill="#3a7fd5"/><circle cx="13" cy="7" r="2.5" fill="#3a6ad0"/></svg></div><div class="lbl" style="left:87px;top:740px">资源管理</div><div class="a" style="left:158px;top:691px;width:76px;height:48px;border:1.5px solid #5b9be0;background:#fff;box-shadow:1px 1px 2px rgba(0,0,0,.15)"><svg class="a" style="left:0;top:0" width="73" height="45"><rect x="0" y="0" width="73" height="45" fill="#fff"/><rect x="0" y="0" width="73" height="3" fill="#3a7fd5"/><rect x="0" y="3" width="10" height="42" fill="#f6f7f9"/><rect x="1" y="7" width="2" height="2" fill="#3a7fd5"/><rect x="4" y="7.5" width="5" height="1" fill="#ccc"/><rect x="1" y="11" width="2" height="2" fill="#8cc850"/><rect x="4" y="11.5" width="5" height="1" fill="#ccc"/><rect x="1" y="15" width="2" height="2" fill="#f07050"/><rect x="4" y="15.5" width="5" height="1" fill="#ccc"/><rect x="1" y="19" width="2" height="2" fill="#f0a040"/><rect x="4" y="19.5" width="5" height="1" fill="#ccc"/><rect x="1" y="23" width="2" height="2" fill="#b070d0"/><rect x="4" y="23.5" width="5" height="1" fill="#ccc"/><rect x="1" y="27" width="2" height="2" fill="#40b0e0"/><rect x="4" y="27.5" width="5" height="1" fill="#ccc"/><rect x="28" y="10" width="4" height="2" fill="#3a7fd5"/><rect x="14" y="17" width="4" height="1.5" fill="#aaa"/><rect x="24" y="17" width="4" height="1.5" fill="#aaa"/><rect x="34" y="17" width="4" height="1.5" fill="#aaa"/><rect x="44" y="17" width="4" height="1.5" fill="#aaa"/><rect x="54" y="17" width="4" height="1.5" fill="#aaa"/><rect x="64" y="17" width="4" height="1.5" fill="#aaa"/><rect x="12" y="24" width="58" height="1" fill="#e0e2e6"/><rect x="34" y="28" width="34" height="1" fill="#b8bcc2"/><rect x="48" y="28" width="2" height="1.2" fill="#60c060"/><rect x="34" y="31" width="34" height="1" fill="#b8bcc2"/><rect x="48" y="31" width="2" height="1.2" fill="#60c060"/><rect x="34" y="34" width="34" height="1" fill="#b8bcc2"/><rect x="48" y="34" width="2" height="1.2" fill="#60c060"/><rect x="34" y="37" width="34" height="1" fill="#b8bcc2"/><rect x="48" y="37" width="2" height="1.2" fill="#60c060"/><rect x="34" y="40" width="34" height="1" fill="#b8bcc2"/><rect x="48" y="40" width="2" height="1.2" fill="#60c060"/><rect x="13" y="28" width="3" height="2" fill="#e05080"/><rect x="13" y="32" width="3" height="2" fill="#e05080"/></svg></div><div class="lbl" style="left:172px;top:740px">智能监控</div><div class="a" style="left:245px;top:691px;width:76px;height:48px;border:1.5px solid #5b9be0;background:#fff;box-shadow:1px 1px 2px rgba(0,0,0,.15)"><svg class="a" style="left:0;top:0" width="73" height="45"><rect x="0" y="0" width="73" height="45" fill="#fff"/><rect x="0" y="0" width="73" height="3" fill="#3a7fd5"/><rect x="0" y="3" width="8" height="42" fill="#f6f7f9"/><rect x="10" y="6" width="20" height="18" fill="#fff" stroke="#e6e8ec" stroke-width="0.5"/><rect x="32" y="6" width="20" height="18" fill="#fff" stroke="#e6e8ec" stroke-width="0.5"/><rect x="54" y="6" width="18" height="18" fill="#fff" stroke="#e6e8ec" stroke-width="0.5"/><rect x="10" y="26" width="20" height="16" fill="#fff" stroke="#e6e8ec" stroke-width="0.5"/><rect x="32" y="26" width="20" height="16" fill="#fff" stroke="#e6e8ec" stroke-width="0.5"/><rect x="54" y="26" width="18" height="16" fill="#fff" stroke="#e6e8ec" stroke-width="0.5"/><rect x="12" y="18" width="15" height="1.6" fill="#3a7fd5"/><circle cx="40" cy="33" r="3.6" fill="none" stroke="#e05a30" stroke-width="1.8"/><path d="M40 29.4 A3.6 3.6 0 0 1 43.6 33" stroke="#3a7fd5" stroke-width="1.8" fill="none"/><rect x="58.0" y="16" width="1.4" height="4" fill="#e08a50"/><rect x="60.5" y="12" width="1.4" height="8" fill="#e08a50"/><rect x="63.0" y="17" width="1.4" height="3" fill="#e08a50"/><rect x="65.5" y="14" width="1.4" height="6" fill="#e08a50"/><rect x="68.0" y="18" width="1.4" height="2" fill="#e08a50"/><path d="M34 14 H50" stroke="#e0a0d0" stroke-width="0.6"/><rect x="56" y="30" width="14" height="1" fill="#b0b4ba"/><rect x="56" y="33" width="14" height="1" fill="#b0b4ba"/><rect x="56" y="36" width="14" height="1" fill="#b0b4ba"/></svg></div><div class="lbl" style="left:259px;top:740px">单灯管理</div><div class="a" style="left:326px;top:691px;width:76px;height:48px;border:1.5px solid #5b9be0;background:#fff;box-shadow:1px 1px 2px rgba(0,0,0,.15)"><svg class="a" style="left:0;top:0" width="73" height="45"><rect x="0" y="0" width="73" height="45" fill="#fff"/><rect x="0" y="0" width="73" height="3" fill="#3a7fd5"/><rect x="0" y="3" width="73" height="42" fill="#ece6d8"/><rect x="28" y="10" width="5" height="2" fill="#c4dca8"/><rect x="41" y="18" width="2" height="4" fill="#c4dca8"/><rect x="10" y="20" width="2" height="2" fill="#c4dca8"/><rect x="34" y="35" width="3" height="3" fill="#c4dca8"/><rect x="46" y="40" width="5" height="3" fill="#c4dca8"/><rect x="68" y="6" width="6" height="3" fill="#c4dca8"/><rect x="17" y="8" width="4" height="4" fill="#c4dca8"/><rect x="19" y="26" width="5" height="3" fill="#c4dca8"/><rect x="41" y="6" width="2" height="3" fill="#c4dca8"/><rect x="50" y="20" width="4" height="4" fill="#c4dca8"/><rect x="36" y="15" width="6" height="4" fill="#c4dca8"/><rect x="23" y="26" width="5" height="5" fill="#c4dca8"/><rect x="52" y="15" width="7" height="2" fill="#c4dca8"/><rect x="34" y="33" width="3" height="3" fill="#c4dca8"/><rect x="10" y="29" width="6" height="4" fill="#c4dca8"/><rect x="61" y="16" width="5" height="4" fill="#c4dca8"/><rect x="43" y="21" width="6" height="5" fill="#c4dca8"/><rect x="37" y="29" width="2" height="4" fill="#c4dca8"/><rect x="47" y="42" width="6" height="3" fill="#c4dca8"/><rect x="32" y="29" width="2" height="3" fill="#c4dca8"/><rect x="18" y="8" width="2" height="4" fill="#c4dca8"/><rect x="16" y="13" width="4" height="5" fill="#c4dca8"/><path d="M6 22 L9 41" stroke="#faf8f2" stroke-width="0.8"/><path d="M60 39 L47 35" stroke="#faf8f2" stroke-width="0.8"/><path d="M26 40 L54 23" stroke="#faf8f2" stroke-width="0.8"/><path d="M13 13 L-3 12" stroke="#faf8f2" stroke-width="0.8"/><path d="M43 14 L13 10" stroke="#faf8f2" stroke-width="0.8"/><path d="M27 27 L54 36" stroke="#faf8f2" stroke-width="0.8"/><path d="M38 29 L48 7" stroke="#faf8f2" stroke-width="0.8"/><path d="M66 36 L88 51" stroke="#faf8f2" stroke-width="0.8"/><path d="M29 20 L5 26" stroke="#faf8f2" stroke-width="0.8"/><path d="M5 6 L-13 -11" stroke="#faf8f2" stroke-width="0.8"/><path d="M25 5 L-5 -12" stroke="#faf8f2" stroke-width="0.8"/><path d="M7 18 L-21 37" stroke="#faf8f2" stroke-width="0.8"/><path d="M45 9 L30 2" stroke="#faf8f2" stroke-width="0.8"/><path d="M27 8 L48 33" stroke="#faf8f2" stroke-width="0.8"/><path d="M34 23 L9 3" stroke="#faf8f2" stroke-width="0.8"/><path d="M25 14 L45 -3" stroke="#faf8f2" stroke-width="0.8"/><path d="M10 20 L30 16 L60 30 M20 40 L40 28 M44 4 L50 44" stroke="#e8b888" stroke-width="0.9" fill="none"/><circle cx="22" cy="12" r="3.5" fill="#3a8ae0"/><circle cx="22" cy="12" r="2.3" fill="none" stroke="#9cc8f4" stroke-width="0.5"/><circle cx="30" cy="16" r="3.8" fill="#3a8ae0"/><circle cx="30" cy="16" r="2.5999999999999996" fill="none" stroke="#9cc8f4" stroke-width="0.5"/><circle cx="40" cy="12" r="3.4" fill="#3a8ae0"/><circle cx="40" cy="12" r="2.2" fill="none" stroke="#9cc8f4" stroke-width="0.5"/><circle cx="51" cy="9" r="3" fill="#3a8ae0"/><circle cx="51" cy="9" r="1.8" fill="none" stroke="#9cc8f4" stroke-width="0.5"/><circle cx="57" cy="13" r="3.2" fill="#3a8ae0"/><circle cx="57" cy="13" r="2.0" fill="none" stroke="#9cc8f4" stroke-width="0.5"/><circle cx="19" cy="28" r="3.6" fill="#3a8ae0"/><circle cx="19" cy="28" r="2.4000000000000004" fill="none" stroke="#9cc8f4" stroke-width="0.5"/><circle cx="35" cy="36" r="3.4" fill="#3a8ae0"/><circle cx="35" cy="36" r="2.2" fill="none" stroke="#9cc8f4" stroke-width="0.5"/><rect x="0" y="3" width="9" height="42" fill="#fff"/><rect x="1.5" y="8" width="6" height="1" fill="#aaa"/><rect x="1.5" y="13" width="6" height="1" fill="#aaa"/><rect x="1.5" y="18" width="6" height="1" fill="#aaa"/><rect x="1.5" y="23" width="6" height="1" fill="#aaa"/></svg></div><div class="lbl" style="left:340px;top:740px">光敏采集</div><div class="a" style="left:412px;top:691px;width:76px;height:48px;border:1.5px solid #5b9be0;background:#fff;box-shadow:1px 1px 2px rgba(0,0,0,.15)"><svg class="a" style="left:0;top:0" width="73" height="45"><rect x="0" y="0" width="73" height="45" fill="#fff"/><rect x="8" y="5" width="2" height="2" fill="#f06060"/><rect x="8" y="9" width="3" height="1" fill="#999"/><rect x="20" y="5" width="2" height="2" fill="#f0a040"/><rect x="20" y="9" width="3" height="1" fill="#999"/><rect x="32" y="5" width="2" height="2" fill="#60c060"/><rect x="32" y="9" width="3" height="1" fill="#999"/><rect x="44" y="5" width="2" height="2" fill="#a0a0a0"/><rect x="44" y="9" width="3" height="1" fill="#999"/><rect x="56" y="5" width="2" height="2" fill="#5080e0"/><rect x="56" y="9" width="3" height="1" fill="#999"/><rect x="4" y="14" width="2.5" height="3" fill="#f0a030"/><rect x="8" y="14" width="10" height="1" fill="#999"/><rect x="6" y="19" width="8" height="1" fill="#bbb"/><rect x="6" y="22" width="6" height="1" fill="#bbb"/><rect x="28" y="14" width="2.5" height="3" fill="#f0a030"/><rect x="32" y="14" width="10" height="1" fill="#999"/><rect x="30" y="19" width="8" height="1" fill="#bbb"/><rect x="30" y="22" width="6" height="1" fill="#bbb"/><rect x="52" y="14" width="2.5" height="3" fill="#40c050"/><rect x="56" y="14" width="10" height="1" fill="#999"/><rect x="54" y="19" width="8" height="1" fill="#bbb"/><rect x="54" y="22" width="6" height="1" fill="#bbb"/><rect x="4" y="28" width="2.5" height="3" fill="#40c050"/><rect x="8" y="28" width="10" height="1" fill="#999"/><rect x="6" y="33" width="8" height="1" fill="#bbb"/><rect x="6" y="36" width="6" height="1" fill="#bbb"/><rect x="28" y="28" width="2.5" height="3" fill="#e070b0"/><rect x="32" y="28" width="10" height="1" fill="#999"/><rect x="30" y="33" width="8" height="1" fill="#bbb"/><rect x="30" y="36" width="6" height="1" fill="#bbb"/><rect x="52" y="28" width="2.5" height="3" fill="#ccc"/><rect x="56" y="28" width="10" height="1" fill="#999"/><rect x="54" y="33" width="8" height="1" fill="#bbb"/><rect x="54" y="36" width="6" height="1" fill="#bbb"/><path d="M2 26 H70" stroke="#eee" stroke-width="0.5"/></svg></div><div class="lbl" style="left:427px;top:740px">门禁管理</div><div class="a" style="left:495px;top:691px;width:76px;height:48px;border:1.5px solid #5b9be0;background:#fff;box-shadow:1px 1px 2px rgba(0,0,0,.15)"><svg class="a" style="left:0;top:0" width="73" height="45"><rect x="0" y="0" width="73" height="45" fill="#fff"/><rect x="0" y="3" width="14" height="42" fill="#f6f7f9"/><rect x="1.5" y="7.0" width="2" height="2" fill="#f05050"/><rect x="5" y="7.5" width="7" height="1" fill="#bbb"/><rect x="1.5" y="11.2" width="2" height="2" fill="#f0a040"/><rect x="5" y="11.7" width="7" height="1" fill="#bbb"/><rect x="1.5" y="15.4" width="2" height="2" fill="#b070d0"/><rect x="5" y="15.9" width="7" height="1" fill="#bbb"/><rect x="1.5" y="19.6" width="2" height="2" fill="#40c0e0"/><rect x="5" y="20.1" width="7" height="1" fill="#bbb"/><rect x="1.5" y="23.8" width="2" height="2" fill="#f07030"/><rect x="5" y="24.3" width="7" height="1" fill="#bbb"/><rect x="1.5" y="28.0" width="2" height="2" fill="#60c060"/><rect x="5" y="28.5" width="7" height="1" fill="#bbb"/><rect x="1.5" y="32.2" width="2" height="2" fill="#40b0e0"/><rect x="5" y="32.7" width="7" height="1" fill="#bbb"/><rect x="1.5" y="36.400000000000006" width="2" height="2" fill="#3a7fd5"/><rect x="5" y="36.900000000000006" width="7" height="1" fill="#bbb"/><rect x="18" y="7.0" width="10" height="1" fill="#aaa"/><rect x="32" y="7.0" width="14" height="1" fill="#ccc"/><rect x="52" y="7.0" width="8" height="1" fill="#ccc"/><rect x="18" y="11.5" width="10" height="1" fill="#aaa"/><rect x="32" y="11.5" width="14" height="1" fill="#ccc"/><rect x="52" y="11.5" width="8" height="1" fill="#ccc"/><rect x="18" y="16.0" width="10" height="1" fill="#aaa"/><rect x="32" y="16.0" width="14" height="1" fill="#ccc"/><rect x="52" y="16.0" width="8" height="1" fill="#ccc"/><rect x="18" y="20.5" width="10" height="1" fill="#aaa"/><rect x="32" y="20.5" width="14" height="1" fill="#ccc"/><rect x="52" y="20.5" width="8" height="1" fill="#ccc"/><rect x="18" y="25.0" width="10" height="1" fill="#aaa"/><rect x="32" y="25.0" width="14" height="1" fill="#ccc"/><rect x="52" y="25.0" width="8" height="1" fill="#ccc"/><rect x="18" y="29.5" width="10" height="1" fill="#aaa"/><rect x="32" y="29.5" width="14" height="1" fill="#ccc"/><rect x="52" y="29.5" width="8" height="1" fill="#ccc"/><rect x="18" y="34.0" width="10" height="1" fill="#aaa"/><rect x="32" y="34.0" width="14" height="1" fill="#ccc"/><rect x="52" y="34.0" width="8" height="1" fill="#ccc"/><rect x="18" y="38.5" width="10" height="1" fill="#aaa"/><rect x="32" y="38.5" width="14" height="1" fill="#ccc"/><rect x="52" y="38.5" width="8" height="1" fill="#ccc"/><rect x="52" y="40" width="18" height="2" fill="#3a7fd5"/></svg></div><div class="lbl" style="left:510px;top:740px">运维管理</div><div class="a" style="left:580px;top:691px;width:76px;height:48px;border:1.5px solid #5b9be0;background:#fff;box-shadow:1px 1px 2px rgba(0,0,0,.15)"><svg class="a" style="left:0;top:0" width="73" height="45"><rect x="0" y="0" width="73" height="45" fill="#fff"/><rect x="0" y="0" width="73" height="45" fill="#f0f2f5"/><rect x="0.5" y="0.5" width="23" height="44" fill="#fff"/><rect x="0.5" y="0.5" width="23" height="3" fill="#2a56a8"/><rect x="3" y="6" width="6" height="1.2" fill="#888"/><rect x="13" y="6" width="7" height="1.2" fill="#aaa"/><rect x="3" y="11" width="6" height="1.2" fill="#888"/><rect x="13" y="11" width="7" height="1.2" fill="#aaa"/><rect x="3" y="16" width="6" height="1.2" fill="#888"/><rect x="13" y="16" width="7" height="1.2" fill="#aaa"/><rect x="0.5" y="19" width="23" height="3" fill="#dfe8f4"/><rect x="17" y="19.5" width="4" height="2" fill="#4a78c0"/><rect x="0.5" y="23" width="23" height="18" fill="#1f3e90"/><rect x="3" y="27" width="18" height="1" fill="#5a78c0"/><rect x="4" y="35" width="3" height="3" fill="#e0a030"/><rect x="14" y="35" width="3" height="3" fill="#e05050"/><rect x="6" y="32" width="3" height="6" fill="#40c070"/><rect x="16" y="34" width="3" height="4" fill="#e0a030"/><rect x="25" y="0.5" width="24" height="44" fill="#fff"/><rect x="25" y="0.5" width="24" height="15" fill="#28b4a0"/><ellipse cx="37" cy="9" rx="4" ry="2.6" fill="none" stroke="#c4f0ea" stroke-width="0.7"/><rect x="27" y="18" width="5" height="4" fill="#3a8ae0"/><rect x="34.5" y="18" width="5" height="4" fill="#f0a030"/><rect x="42" y="18" width="5" height="4" fill="#60c060"/><circle cx="29.5" cy="27" r="1.8" fill="#3a8ae0"/><circle cx="37" cy="27" r="1.8" fill="#f0a030"/><circle cx="44.5" cy="27" r="1.8" fill="#40c070"/><circle cx="29.5" cy="35" r="1.8" fill="#e05050"/><circle cx="37" cy="35" r="1.8" fill="#e05050"/><circle cx="44.5" cy="35" r="1.8" fill="#e05050"/><rect x="51" y="0.5" width="21.5" height="44" fill="#fff"/><rect x="51" y="0.5" width="21.5" height="19" fill="#1a4e5e"/><rect x="58" y="5" width="9" height="1.5" fill="#cfe"/><rect x="60" y="10" width="5" height="1" fill="#8ab"/><circle cx="62.5" cy="15" r="1.5" fill="none" stroke="#8ab" stroke-width="0.5"/><circle cx="56" cy="31" r="2.6" fill="none" stroke="#60c080" stroke-width="1"/><circle cx="63" cy="31" r="2.6" fill="none" stroke="#60c080" stroke-width="1"/><circle cx="70" cy="31" r="2.6" fill="none" stroke="#60c080" stroke-width="1"/><rect x="55" y="23" width="2" height="2" fill="#f0a030"/><rect x="61" y="23" width="2" height="2" fill="#f0a030"/><rect x="67" y="23" width="2" height="2" fill="#f0a030"/><rect x="73" y="23" width="2" height="2" fill="#f0a030"/></svg></div><div class="lbl" style="left:595px;top:740px">移动APP</div><svg class="a" style="left:0;top:0" width="680" height="1012">
<path d="M254 800 C256 792 272 786 287 787 C292 779 312 775 335 775 C358 774 385 776 400 782 C418 778 445 779 453 787 C462 790 470 796 471 802 C470 809 462 812 455 813 L265 813 C258 812 253 806 254 800 Z" fill="#5a9ad5"/>
</svg><div class="t" style="left:308px;top:790px;font-size:13.7px;font-weight:bold;color:#1a2533">智慧照明管理平台</div><div class="t" style="left:12px;top:835px;font-size:12px;font-weight:bold;color:#111">网络层</div><svg class="a" style="left:0;top:0" width="680" height="1012">
<rect x="61" y="825" width="614" height="33" rx="3" fill="none" stroke="#2e78c0" stroke-width="2.4" stroke-dasharray="9 3.5 2 3.5 2 3.5"/>
</svg><div class="t" style="left:299px;top:834px;font-size:15.5px;color:#404040;font-family:'Liberation Serif',serif;text-shadow:1px 1px 1px rgba(0,0,0,.2)">基础设施物联网平台</div><div class="t" style="left:13px;top:934px;font-size:12px;font-weight:bold;color:#111">感知层</div><svg class="a" style="left:0;top:0" width="680" height="1012">
<rect x="72.5" y="894" width="586" height="89" rx="1.5" fill="none" stroke="#9ed36a" stroke-width="1.6" stroke-dasharray="4 3"/>
<path d="M92 906 V943 M339 906 V943 M452 906 V943 M548 906 V943 M644 906 V943" stroke="#4e90a8" stroke-width="1.8"/><path d="M92 943 V985 M339 943 V985 M452 943 V985 M548 943 V985 M644 943 V985" stroke="#bcd6e4" stroke-width="1"/>
</svg><svg class="a" style="left:0;top:0" width="680" height="1012"><defs><filter id="blur1"><feGaussianBlur stdDeviation="0.8"/></filter></defs><polygon points="190.5,862.5 165.5,881.0 181.5,879.5" fill="#888" opacity="0.35" filter="url(#blur1)"/><polygon points="186.5,878.0 171.5,879.5 162.5,896.5" fill="#888" opacity="0.35" filter="url(#blur1)"/><polygon points="189,861 164,879.5 180,878" fill="#f8c93c" stroke="#eab22a" stroke-width="0.5" stroke-linejoin="round"/><polygon points="185,876.5 170,878 161,895" fill="#f8c93c" stroke="#eab22a" stroke-width="0.5" stroke-linejoin="round"/><polygon points="374.5,861.5 392.0,869.5 393.0,880.5" fill="#888" opacity="0.35" filter="url(#blur1)"/><polygon points="389.0,862.5 391.0,873.5 408.5,881.5" fill="#888" opacity="0.35" filter="url(#blur1)"/><polygon points="373,860 390.5,868 391.5,879" fill="#f8c93c" stroke="#eab22a" stroke-width="0.5" stroke-linejoin="round"/><polygon points="387.5,861 389.5,872 407,880" fill="#f8c93c" stroke="#eab22a" stroke-width="0.5" stroke-linejoin="round"/><polygon points="495.5,864.9 510.0,873.5 510.5,866.3 516.5,875.0 529.7,885.5 515.0,879.0 513.8,884.5" fill="#888" opacity="0.35" filter="url(#blur1)"/><polygon points="494,863.4 508.5,872 509,864.8 515,873.5 528.2,884 513.5,877.5 512.3,883" fill="#f8c93c" stroke="#eab22a" stroke-width="0.5" stroke-linejoin="round"/><polygon points="588.5,860.0 598.5,871.0 600.9,864.7 604.5,872.0 615.3,885.5 603.0,876.0 600.3,879.5" fill="#888" opacity="0.35" filter="url(#blur1)"/><polygon points="587,858.5 597,869.5 599.4,863.2 603,870.5 613.8,884 601.5,874.5 598.8,878" fill="#f8c93c" stroke="#eab22a" stroke-width="0.5" stroke-linejoin="round"/></svg><div class="gr" style="left:191px;top:874px">4G</div><div class="gr" style="left:174px;top:896px;font-size:12px">电力线载波</div><div class="gr" style="left:351px;top:878px;font-size:13px">NB-IoT/Cat.1</div><div class="gr" style="left:470px;top:874px">4G</div><div class="gr" style="left:558px;top:874px">4G</div><svg class="a" style="left:108px;top:909px" width="82" height="48" viewBox="0 0 82 48" >
<rect x="3" y="2" width="76" height="44" rx="3" fill="#878b8f"/>
<rect x="1" y="8" width="80" height="22" rx="2" fill="#8f9397"/>
<rect x="2" y="29" width="78" height="16" rx="1" fill="#9a9ea2"/>
<rect x="4" y="31" width="74" height="1.4" fill="#b8bcc0"/>
<rect x="5" y="36" width="72" height="2.2" fill="#6aa060"/>
<rect x="5" y="41" width="72" height="2.2" fill="#6aa060"/>
<rect x="8" y="34" width="3" height="3" fill="#c8a030"/>
<rect x="31" y="10" width="22" height="17" rx="1" fill="#2e3032"/><rect x="33.5" y="12" width="16" height="12" fill="#dfe3df"/>
<g fill="#b03a3a"><rect x="50" y="12" width="2" height="2.5"/><rect x="50" y="17" width="2" height="2.5"/><rect x="50" y="22" width="2" height="2"/></g>
<circle cx="18" cy="18" r="6" fill="none" stroke="#6e7276" stroke-width="1.1"/><circle cx="18" cy="17" r="2.5" fill="none" stroke="#6e7276" stroke-width="0.8"/>
<g fill="#c84040"><rect x="22" y="7" width="1.2" height="1.2"/><rect x="27" y="7" width="1.2" height="1.2"/><rect x="32" y="7" width="1.2" height="1.2"/><rect x="37" y="7" width="1.2" height="1.2"/><rect x="43" y="7" width="1.2" height="1.2"/></g>
<path d="M64 6 l4 3 l4 1" stroke="#3aa0c0" stroke-width="1.2" fill="none"/>
</svg><div class="lbl" style="left:113px;top:962px;font-size:12px">智能监控终端</div><svg class="a" style="left:222px;top:908px" width="48" height="42" viewBox="0 0 48 42" >
<rect x="1" y="1" width="46" height="39" fill="#141416"/>
<path d="M5 8 l3 -3 l3 1 l2 -2" stroke="#40b0d0" stroke-width="1" fill="none"/>
<g fill="#d03838"><rect x="20" y="8" width="1.4" height="1.4"/><rect x="24" y="8" width="1.4" height="1.4"/><rect x="28" y="8" width="1.4" height="1.4"/><rect x="32" y="8" width="1.4" height="1.4"/></g>
<rect x="14" y="19" width="18" height="1.2" fill="#888"/>
<rect x="38" y="32" width="4" height="2" fill="#888"/>
</svg><div class="lbl" style="left:224px;top:960px;font-size:12px">集中器</div><svg class="a" style="left:291px;top:900px" width="28" height="55" viewBox="0 0 28 55" ><rect x="1" y="1" width="26" height="53" rx="2" fill="#7f9cc6"/><rect x="1.5" y="1.5" width="25" height="24" rx="1.5" fill="#dbe6f2"/><path d="M5 8 l3 -3 l3 1" stroke="#3aa060" stroke-width="1.1" fill="none"/><rect x="5" y="17" width="18" height="2.2" fill="#2a5aa0"/><rect x="1.5" y="26" width="25" height="12" fill="#a8bcd8"/><rect x="5" y="29" width="18" height="1" fill="#6a7a90"/><rect x="1.5" y="38" width="25" height="15" fill="#6f92c0"/><rect x="8" y="48" width="12" height="3" fill="#5a7aa8"/></svg><div class="lbl" style="left:280px;top:962px;font-size:12px">PLC单灯</div><svg class="a" style="left:375px;top:901px" width="50" height="55" viewBox="0 0 50 55" ><rect x="1" y="1" width="26" height="53" rx="2" fill="#7f9cc6"/><rect x="1.5" y="1.5" width="25" height="24" rx="1.5" fill="#dbe6f2"/><path d="M5 8 l3 -3 l3 1" stroke="#3aa060" stroke-width="1.1" fill="none"/><rect x="5" y="17" width="18" height="2.2" fill="#2a5aa0"/><rect x="1.5" y="26" width="25" height="12" fill="#a8bcd8"/><rect x="5" y="29" width="18" height="1" fill="#6a7a90"/><rect x="1.5" y="38" width="25" height="15" fill="#6f92c0"/><rect x="8" y="48" width="12" height="3" fill="#5a7aa8"/><path d="M42 6 V46" stroke="#222" stroke-width="1.4"/><ellipse cx="42" cy="50" rx="6" ry="2.5" fill="#1a1a1a"/><path d="M36 50 Q42 44 48 50Z" fill="#222"/><path d="M26 44 Q34 46 38 49" stroke="#333" stroke-width="1" fill="none"/></svg><div class="lbl" style="left:344px;top:962px;font-size:12px"><span style="letter-spacing:0.6px">NB-IoT/Cat.1</span>单灯</div><svg class="a" style="left:476px;top:900px" width="49" height="53" viewBox="0 0 52 56">
<rect x="3.5" y="16" width="5" height="21" rx="1" fill="#111"/><rect x="45.5" y="16" width="5" height="21" rx="1" fill="#111"/>
<g fill="#eee"><ellipse cx="6" cy="20" rx="1.2" ry="1.5"/><ellipse cx="6" cy="26.5" rx="1.2" ry="2"/><ellipse cx="6" cy="33" rx="1.2" ry="1.5"/><ellipse cx="48" cy="20" rx="1.2" ry="1.5"/><ellipse cx="48" cy="26.5" rx="1.2" ry="2"/><ellipse cx="48" cy="33" rx="1.2" ry="1.5"/></g>
<rect x="8" y="0.5" width="38" height="53" fill="#242527"/>
<path d="M8 12 L46 18 L46 32 L8 26 Z" fill="#2c5eaa"/>
<path d="M8 26 L46 32 L46 34 L8 28 Z" fill="#4cae50"/>
<g fill="#e03030"><circle cx="12" cy="15.5" r="0.9"/><circle cx="12" cy="19" r="0.9"/></g><circle cx="12" cy="22.5" r="0.9" fill="#50d040"/>
<g fill="#8aa0c0"><rect x="14" y="15" width="3" height="0.8"/><rect x="14" y="18.5" width="3" height="0.8"/><rect x="14" y="22" width="3" height="0.8"/></g>
<path d="M13 37 l4.5 -2 l4.5 2 v4 q-1 4 -4.5 6 q-3.5 -2 -4.5 -6z" stroke="#ddd" stroke-width="0.8" fill="none"/>
<rect x="34" y="38" width="9" height="9" fill="#ddd"/><rect x="35.5" y="39.5" width="6" height="6" fill="#666"/>
<rect x="12" y="48" width="10" height="0.8" fill="#888"/><rect x="9" y="50.5" width="36" height="1.2" fill="#555"/>
<path d="M12 8 l3 -2 l3 1" stroke="#4ab050" stroke-width="1" fill="none"/>
<rect x="25" y="5.5" width="12" height="1.2" fill="#bbb"/>
</svg><div class="lbl" style="left:465px;top:962px;font-size:12px">智能锁控制器</div><svg class="a" style="left:570px;top:902px" width="48" height="48" viewBox="0 0 48 48" >
<path d="M2 13 L27 38 L27 46 L2 21 Z" fill="#d4a60c"/>
<path d="M27 38 L45 27 L45 35 L27 46 Z" fill="#b88e08"/>
<path d="M2 13 L20 2 L45 27 L27 38 Z" fill="#f6d21e"/>
<path d="M4 14 L20 4 L43 27 L27 36.5 Z" fill="none" stroke="#fbe46a" stroke-width="0.6"/>
<path d="M8 12 L20 5 L31 15 L19 22 Z" fill="#26282c"/>
<ellipse cx="19.5" cy="13" rx="4.5" ry="3.2" fill="#e6e8ea"/><ellipse cx="19.5" cy="12.5" rx="2.5" ry="1.8" fill="#b8bcc0"/>
<circle cx="35" cy="39" r="2.4" fill="#2a2a2a"/><circle cx="35" cy="39" r="1.1" fill="#999"/>
<circle cx="40.5" cy="35.5" r="2.2" fill="#2a2a2a"/><circle cx="40.5" cy="35.5" r="1" fill="#999"/>
<path d="M26 28 l8 -5" stroke="#333" stroke-width="1.2"/>
</svg><div class="lbl" style="left:563px;top:960px;font-size:12px">光敏采集器</div></body></html>
